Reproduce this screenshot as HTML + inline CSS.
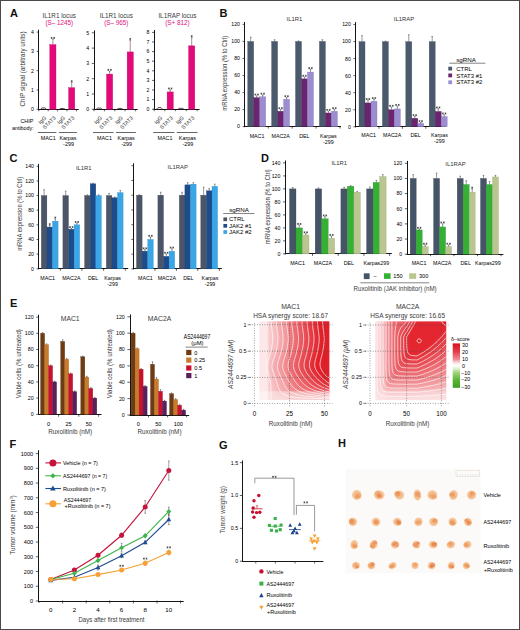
<!DOCTYPE html>
<html><head><meta charset="utf-8"><title>Figure</title>
<style>html,body{margin:0;padding:0;background:#fff;width:520px;height:630px;overflow:hidden}
svg{display:block;font-family:"Liberation Sans",sans-serif}</style></head>
<body><svg width="520" height="630" viewBox="0 0 520 630" font-family="Liberation Sans, sans-serif"><defs><linearGradient id="h1r0" x1="259.5" x2="329.3" y1="0" y2="0" gradientUnits="userSpaceOnUse"><stop offset="0.000" stop-color="#fce8e9"/><stop offset="0.036" stop-color="#fce8e9"/><stop offset="0.072" stop-color="#fce8e9"/><stop offset="0.107" stop-color="#fce8e9"/><stop offset="0.143" stop-color="#f8cacd"/><stop offset="0.179" stop-color="#f7c4c7"/><stop offset="0.215" stop-color="#f6bbbe"/><stop offset="0.251" stop-color="#f5b2b5"/><stop offset="0.287" stop-color="#f4a9ad"/><stop offset="0.322" stop-color="#f3a0a5"/><stop offset="0.358" stop-color="#f2989d"/><stop offset="0.394" stop-color="#f19195"/><stop offset="0.430" stop-color="#ee7b81"/><stop offset="0.466" stop-color="#ed7379"/><stop offset="0.501" stop-color="#ec6b71"/><stop offset="0.537" stop-color="#eb636a"/><stop offset="0.573" stop-color="#ea5b62"/><stop offset="0.609" stop-color="#e9535b"/><stop offset="0.645" stop-color="#e84c54"/><stop offset="0.681" stop-color="#e7454d"/><stop offset="0.716" stop-color="#e63d46"/><stop offset="0.752" stop-color="#e5363f"/><stop offset="0.788" stop-color="#e42f38"/><stop offset="0.824" stop-color="#e32832"/><stop offset="0.860" stop-color="#e2212b"/><stop offset="0.895" stop-color="#e21e28"/><stop offset="0.931" stop-color="#e21e28"/><stop offset="0.967" stop-color="#e21e28"/></linearGradient><linearGradient id="h1r1" x1="259.5" x2="329.3" y1="0" y2="0" gradientUnits="userSpaceOnUse"><stop offset="0.000" stop-color="#fce8e9"/><stop offset="0.036" stop-color="#fce8e9"/><stop offset="0.072" stop-color="#fce8e9"/><stop offset="0.107" stop-color="#fce8e9"/><stop offset="0.143" stop-color="#f8cacd"/><stop offset="0.179" stop-color="#f7c5c7"/><stop offset="0.215" stop-color="#f6bbbe"/><stop offset="0.251" stop-color="#f5b2b5"/><stop offset="0.287" stop-color="#f4a9ad"/><stop offset="0.322" stop-color="#f3a1a5"/><stop offset="0.358" stop-color="#f2999d"/><stop offset="0.394" stop-color="#f19196"/><stop offset="0.430" stop-color="#ee7c82"/><stop offset="0.466" stop-color="#ed737a"/><stop offset="0.501" stop-color="#ec6b72"/><stop offset="0.537" stop-color="#eb636a"/><stop offset="0.573" stop-color="#ea5c63"/><stop offset="0.609" stop-color="#e9545b"/><stop offset="0.645" stop-color="#e84c54"/><stop offset="0.681" stop-color="#e7454d"/><stop offset="0.716" stop-color="#e63e46"/><stop offset="0.752" stop-color="#e5363f"/><stop offset="0.788" stop-color="#e42f39"/><stop offset="0.824" stop-color="#e32832"/><stop offset="0.860" stop-color="#e2212b"/><stop offset="0.895" stop-color="#e21e28"/><stop offset="0.931" stop-color="#e21e28"/><stop offset="0.967" stop-color="#e21e28"/></linearGradient><linearGradient id="h1r2" x1="259.5" x2="329.3" y1="0" y2="0" gradientUnits="userSpaceOnUse"><stop offset="0.000" stop-color="#fce8e9"/><stop offset="0.036" stop-color="#fce8e9"/><stop offset="0.072" stop-color="#fce8e9"/><stop offset="0.107" stop-color="#fce8e9"/><stop offset="0.143" stop-color="#f8cacd"/><stop offset="0.179" stop-color="#f8c5c8"/><stop offset="0.215" stop-color="#f6bcbf"/><stop offset="0.251" stop-color="#f5b3b6"/><stop offset="0.287" stop-color="#f4aaae"/><stop offset="0.322" stop-color="#f3a1a6"/><stop offset="0.358" stop-color="#f2999e"/><stop offset="0.394" stop-color="#f19196"/><stop offset="0.430" stop-color="#ee7c82"/><stop offset="0.466" stop-color="#ed747a"/><stop offset="0.501" stop-color="#ec6c72"/><stop offset="0.537" stop-color="#eb646b"/><stop offset="0.573" stop-color="#ea5c63"/><stop offset="0.609" stop-color="#e9545c"/><stop offset="0.645" stop-color="#e84d55"/><stop offset="0.681" stop-color="#e7454e"/><stop offset="0.716" stop-color="#e63e47"/><stop offset="0.752" stop-color="#e53740"/><stop offset="0.788" stop-color="#e43039"/><stop offset="0.824" stop-color="#e32932"/><stop offset="0.860" stop-color="#e3222c"/><stop offset="0.895" stop-color="#e21e28"/><stop offset="0.931" stop-color="#e21e28"/><stop offset="0.967" stop-color="#e21e28"/></linearGradient><linearGradient id="h1r3" x1="259.5" x2="329.3" y1="0" y2="0" gradientUnits="userSpaceOnUse"><stop offset="0.000" stop-color="#fce8e9"/><stop offset="0.036" stop-color="#fce8e9"/><stop offset="0.072" stop-color="#fce8e9"/><stop offset="0.107" stop-color="#fce8e9"/><stop offset="0.143" stop-color="#f8cacd"/><stop offset="0.179" stop-color="#f8c6c9"/><stop offset="0.215" stop-color="#f6bdc0"/><stop offset="0.251" stop-color="#f5b3b7"/><stop offset="0.287" stop-color="#f4abae"/><stop offset="0.322" stop-color="#f3a2a6"/><stop offset="0.358" stop-color="#f29a9f"/><stop offset="0.394" stop-color="#f19297"/><stop offset="0.430" stop-color="#ee7d83"/><stop offset="0.466" stop-color="#ed757b"/><stop offset="0.501" stop-color="#ec6d73"/><stop offset="0.537" stop-color="#eb656c"/><stop offset="0.573" stop-color="#ea5d64"/><stop offset="0.609" stop-color="#e9555d"/><stop offset="0.645" stop-color="#e84e55"/><stop offset="0.681" stop-color="#e7464e"/><stop offset="0.716" stop-color="#e63f47"/><stop offset="0.752" stop-color="#e53841"/><stop offset="0.788" stop-color="#e4313a"/><stop offset="0.824" stop-color="#e32a33"/><stop offset="0.860" stop-color="#e3232c"/><stop offset="0.895" stop-color="#e21e28"/><stop offset="0.931" stop-color="#e21e28"/><stop offset="0.967" stop-color="#e21e28"/></linearGradient><linearGradient id="h1r4" x1="259.5" x2="329.3" y1="0" y2="0" gradientUnits="userSpaceOnUse"><stop offset="0.000" stop-color="#fce8e9"/><stop offset="0.036" stop-color="#fce8e9"/><stop offset="0.072" stop-color="#fce8e9"/><stop offset="0.107" stop-color="#fce8e9"/><stop offset="0.143" stop-color="#f8cacd"/><stop offset="0.179" stop-color="#f8c7ca"/><stop offset="0.215" stop-color="#f7bec1"/><stop offset="0.251" stop-color="#f5b4b8"/><stop offset="0.287" stop-color="#f4acaf"/><stop offset="0.322" stop-color="#f3a3a7"/><stop offset="0.358" stop-color="#f29b9f"/><stop offset="0.394" stop-color="#f19398"/><stop offset="0.430" stop-color="#ee7e84"/><stop offset="0.466" stop-color="#ed767c"/><stop offset="0.501" stop-color="#ec6e74"/><stop offset="0.537" stop-color="#eb666c"/><stop offset="0.573" stop-color="#ea5e65"/><stop offset="0.609" stop-color="#e9565d"/><stop offset="0.645" stop-color="#e84e56"/><stop offset="0.681" stop-color="#e7474f"/><stop offset="0.716" stop-color="#e64048"/><stop offset="0.752" stop-color="#e53841"/><stop offset="0.788" stop-color="#e4313a"/><stop offset="0.824" stop-color="#e42a34"/><stop offset="0.860" stop-color="#e3232d"/><stop offset="0.895" stop-color="#e21e28"/><stop offset="0.931" stop-color="#e21e28"/><stop offset="0.967" stop-color="#e21e28"/></linearGradient><linearGradient id="h1r5" x1="259.5" x2="329.3" y1="0" y2="0" gradientUnits="userSpaceOnUse"><stop offset="0.000" stop-color="#fce8e9"/><stop offset="0.036" stop-color="#fce8e9"/><stop offset="0.072" stop-color="#fce8e9"/><stop offset="0.107" stop-color="#fce8e9"/><stop offset="0.143" stop-color="#f8cacd"/><stop offset="0.179" stop-color="#f8c7ca"/><stop offset="0.215" stop-color="#f7bfc2"/><stop offset="0.251" stop-color="#f6b5b9"/><stop offset="0.287" stop-color="#f4adb0"/><stop offset="0.322" stop-color="#f3a4a8"/><stop offset="0.358" stop-color="#f29ca0"/><stop offset="0.394" stop-color="#f19499"/><stop offset="0.430" stop-color="#ef7f85"/><stop offset="0.466" stop-color="#ed777d"/><stop offset="0.501" stop-color="#ec6e75"/><stop offset="0.537" stop-color="#eb666d"/><stop offset="0.573" stop-color="#ea5f66"/><stop offset="0.609" stop-color="#e9575e"/><stop offset="0.645" stop-color="#e84f57"/><stop offset="0.681" stop-color="#e74850"/><stop offset="0.716" stop-color="#e64049"/><stop offset="0.752" stop-color="#e63942"/><stop offset="0.788" stop-color="#e5323b"/><stop offset="0.824" stop-color="#e42b35"/><stop offset="0.860" stop-color="#e3242e"/><stop offset="0.895" stop-color="#e21e28"/><stop offset="0.931" stop-color="#e21e28"/><stop offset="0.967" stop-color="#e21e28"/></linearGradient><linearGradient id="h1r6" x1="259.5" x2="329.3" y1="0" y2="0" gradientUnits="userSpaceOnUse"><stop offset="0.000" stop-color="#fce8e9"/><stop offset="0.036" stop-color="#fce8e9"/><stop offset="0.072" stop-color="#fce8e9"/><stop offset="0.107" stop-color="#fce8e9"/><stop offset="0.143" stop-color="#f8cacd"/><stop offset="0.179" stop-color="#f8c7ca"/><stop offset="0.215" stop-color="#f7c0c2"/><stop offset="0.251" stop-color="#f6b6b9"/><stop offset="0.287" stop-color="#f4adb1"/><stop offset="0.322" stop-color="#f3a5a9"/><stop offset="0.358" stop-color="#f29da1"/><stop offset="0.394" stop-color="#f19599"/><stop offset="0.430" stop-color="#ef8085"/><stop offset="0.466" stop-color="#ee777d"/><stop offset="0.501" stop-color="#ec6f76"/><stop offset="0.537" stop-color="#eb676e"/><stop offset="0.573" stop-color="#ea5f66"/><stop offset="0.609" stop-color="#e9585f"/><stop offset="0.645" stop-color="#e85058"/><stop offset="0.681" stop-color="#e74951"/><stop offset="0.716" stop-color="#e7414a"/><stop offset="0.752" stop-color="#e63a43"/><stop offset="0.788" stop-color="#e5333c"/><stop offset="0.824" stop-color="#e42c35"/><stop offset="0.860" stop-color="#e3252f"/><stop offset="0.895" stop-color="#e21e28"/><stop offset="0.931" stop-color="#e21e28"/><stop offset="0.967" stop-color="#e21e28"/></linearGradient><linearGradient id="h1r7" x1="259.5" x2="329.3" y1="0" y2="0" gradientUnits="userSpaceOnUse"><stop offset="0.000" stop-color="#fce8e9"/><stop offset="0.036" stop-color="#fce8e9"/><stop offset="0.072" stop-color="#fce8e9"/><stop offset="0.107" stop-color="#fce8e9"/><stop offset="0.143" stop-color="#f8cacd"/><stop offset="0.179" stop-color="#f8c7ca"/><stop offset="0.215" stop-color="#f7c0c3"/><stop offset="0.251" stop-color="#f6b7ba"/><stop offset="0.287" stop-color="#f5aeb2"/><stop offset="0.322" stop-color="#f3a5a9"/><stop offset="0.358" stop-color="#f29da2"/><stop offset="0.394" stop-color="#f1959a"/><stop offset="0.430" stop-color="#ef8086"/><stop offset="0.466" stop-color="#ee787e"/><stop offset="0.501" stop-color="#ed7076"/><stop offset="0.537" stop-color="#ec686e"/><stop offset="0.573" stop-color="#ea6067"/><stop offset="0.609" stop-color="#e95860"/><stop offset="0.645" stop-color="#e95158"/><stop offset="0.681" stop-color="#e84951"/><stop offset="0.716" stop-color="#e7424a"/><stop offset="0.752" stop-color="#e63b43"/><stop offset="0.788" stop-color="#e5333c"/><stop offset="0.824" stop-color="#e42c36"/><stop offset="0.860" stop-color="#e3252f"/><stop offset="0.895" stop-color="#e21f29"/><stop offset="0.931" stop-color="#e21e28"/><stop offset="0.967" stop-color="#e21e28"/></linearGradient><linearGradient id="h1r8" x1="259.5" x2="329.3" y1="0" y2="0" gradientUnits="userSpaceOnUse"><stop offset="0.000" stop-color="#fce8e9"/><stop offset="0.036" stop-color="#fce8e9"/><stop offset="0.072" stop-color="#fce8e9"/><stop offset="0.107" stop-color="#fce8e9"/><stop offset="0.143" stop-color="#f8cacd"/><stop offset="0.179" stop-color="#f8c7ca"/><stop offset="0.215" stop-color="#f7c1c3"/><stop offset="0.251" stop-color="#f6b7ba"/><stop offset="0.287" stop-color="#f5aeb2"/><stop offset="0.322" stop-color="#f3a6aa"/><stop offset="0.358" stop-color="#f29da2"/><stop offset="0.394" stop-color="#f1959a"/><stop offset="0.430" stop-color="#ef8186"/><stop offset="0.466" stop-color="#ee787e"/><stop offset="0.501" stop-color="#ed7076"/><stop offset="0.537" stop-color="#ec686f"/><stop offset="0.573" stop-color="#eb6067"/><stop offset="0.609" stop-color="#ea5860"/><stop offset="0.645" stop-color="#e95159"/><stop offset="0.681" stop-color="#e84951"/><stop offset="0.716" stop-color="#e7424a"/><stop offset="0.752" stop-color="#e63b43"/><stop offset="0.788" stop-color="#e5343d"/><stop offset="0.824" stop-color="#e42d36"/><stop offset="0.860" stop-color="#e3262f"/><stop offset="0.895" stop-color="#e21f29"/><stop offset="0.931" stop-color="#e21e28"/><stop offset="0.967" stop-color="#e21e28"/></linearGradient><linearGradient id="h1r9" x1="259.5" x2="329.3" y1="0" y2="0" gradientUnits="userSpaceOnUse"><stop offset="0.000" stop-color="#fce8e9"/><stop offset="0.036" stop-color="#fce8e9"/><stop offset="0.072" stop-color="#fce8e9"/><stop offset="0.107" stop-color="#fce8e9"/><stop offset="0.143" stop-color="#f8cacd"/><stop offset="0.179" stop-color="#f8c7ca"/><stop offset="0.215" stop-color="#f7c0c3"/><stop offset="0.251" stop-color="#f6b7ba"/><stop offset="0.287" stop-color="#f5aeb2"/><stop offset="0.322" stop-color="#f3a6a9"/><stop offset="0.358" stop-color="#f29da2"/><stop offset="0.394" stop-color="#f1959a"/><stop offset="0.430" stop-color="#ef8186"/><stop offset="0.466" stop-color="#ee787e"/><stop offset="0.501" stop-color="#ed7076"/><stop offset="0.537" stop-color="#ec686f"/><stop offset="0.573" stop-color="#eb6067"/><stop offset="0.609" stop-color="#ea5860"/><stop offset="0.645" stop-color="#e95158"/><stop offset="0.681" stop-color="#e84951"/><stop offset="0.716" stop-color="#e7424a"/><stop offset="0.752" stop-color="#e63b43"/><stop offset="0.788" stop-color="#e5343d"/><stop offset="0.824" stop-color="#e42d36"/><stop offset="0.860" stop-color="#e3262f"/><stop offset="0.895" stop-color="#e21f29"/><stop offset="0.931" stop-color="#e21e28"/><stop offset="0.967" stop-color="#e21e28"/></linearGradient><linearGradient id="h1r10" x1="259.5" x2="329.3" y1="0" y2="0" gradientUnits="userSpaceOnUse"><stop offset="0.000" stop-color="#fce8e9"/><stop offset="0.036" stop-color="#fce8e9"/><stop offset="0.072" stop-color="#fce8e9"/><stop offset="0.107" stop-color="#fce8e9"/><stop offset="0.143" stop-color="#f8cacd"/><stop offset="0.179" stop-color="#f8c7ca"/><stop offset="0.215" stop-color="#f7c0c3"/><stop offset="0.251" stop-color="#f6b6ba"/><stop offset="0.287" stop-color="#f4adb1"/><stop offset="0.322" stop-color="#f3a5a9"/><stop offset="0.358" stop-color="#f29da1"/><stop offset="0.394" stop-color="#f1959a"/><stop offset="0.430" stop-color="#ef8086"/><stop offset="0.466" stop-color="#ee787e"/><stop offset="0.501" stop-color="#ec6f76"/><stop offset="0.537" stop-color="#eb676e"/><stop offset="0.573" stop-color="#ea6067"/><stop offset="0.609" stop-color="#e9585f"/><stop offset="0.645" stop-color="#e85058"/><stop offset="0.681" stop-color="#e84951"/><stop offset="0.716" stop-color="#e7424a"/><stop offset="0.752" stop-color="#e63a43"/><stop offset="0.788" stop-color="#e5333c"/><stop offset="0.824" stop-color="#e42c36"/><stop offset="0.860" stop-color="#e3252f"/><stop offset="0.895" stop-color="#e21e28"/><stop offset="0.931" stop-color="#e21e28"/><stop offset="0.967" stop-color="#e21e28"/></linearGradient><linearGradient id="h1r11" x1="259.5" x2="329.3" y1="0" y2="0" gradientUnits="userSpaceOnUse"><stop offset="0.000" stop-color="#fce8e9"/><stop offset="0.036" stop-color="#fce8e9"/><stop offset="0.072" stop-color="#fce8e9"/><stop offset="0.107" stop-color="#fce8e9"/><stop offset="0.143" stop-color="#f8cacd"/><stop offset="0.179" stop-color="#f8c7ca"/><stop offset="0.215" stop-color="#f7bfc2"/><stop offset="0.251" stop-color="#f6b5b9"/><stop offset="0.287" stop-color="#f4adb0"/><stop offset="0.322" stop-color="#f3a4a8"/><stop offset="0.358" stop-color="#f29ca0"/><stop offset="0.394" stop-color="#f19499"/><stop offset="0.430" stop-color="#ef7f85"/><stop offset="0.466" stop-color="#ed777d"/><stop offset="0.501" stop-color="#ec6f75"/><stop offset="0.537" stop-color="#eb676d"/><stop offset="0.573" stop-color="#ea5f66"/><stop offset="0.609" stop-color="#e9575f"/><stop offset="0.645" stop-color="#e85057"/><stop offset="0.681" stop-color="#e74850"/><stop offset="0.716" stop-color="#e64149"/><stop offset="0.752" stop-color="#e63a42"/><stop offset="0.788" stop-color="#e5333c"/><stop offset="0.824" stop-color="#e42c35"/><stop offset="0.860" stop-color="#e3252e"/><stop offset="0.895" stop-color="#e21e28"/><stop offset="0.931" stop-color="#e21e28"/><stop offset="0.967" stop-color="#e21e28"/></linearGradient><linearGradient id="h1r12" x1="259.5" x2="329.3" y1="0" y2="0" gradientUnits="userSpaceOnUse"><stop offset="0.000" stop-color="#fce8e9"/><stop offset="0.036" stop-color="#fce8e9"/><stop offset="0.072" stop-color="#fce8e9"/><stop offset="0.107" stop-color="#fce8e9"/><stop offset="0.143" stop-color="#f8cacd"/><stop offset="0.179" stop-color="#f8c7ca"/><stop offset="0.215" stop-color="#f7bdc0"/><stop offset="0.251" stop-color="#f5b4b8"/><stop offset="0.287" stop-color="#f4abaf"/><stop offset="0.322" stop-color="#f3a3a7"/><stop offset="0.358" stop-color="#f29b9f"/><stop offset="0.394" stop-color="#f19398"/><stop offset="0.430" stop-color="#ee7e84"/><stop offset="0.466" stop-color="#ed767c"/><stop offset="0.501" stop-color="#ec6e74"/><stop offset="0.537" stop-color="#eb666c"/><stop offset="0.573" stop-color="#ea5e65"/><stop offset="0.609" stop-color="#e9565e"/><stop offset="0.645" stop-color="#e84f57"/><stop offset="0.681" stop-color="#e7474f"/><stop offset="0.716" stop-color="#e64048"/><stop offset="0.752" stop-color="#e53942"/><stop offset="0.788" stop-color="#e5323b"/><stop offset="0.824" stop-color="#e42b34"/><stop offset="0.860" stop-color="#e3242e"/><stop offset="0.895" stop-color="#e21e28"/><stop offset="0.931" stop-color="#e21e28"/><stop offset="0.967" stop-color="#e21e28"/></linearGradient><linearGradient id="h1r13" x1="259.5" x2="329.3" y1="0" y2="0" gradientUnits="userSpaceOnUse"><stop offset="0.000" stop-color="#fce8e9"/><stop offset="0.036" stop-color="#fce8e9"/><stop offset="0.072" stop-color="#fce8e9"/><stop offset="0.107" stop-color="#fce8e9"/><stop offset="0.143" stop-color="#f8cacd"/><stop offset="0.179" stop-color="#f8c6c8"/><stop offset="0.215" stop-color="#f6bcbf"/><stop offset="0.251" stop-color="#f5b3b6"/><stop offset="0.287" stop-color="#f4aaae"/><stop offset="0.322" stop-color="#f3a2a6"/><stop offset="0.358" stop-color="#f29a9e"/><stop offset="0.394" stop-color="#f19297"/><stop offset="0.430" stop-color="#ee7d83"/><stop offset="0.466" stop-color="#ed757b"/><stop offset="0.501" stop-color="#ec6c73"/><stop offset="0.537" stop-color="#eb656b"/><stop offset="0.573" stop-color="#ea5d64"/><stop offset="0.609" stop-color="#e9555d"/><stop offset="0.645" stop-color="#e84e56"/><stop offset="0.681" stop-color="#e7464e"/><stop offset="0.716" stop-color="#e63f48"/><stop offset="0.752" stop-color="#e53841"/><stop offset="0.788" stop-color="#e4313a"/><stop offset="0.824" stop-color="#e42a33"/><stop offset="0.860" stop-color="#e3232d"/><stop offset="0.895" stop-color="#e21e28"/><stop offset="0.931" stop-color="#e21e28"/><stop offset="0.967" stop-color="#e21e28"/></linearGradient><linearGradient id="h1r14" x1="259.5" x2="329.3" y1="0" y2="0" gradientUnits="userSpaceOnUse"><stop offset="0.000" stop-color="#fce8e9"/><stop offset="0.036" stop-color="#fce8e9"/><stop offset="0.072" stop-color="#fce8e9"/><stop offset="0.107" stop-color="#fce8e9"/><stop offset="0.143" stop-color="#f8cacd"/><stop offset="0.179" stop-color="#f7c4c6"/><stop offset="0.215" stop-color="#f6babd"/><stop offset="0.251" stop-color="#f5b1b5"/><stop offset="0.287" stop-color="#f4a9ad"/><stop offset="0.322" stop-color="#f3a0a5"/><stop offset="0.358" stop-color="#f2989d"/><stop offset="0.394" stop-color="#f19196"/><stop offset="0.430" stop-color="#ee7b81"/><stop offset="0.466" stop-color="#ed7379"/><stop offset="0.501" stop-color="#ec6b72"/><stop offset="0.537" stop-color="#eb636a"/><stop offset="0.573" stop-color="#ea5c63"/><stop offset="0.609" stop-color="#e9545c"/><stop offset="0.645" stop-color="#e84c54"/><stop offset="0.681" stop-color="#e7454d"/><stop offset="0.716" stop-color="#e63e46"/><stop offset="0.752" stop-color="#e53740"/><stop offset="0.788" stop-color="#e43039"/><stop offset="0.824" stop-color="#e32932"/><stop offset="0.860" stop-color="#e3222c"/><stop offset="0.895" stop-color="#e21e28"/><stop offset="0.931" stop-color="#e21e28"/><stop offset="0.967" stop-color="#e21e28"/></linearGradient><linearGradient id="h1r15" x1="259.5" x2="329.3" y1="0" y2="0" gradientUnits="userSpaceOnUse"><stop offset="0.000" stop-color="#fce8e9"/><stop offset="0.036" stop-color="#fce8e9"/><stop offset="0.072" stop-color="#fce8e9"/><stop offset="0.107" stop-color="#fce8e9"/><stop offset="0.143" stop-color="#f8cacd"/><stop offset="0.179" stop-color="#f7c2c5"/><stop offset="0.215" stop-color="#f6b9bc"/><stop offset="0.251" stop-color="#f5b0b3"/><stop offset="0.287" stop-color="#f4a7ab"/><stop offset="0.322" stop-color="#f39fa3"/><stop offset="0.358" stop-color="#f2979c"/><stop offset="0.394" stop-color="#f18f94"/><stop offset="0.430" stop-color="#ee7a80"/><stop offset="0.466" stop-color="#ed7278"/><stop offset="0.501" stop-color="#ec6a70"/><stop offset="0.537" stop-color="#eb6269"/><stop offset="0.573" stop-color="#ea5a62"/><stop offset="0.609" stop-color="#e9535a"/><stop offset="0.645" stop-color="#e84b53"/><stop offset="0.681" stop-color="#e7444c"/><stop offset="0.716" stop-color="#e63d45"/><stop offset="0.752" stop-color="#e5363f"/><stop offset="0.788" stop-color="#e42f38"/><stop offset="0.824" stop-color="#e32831"/><stop offset="0.860" stop-color="#e2212b"/><stop offset="0.895" stop-color="#e21e28"/><stop offset="0.931" stop-color="#e21e28"/><stop offset="0.967" stop-color="#e21e28"/></linearGradient><linearGradient id="h1r16" x1="259.5" x2="329.3" y1="0" y2="0" gradientUnits="userSpaceOnUse"><stop offset="0.000" stop-color="#fce8e9"/><stop offset="0.036" stop-color="#fce8e9"/><stop offset="0.072" stop-color="#fce8e9"/><stop offset="0.107" stop-color="#fce8e9"/><stop offset="0.143" stop-color="#f8cacd"/><stop offset="0.179" stop-color="#f7c0c3"/><stop offset="0.215" stop-color="#f6b6ba"/><stop offset="0.251" stop-color="#f5aeb1"/><stop offset="0.287" stop-color="#f3a5a9"/><stop offset="0.322" stop-color="#f29da1"/><stop offset="0.358" stop-color="#f1959a"/><stop offset="0.394" stop-color="#f08e93"/><stop offset="0.430" stop-color="#ee787e"/><stop offset="0.466" stop-color="#ed7076"/><stop offset="0.501" stop-color="#ec686f"/><stop offset="0.537" stop-color="#eb6067"/><stop offset="0.573" stop-color="#ea5960"/><stop offset="0.609" stop-color="#e95159"/><stop offset="0.645" stop-color="#e84a52"/><stop offset="0.681" stop-color="#e7424b"/><stop offset="0.716" stop-color="#e63b44"/><stop offset="0.752" stop-color="#e5343d"/><stop offset="0.788" stop-color="#e42d37"/><stop offset="0.824" stop-color="#e32630"/><stop offset="0.860" stop-color="#e22029"/><stop offset="0.895" stop-color="#e21e28"/><stop offset="0.931" stop-color="#e21e28"/><stop offset="0.967" stop-color="#e21e28"/></linearGradient><linearGradient id="h1r17" x1="259.5" x2="329.3" y1="0" y2="0" gradientUnits="userSpaceOnUse"><stop offset="0.000" stop-color="#fce8e9"/><stop offset="0.036" stop-color="#fce8e9"/><stop offset="0.072" stop-color="#fce8e9"/><stop offset="0.107" stop-color="#fce8e9"/><stop offset="0.143" stop-color="#f8cacc"/><stop offset="0.179" stop-color="#f7bdc0"/><stop offset="0.215" stop-color="#f5b4b8"/><stop offset="0.251" stop-color="#f4acaf"/><stop offset="0.287" stop-color="#f3a3a7"/><stop offset="0.322" stop-color="#f29ba0"/><stop offset="0.358" stop-color="#f19398"/><stop offset="0.394" stop-color="#f08c91"/><stop offset="0.430" stop-color="#ed767c"/><stop offset="0.466" stop-color="#ec6e75"/><stop offset="0.501" stop-color="#eb666d"/><stop offset="0.537" stop-color="#ea5f66"/><stop offset="0.573" stop-color="#e9575e"/><stop offset="0.609" stop-color="#e84f57"/><stop offset="0.645" stop-color="#e74850"/><stop offset="0.681" stop-color="#e64149"/><stop offset="0.716" stop-color="#e63a43"/><stop offset="0.752" stop-color="#e5333c"/><stop offset="0.788" stop-color="#e42c35"/><stop offset="0.824" stop-color="#e3252f"/><stop offset="0.860" stop-color="#e21e28"/><stop offset="0.895" stop-color="#e21e28"/><stop offset="0.931" stop-color="#e21e28"/><stop offset="0.967" stop-color="#e21e28"/></linearGradient><linearGradient id="h1r18" x1="259.5" x2="329.3" y1="0" y2="0" gradientUnits="userSpaceOnUse"><stop offset="0.000" stop-color="#fce8e9"/><stop offset="0.036" stop-color="#fce8e9"/><stop offset="0.072" stop-color="#fce8e9"/><stop offset="0.107" stop-color="#fce8e9"/><stop offset="0.143" stop-color="#f8c7ca"/><stop offset="0.179" stop-color="#f6bbbe"/><stop offset="0.215" stop-color="#f5b2b5"/><stop offset="0.251" stop-color="#f4a9ad"/><stop offset="0.287" stop-color="#f3a1a5"/><stop offset="0.322" stop-color="#f2999e"/><stop offset="0.358" stop-color="#f19196"/><stop offset="0.394" stop-color="#f08a8f"/><stop offset="0.430" stop-color="#ed747a"/><stop offset="0.466" stop-color="#ec6c73"/><stop offset="0.501" stop-color="#eb646b"/><stop offset="0.537" stop-color="#ea5d64"/><stop offset="0.573" stop-color="#e9555d"/><stop offset="0.609" stop-color="#e84e56"/><stop offset="0.645" stop-color="#e7464f"/><stop offset="0.681" stop-color="#e63f48"/><stop offset="0.716" stop-color="#e53841"/><stop offset="0.752" stop-color="#e4313a"/><stop offset="0.788" stop-color="#e42a34"/><stop offset="0.824" stop-color="#e3232d"/><stop offset="0.860" stop-color="#e21e28"/><stop offset="0.895" stop-color="#e21e28"/><stop offset="0.931" stop-color="#e21e28"/><stop offset="0.967" stop-color="#e21e28"/></linearGradient><linearGradient id="h1r19" x1="259.5" x2="329.3" y1="0" y2="0" gradientUnits="userSpaceOnUse"><stop offset="0.000" stop-color="#fce8e9"/><stop offset="0.036" stop-color="#fce8e9"/><stop offset="0.072" stop-color="#fce8e9"/><stop offset="0.107" stop-color="#fce8e9"/><stop offset="0.143" stop-color="#f7c5c7"/><stop offset="0.179" stop-color="#f6b8bb"/><stop offset="0.215" stop-color="#f5afb3"/><stop offset="0.251" stop-color="#f4a7ab"/><stop offset="0.287" stop-color="#f39fa3"/><stop offset="0.322" stop-color="#f2979c"/><stop offset="0.358" stop-color="#f18f94"/><stop offset="0.394" stop-color="#f0888d"/><stop offset="0.430" stop-color="#ed7278"/><stop offset="0.466" stop-color="#ec6a71"/><stop offset="0.501" stop-color="#eb6269"/><stop offset="0.537" stop-color="#ea5b62"/><stop offset="0.573" stop-color="#e9535b"/><stop offset="0.609" stop-color="#e84c54"/><stop offset="0.645" stop-color="#e7454d"/><stop offset="0.681" stop-color="#e63e46"/><stop offset="0.716" stop-color="#e53740"/><stop offset="0.752" stop-color="#e43039"/><stop offset="0.788" stop-color="#e32932"/><stop offset="0.824" stop-color="#e3222c"/><stop offset="0.860" stop-color="#e21e28"/><stop offset="0.895" stop-color="#e21e28"/><stop offset="0.931" stop-color="#e21e28"/><stop offset="0.967" stop-color="#e21e28"/></linearGradient><linearGradient id="h1r20" x1="259.5" x2="329.3" y1="0" y2="0" gradientUnits="userSpaceOnUse"><stop offset="0.000" stop-color="#fce8e9"/><stop offset="0.036" stop-color="#fce8e9"/><stop offset="0.072" stop-color="#fce8e9"/><stop offset="0.107" stop-color="#fce8e9"/><stop offset="0.143" stop-color="#f7c2c5"/><stop offset="0.179" stop-color="#f6b6b9"/><stop offset="0.215" stop-color="#f4adb1"/><stop offset="0.251" stop-color="#f3a5a9"/><stop offset="0.287" stop-color="#f29da1"/><stop offset="0.322" stop-color="#f1959a"/><stop offset="0.358" stop-color="#f08e93"/><stop offset="0.394" stop-color="#ef868c"/><stop offset="0.430" stop-color="#ed7077"/><stop offset="0.466" stop-color="#ec696f"/><stop offset="0.501" stop-color="#eb6168"/><stop offset="0.537" stop-color="#ea5961"/><stop offset="0.573" stop-color="#e9525a"/><stop offset="0.609" stop-color="#e84b53"/><stop offset="0.645" stop-color="#e7434c"/><stop offset="0.681" stop-color="#e63c45"/><stop offset="0.716" stop-color="#e5353e"/><stop offset="0.752" stop-color="#e42f38"/><stop offset="0.788" stop-color="#e32831"/><stop offset="0.824" stop-color="#e2212b"/><stop offset="0.860" stop-color="#e21e28"/><stop offset="0.895" stop-color="#e21e28"/><stop offset="0.931" stop-color="#e21e28"/><stop offset="0.967" stop-color="#e21e28"/></linearGradient><linearGradient id="h1r21" x1="259.5" x2="329.3" y1="0" y2="0" gradientUnits="userSpaceOnUse"><stop offset="0.000" stop-color="#fce8e9"/><stop offset="0.036" stop-color="#fce8e9"/><stop offset="0.072" stop-color="#fce8e9"/><stop offset="0.107" stop-color="#fce7e8"/><stop offset="0.143" stop-color="#f7c1c4"/><stop offset="0.179" stop-color="#f5b4b8"/><stop offset="0.215" stop-color="#f4acb0"/><stop offset="0.251" stop-color="#f3a4a8"/><stop offset="0.287" stop-color="#f29ca0"/><stop offset="0.322" stop-color="#f19499"/><stop offset="0.358" stop-color="#f08d92"/><stop offset="0.394" stop-color="#ef858b"/><stop offset="0.430" stop-color="#ec6f76"/><stop offset="0.466" stop-color="#eb686e"/><stop offset="0.501" stop-color="#eb6067"/><stop offset="0.537" stop-color="#ea5960"/><stop offset="0.573" stop-color="#e95159"/><stop offset="0.609" stop-color="#e84a52"/><stop offset="0.645" stop-color="#e7434b"/><stop offset="0.681" stop-color="#e63c44"/><stop offset="0.716" stop-color="#e5353e"/><stop offset="0.752" stop-color="#e42e37"/><stop offset="0.788" stop-color="#e32731"/><stop offset="0.824" stop-color="#e2212a"/><stop offset="0.860" stop-color="#e21e28"/><stop offset="0.895" stop-color="#e21e28"/><stop offset="0.931" stop-color="#e21e28"/><stop offset="0.967" stop-color="#e21e28"/></linearGradient><linearGradient id="h1r22" x1="259.5" x2="329.3" y1="0" y2="0" gradientUnits="userSpaceOnUse"><stop offset="0.000" stop-color="#fce8e9"/><stop offset="0.036" stop-color="#fce8e9"/><stop offset="0.072" stop-color="#fce8e9"/><stop offset="0.107" stop-color="#fce7e8"/><stop offset="0.143" stop-color="#f7c0c3"/><stop offset="0.179" stop-color="#f5b4b7"/><stop offset="0.215" stop-color="#f4abaf"/><stop offset="0.251" stop-color="#f3a3a7"/><stop offset="0.287" stop-color="#f29ba0"/><stop offset="0.322" stop-color="#f19499"/><stop offset="0.358" stop-color="#f08c91"/><stop offset="0.394" stop-color="#ef858b"/><stop offset="0.430" stop-color="#ec6f76"/><stop offset="0.466" stop-color="#eb686e"/><stop offset="0.501" stop-color="#eb6067"/><stop offset="0.537" stop-color="#ea5960"/><stop offset="0.573" stop-color="#e95159"/><stop offset="0.609" stop-color="#e84a52"/><stop offset="0.645" stop-color="#e7434b"/><stop offset="0.681" stop-color="#e63c45"/><stop offset="0.716" stop-color="#e5353e"/><stop offset="0.752" stop-color="#e42e38"/><stop offset="0.788" stop-color="#e32831"/><stop offset="0.824" stop-color="#e2212b"/><stop offset="0.860" stop-color="#e21e28"/><stop offset="0.895" stop-color="#e21e28"/><stop offset="0.931" stop-color="#e21e28"/><stop offset="0.967" stop-color="#e21e28"/></linearGradient><linearGradient id="h1r23" x1="259.5" x2="329.3" y1="0" y2="0" gradientUnits="userSpaceOnUse"><stop offset="0.000" stop-color="#fce8e9"/><stop offset="0.036" stop-color="#fce8e9"/><stop offset="0.072" stop-color="#fce8e9"/><stop offset="0.107" stop-color="#fce7e8"/><stop offset="0.143" stop-color="#f7c1c3"/><stop offset="0.179" stop-color="#f5b4b8"/><stop offset="0.215" stop-color="#f4acb0"/><stop offset="0.251" stop-color="#f3a4a8"/><stop offset="0.287" stop-color="#f29ca0"/><stop offset="0.322" stop-color="#f19499"/><stop offset="0.358" stop-color="#f08d92"/><stop offset="0.394" stop-color="#ef868b"/><stop offset="0.430" stop-color="#ed7077"/><stop offset="0.466" stop-color="#ec696f"/><stop offset="0.501" stop-color="#eb6168"/><stop offset="0.537" stop-color="#ea5a61"/><stop offset="0.573" stop-color="#e9525a"/><stop offset="0.609" stop-color="#e84b53"/><stop offset="0.645" stop-color="#e7444c"/><stop offset="0.681" stop-color="#e63d46"/><stop offset="0.716" stop-color="#e5363f"/><stop offset="0.752" stop-color="#e43039"/><stop offset="0.788" stop-color="#e32933"/><stop offset="0.824" stop-color="#e3222c"/><stop offset="0.860" stop-color="#e21e28"/><stop offset="0.895" stop-color="#e21e28"/><stop offset="0.931" stop-color="#e21e28"/><stop offset="0.967" stop-color="#e21e28"/></linearGradient><linearGradient id="h1r24" x1="259.5" x2="329.3" y1="0" y2="0" gradientUnits="userSpaceOnUse"><stop offset="0.000" stop-color="#fce8e9"/><stop offset="0.036" stop-color="#fce8e9"/><stop offset="0.072" stop-color="#fce8e9"/><stop offset="0.107" stop-color="#fce8e9"/><stop offset="0.143" stop-color="#f7c2c5"/><stop offset="0.179" stop-color="#f6b6b9"/><stop offset="0.215" stop-color="#f4adb1"/><stop offset="0.251" stop-color="#f3a5a9"/><stop offset="0.287" stop-color="#f29ea2"/><stop offset="0.322" stop-color="#f1969b"/><stop offset="0.358" stop-color="#f18f94"/><stop offset="0.394" stop-color="#f0888d"/><stop offset="0.430" stop-color="#ed7278"/><stop offset="0.466" stop-color="#ec6a71"/><stop offset="0.501" stop-color="#eb636a"/><stop offset="0.537" stop-color="#ea5c63"/><stop offset="0.573" stop-color="#e9545c"/><stop offset="0.609" stop-color="#e84d55"/><stop offset="0.645" stop-color="#e7464f"/><stop offset="0.681" stop-color="#e63f48"/><stop offset="0.716" stop-color="#e53941"/><stop offset="0.752" stop-color="#e5323b"/><stop offset="0.788" stop-color="#e42b35"/><stop offset="0.824" stop-color="#e3252e"/><stop offset="0.860" stop-color="#e21e28"/><stop offset="0.895" stop-color="#e21e28"/><stop offset="0.931" stop-color="#e21e28"/><stop offset="0.967" stop-color="#e21e28"/></linearGradient><linearGradient id="h1r25" x1="259.5" x2="329.3" y1="0" y2="0" gradientUnits="userSpaceOnUse"><stop offset="0.000" stop-color="#fce8e9"/><stop offset="0.036" stop-color="#fce8e9"/><stop offset="0.072" stop-color="#fce8e9"/><stop offset="0.107" stop-color="#fce8e9"/><stop offset="0.143" stop-color="#f7c4c6"/><stop offset="0.179" stop-color="#f6b8bb"/><stop offset="0.215" stop-color="#f5afb3"/><stop offset="0.251" stop-color="#f4a7ab"/><stop offset="0.287" stop-color="#f3a0a4"/><stop offset="0.322" stop-color="#f2989d"/><stop offset="0.358" stop-color="#f19196"/><stop offset="0.394" stop-color="#f08a8f"/><stop offset="0.430" stop-color="#ed757b"/><stop offset="0.466" stop-color="#ec6d74"/><stop offset="0.501" stop-color="#eb666c"/><stop offset="0.537" stop-color="#ea5e65"/><stop offset="0.573" stop-color="#e9575f"/><stop offset="0.609" stop-color="#e85058"/><stop offset="0.645" stop-color="#e84951"/><stop offset="0.681" stop-color="#e7424b"/><stop offset="0.716" stop-color="#e63c44"/><stop offset="0.752" stop-color="#e5353e"/><stop offset="0.788" stop-color="#e42e38"/><stop offset="0.824" stop-color="#e32831"/><stop offset="0.860" stop-color="#e2222b"/><stop offset="0.895" stop-color="#e21e28"/><stop offset="0.931" stop-color="#e21e28"/><stop offset="0.967" stop-color="#e21e28"/></linearGradient><linearGradient id="h1r26" x1="259.5" x2="329.3" y1="0" y2="0" gradientUnits="userSpaceOnUse"><stop offset="0.000" stop-color="#fce8e9"/><stop offset="0.036" stop-color="#fce8e9"/><stop offset="0.072" stop-color="#fce8e9"/><stop offset="0.107" stop-color="#fce8e9"/><stop offset="0.143" stop-color="#f8c6c9"/><stop offset="0.179" stop-color="#f6babd"/><stop offset="0.215" stop-color="#f5b2b5"/><stop offset="0.251" stop-color="#f4aaae"/><stop offset="0.287" stop-color="#f3a2a6"/><stop offset="0.322" stop-color="#f29b9f"/><stop offset="0.358" stop-color="#f19498"/><stop offset="0.394" stop-color="#f08d92"/><stop offset="0.430" stop-color="#ee787e"/><stop offset="0.466" stop-color="#ed7077"/><stop offset="0.501" stop-color="#ec6970"/><stop offset="0.537" stop-color="#eb6269"/><stop offset="0.573" stop-color="#ea5b62"/><stop offset="0.609" stop-color="#e9545b"/><stop offset="0.645" stop-color="#e84d55"/><stop offset="0.681" stop-color="#e7464e"/><stop offset="0.716" stop-color="#e63f48"/><stop offset="0.752" stop-color="#e53941"/><stop offset="0.788" stop-color="#e5323b"/><stop offset="0.824" stop-color="#e42c35"/><stop offset="0.860" stop-color="#e3252f"/><stop offset="0.895" stop-color="#e21f29"/><stop offset="0.931" stop-color="#e21e28"/><stop offset="0.967" stop-color="#e21e28"/></linearGradient><linearGradient id="h1r27" x1="259.5" x2="329.3" y1="0" y2="0" gradientUnits="userSpaceOnUse"><stop offset="0.000" stop-color="#fce8e9"/><stop offset="0.036" stop-color="#fce8e9"/><stop offset="0.072" stop-color="#fce8e9"/><stop offset="0.107" stop-color="#fce8e9"/><stop offset="0.143" stop-color="#f8c8cb"/><stop offset="0.179" stop-color="#f6bdc0"/><stop offset="0.215" stop-color="#f5b5b8"/><stop offset="0.251" stop-color="#f4adb0"/><stop offset="0.287" stop-color="#f3a5a9"/><stop offset="0.322" stop-color="#f29ea2"/><stop offset="0.358" stop-color="#f2969b"/><stop offset="0.394" stop-color="#f18f94"/><stop offset="0.430" stop-color="#ee7b81"/><stop offset="0.466" stop-color="#ed747a"/><stop offset="0.501" stop-color="#ec6c73"/><stop offset="0.537" stop-color="#eb656c"/><stop offset="0.573" stop-color="#ea5e65"/><stop offset="0.609" stop-color="#e9575f"/><stop offset="0.645" stop-color="#e95158"/><stop offset="0.681" stop-color="#e84a52"/><stop offset="0.716" stop-color="#e7434c"/><stop offset="0.752" stop-color="#e63d45"/><stop offset="0.788" stop-color="#e5363f"/><stop offset="0.824" stop-color="#e43039"/><stop offset="0.860" stop-color="#e42a33"/><stop offset="0.895" stop-color="#e3242d"/><stop offset="0.931" stop-color="#e21e28"/><stop offset="0.967" stop-color="#e21e28"/></linearGradient><linearGradient id="h1r28" x1="259.5" x2="329.3" y1="0" y2="0" gradientUnits="userSpaceOnUse"><stop offset="0.000" stop-color="#fce8e9"/><stop offset="0.036" stop-color="#fce8e9"/><stop offset="0.072" stop-color="#fce8e9"/><stop offset="0.107" stop-color="#fce8e9"/><stop offset="0.143" stop-color="#f8cacd"/><stop offset="0.179" stop-color="#f7bfc2"/><stop offset="0.215" stop-color="#f6b7ba"/><stop offset="0.251" stop-color="#f5afb3"/><stop offset="0.287" stop-color="#f4a8ab"/><stop offset="0.322" stop-color="#f3a0a5"/><stop offset="0.358" stop-color="#f2999e"/><stop offset="0.394" stop-color="#f19297"/><stop offset="0.430" stop-color="#ee7e84"/><stop offset="0.466" stop-color="#ed777d"/><stop offset="0.501" stop-color="#ed7076"/><stop offset="0.537" stop-color="#ec6970"/><stop offset="0.573" stop-color="#eb6269"/><stop offset="0.609" stop-color="#ea5b62"/><stop offset="0.645" stop-color="#e9555c"/><stop offset="0.681" stop-color="#e84e56"/><stop offset="0.716" stop-color="#e74750"/><stop offset="0.752" stop-color="#e7414a"/><stop offset="0.788" stop-color="#e63b43"/><stop offset="0.824" stop-color="#e5353e"/><stop offset="0.860" stop-color="#e42e38"/><stop offset="0.895" stop-color="#e32832"/><stop offset="0.931" stop-color="#e3222c"/><stop offset="0.967" stop-color="#e21e28"/></linearGradient><linearGradient id="h1r29" x1="259.5" x2="329.3" y1="0" y2="0" gradientUnits="userSpaceOnUse"><stop offset="0.000" stop-color="#fce8e9"/><stop offset="0.036" stop-color="#fce8e9"/><stop offset="0.072" stop-color="#fce8e9"/><stop offset="0.107" stop-color="#fce8e9"/><stop offset="0.143" stop-color="#f8cacd"/><stop offset="0.179" stop-color="#f7c1c4"/><stop offset="0.215" stop-color="#f6b9bc"/><stop offset="0.251" stop-color="#f5b1b5"/><stop offset="0.287" stop-color="#f4aaae"/><stop offset="0.322" stop-color="#f3a3a7"/><stop offset="0.358" stop-color="#f29ca0"/><stop offset="0.394" stop-color="#f1959a"/><stop offset="0.430" stop-color="#ef8287"/><stop offset="0.466" stop-color="#ee7b80"/><stop offset="0.501" stop-color="#ed747a"/><stop offset="0.537" stop-color="#ec6d73"/><stop offset="0.573" stop-color="#eb666d"/><stop offset="0.609" stop-color="#ea5f66"/><stop offset="0.645" stop-color="#ea5960"/><stop offset="0.681" stop-color="#e9525a"/><stop offset="0.716" stop-color="#e84c54"/><stop offset="0.752" stop-color="#e7464e"/><stop offset="0.788" stop-color="#e64048"/><stop offset="0.824" stop-color="#e63942"/><stop offset="0.860" stop-color="#e5333c"/><stop offset="0.895" stop-color="#e42d37"/><stop offset="0.931" stop-color="#e32831"/><stop offset="0.967" stop-color="#e2222c"/></linearGradient><linearGradient id="h1r30" x1="259.5" x2="329.3" y1="0" y2="0" gradientUnits="userSpaceOnUse"><stop offset="0.000" stop-color="#fce8e9"/><stop offset="0.036" stop-color="#fce8e9"/><stop offset="0.072" stop-color="#fce8e9"/><stop offset="0.107" stop-color="#fce8e9"/><stop offset="0.143" stop-color="#f8cacd"/><stop offset="0.179" stop-color="#f7c2c5"/><stop offset="0.215" stop-color="#f6bbbe"/><stop offset="0.251" stop-color="#f5b3b7"/><stop offset="0.287" stop-color="#f4acb0"/><stop offset="0.322" stop-color="#f3a5a9"/><stop offset="0.358" stop-color="#f39ea3"/><stop offset="0.394" stop-color="#f2989c"/><stop offset="0.430" stop-color="#ef858a"/><stop offset="0.466" stop-color="#ee7e84"/><stop offset="0.501" stop-color="#ed777d"/><stop offset="0.537" stop-color="#ed7077"/><stop offset="0.573" stop-color="#ec6a71"/><stop offset="0.609" stop-color="#eb636a"/><stop offset="0.645" stop-color="#ea5d64"/><stop offset="0.681" stop-color="#e9575e"/><stop offset="0.716" stop-color="#e95158"/><stop offset="0.752" stop-color="#e84b53"/><stop offset="0.788" stop-color="#e7454d"/><stop offset="0.824" stop-color="#e63f47"/><stop offset="0.860" stop-color="#e53942"/><stop offset="0.895" stop-color="#e5333c"/><stop offset="0.931" stop-color="#e42d37"/><stop offset="0.967" stop-color="#e32831"/></linearGradient><linearGradient id="h1r31" x1="259.5" x2="329.3" y1="0" y2="0" gradientUnits="userSpaceOnUse"><stop offset="0.000" stop-color="#fce8e9"/><stop offset="0.036" stop-color="#fce8e9"/><stop offset="0.072" stop-color="#fce8e9"/><stop offset="0.107" stop-color="#fce8e9"/><stop offset="0.143" stop-color="#f8cacd"/><stop offset="0.179" stop-color="#f7c3c6"/><stop offset="0.215" stop-color="#f6bcbf"/><stop offset="0.251" stop-color="#f5b5b8"/><stop offset="0.287" stop-color="#f5aeb2"/><stop offset="0.322" stop-color="#f4a7ab"/><stop offset="0.358" stop-color="#f3a1a5"/><stop offset="0.394" stop-color="#f29b9f"/><stop offset="0.430" stop-color="#f0888e"/><stop offset="0.466" stop-color="#ef8287"/><stop offset="0.501" stop-color="#ee7b81"/><stop offset="0.537" stop-color="#ed757b"/><stop offset="0.573" stop-color="#ec6e75"/><stop offset="0.609" stop-color="#ec686f"/><stop offset="0.645" stop-color="#eb6269"/><stop offset="0.681" stop-color="#ea5c63"/><stop offset="0.716" stop-color="#e9565e"/><stop offset="0.752" stop-color="#e85058"/><stop offset="0.788" stop-color="#e84a52"/><stop offset="0.824" stop-color="#e7454d"/><stop offset="0.860" stop-color="#e63f48"/><stop offset="0.895" stop-color="#e63a42"/><stop offset="0.931" stop-color="#e5343d"/><stop offset="0.967" stop-color="#e42f38"/></linearGradient><linearGradient id="h1r32" x1="259.5" x2="329.3" y1="0" y2="0" gradientUnits="userSpaceOnUse"><stop offset="0.000" stop-color="#fce8e9"/><stop offset="0.036" stop-color="#fce8e9"/><stop offset="0.072" stop-color="#fce8e9"/><stop offset="0.107" stop-color="#fce8e9"/><stop offset="0.143" stop-color="#f8cacd"/><stop offset="0.179" stop-color="#f7c4c7"/><stop offset="0.215" stop-color="#f6bdc0"/><stop offset="0.251" stop-color="#f6b6ba"/><stop offset="0.287" stop-color="#f5b0b3"/><stop offset="0.322" stop-color="#f4aaad"/><stop offset="0.358" stop-color="#f3a3a8"/><stop offset="0.394" stop-color="#f29ea2"/><stop offset="0.430" stop-color="#f08c91"/><stop offset="0.466" stop-color="#ef868b"/><stop offset="0.501" stop-color="#ef7f85"/><stop offset="0.537" stop-color="#ee797f"/><stop offset="0.573" stop-color="#ed7379"/><stop offset="0.609" stop-color="#ec6d74"/><stop offset="0.645" stop-color="#eb686e"/><stop offset="0.681" stop-color="#eb6269"/><stop offset="0.716" stop-color="#ea5c63"/><stop offset="0.752" stop-color="#e9575e"/><stop offset="0.788" stop-color="#e95159"/><stop offset="0.824" stop-color="#e84c54"/><stop offset="0.860" stop-color="#e7464f"/><stop offset="0.895" stop-color="#e74149"/><stop offset="0.931" stop-color="#e63c44"/><stop offset="0.967" stop-color="#e53740"/></linearGradient><linearGradient id="h1r33" x1="259.5" x2="329.3" y1="0" y2="0" gradientUnits="userSpaceOnUse"><stop offset="0.000" stop-color="#fce8e9"/><stop offset="0.036" stop-color="#fce8e9"/><stop offset="0.072" stop-color="#fce8e9"/><stop offset="0.107" stop-color="#fce8e9"/><stop offset="0.143" stop-color="#f8cacd"/><stop offset="0.179" stop-color="#f7c5c7"/><stop offset="0.215" stop-color="#f7bec1"/><stop offset="0.251" stop-color="#f6b8bb"/><stop offset="0.287" stop-color="#f5b2b5"/><stop offset="0.322" stop-color="#f4acb0"/><stop offset="0.358" stop-color="#f4a6aa"/><stop offset="0.394" stop-color="#f3a1a5"/><stop offset="0.430" stop-color="#f19095"/><stop offset="0.466" stop-color="#f08a8f"/><stop offset="0.501" stop-color="#ef848a"/><stop offset="0.537" stop-color="#ee7f84"/><stop offset="0.573" stop-color="#ee797f"/><stop offset="0.609" stop-color="#ed737a"/><stop offset="0.645" stop-color="#ec6e75"/><stop offset="0.681" stop-color="#ec696f"/><stop offset="0.716" stop-color="#eb636a"/><stop offset="0.752" stop-color="#ea5e65"/><stop offset="0.788" stop-color="#ea5960"/><stop offset="0.824" stop-color="#e9545c"/><stop offset="0.860" stop-color="#e84f57"/><stop offset="0.895" stop-color="#e84a52"/><stop offset="0.931" stop-color="#e7454d"/><stop offset="0.967" stop-color="#e64049"/></linearGradient><linearGradient id="h1r34" x1="259.5" x2="329.3" y1="0" y2="0" gradientUnits="userSpaceOnUse"><stop offset="0.000" stop-color="#fce8e9"/><stop offset="0.036" stop-color="#fce8e9"/><stop offset="0.072" stop-color="#fce8e9"/><stop offset="0.107" stop-color="#fce8e9"/><stop offset="0.143" stop-color="#f8cacd"/><stop offset="0.179" stop-color="#f8c5c8"/><stop offset="0.215" stop-color="#f7bfc2"/><stop offset="0.251" stop-color="#f6babd"/><stop offset="0.287" stop-color="#f5b4b7"/><stop offset="0.322" stop-color="#f5afb2"/><stop offset="0.358" stop-color="#f4aaae"/><stop offset="0.394" stop-color="#f3a5a9"/><stop offset="0.430" stop-color="#f1959a"/><stop offset="0.466" stop-color="#f18f94"/><stop offset="0.501" stop-color="#f08a8f"/><stop offset="0.537" stop-color="#ef858a"/><stop offset="0.573" stop-color="#ef8086"/><stop offset="0.609" stop-color="#ee7b81"/><stop offset="0.645" stop-color="#ed767c"/><stop offset="0.681" stop-color="#ed7177"/><stop offset="0.716" stop-color="#ec6c73"/><stop offset="0.752" stop-color="#eb686e"/><stop offset="0.788" stop-color="#eb636a"/><stop offset="0.824" stop-color="#ea5e65"/><stop offset="0.860" stop-color="#ea5a61"/><stop offset="0.895" stop-color="#e9555d"/><stop offset="0.931" stop-color="#e95158"/><stop offset="0.967" stop-color="#e84c54"/></linearGradient><linearGradient id="h1r35" x1="259.5" x2="329.3" y1="0" y2="0" gradientUnits="userSpaceOnUse"><stop offset="0.000" stop-color="#fdf1f1"/><stop offset="0.036" stop-color="#fdf1f1"/><stop offset="0.072" stop-color="#fdf1f1"/><stop offset="0.107" stop-color="#fdf1f1"/><stop offset="0.143" stop-color="#fbdfe0"/><stop offset="0.179" stop-color="#fadcde"/><stop offset="0.215" stop-color="#fad9db"/><stop offset="0.251" stop-color="#fad6d8"/><stop offset="0.287" stop-color="#f9d3d5"/><stop offset="0.322" stop-color="#f9d0d2"/><stop offset="0.358" stop-color="#f9ced0"/><stop offset="0.394" stop-color="#f8cbcd"/><stop offset="0.430" stop-color="#f7c2c5"/><stop offset="0.466" stop-color="#f7bfc2"/><stop offset="0.501" stop-color="#f6bdbf"/><stop offset="0.537" stop-color="#f6babd"/><stop offset="0.573" stop-color="#f6b7ba"/><stop offset="0.609" stop-color="#f5b4b8"/><stop offset="0.645" stop-color="#f5b2b5"/><stop offset="0.681" stop-color="#f5afb3"/><stop offset="0.716" stop-color="#f4adb0"/><stop offset="0.752" stop-color="#f4aaae"/><stop offset="0.788" stop-color="#f4a7ab"/><stop offset="0.824" stop-color="#f3a5a9"/><stop offset="0.860" stop-color="#f3a3a7"/><stop offset="0.895" stop-color="#f3a0a4"/><stop offset="0.931" stop-color="#f29ea2"/><stop offset="0.967" stop-color="#f29ba0"/></linearGradient><linearGradient id="h1r36" x1="259.5" x2="329.3" y1="0" y2="0" gradientUnits="userSpaceOnUse"><stop offset="0.000" stop-color="#fdf1f1"/><stop offset="0.036" stop-color="#fdf1f1"/><stop offset="0.072" stop-color="#fdf1f1"/><stop offset="0.107" stop-color="#fdf1f1"/><stop offset="0.143" stop-color="#fbdfe0"/><stop offset="0.179" stop-color="#fbdcde"/><stop offset="0.215" stop-color="#fadadc"/><stop offset="0.251" stop-color="#fad7d9"/><stop offset="0.287" stop-color="#fad5d7"/><stop offset="0.322" stop-color="#f9d3d5"/><stop offset="0.358" stop-color="#f9d1d3"/><stop offset="0.394" stop-color="#f9cfd1"/><stop offset="0.430" stop-color="#f8c7c9"/><stop offset="0.466" stop-color="#f7c4c7"/><stop offset="0.501" stop-color="#f7c2c5"/><stop offset="0.537" stop-color="#f7c0c3"/><stop offset="0.573" stop-color="#f7bdc0"/><stop offset="0.609" stop-color="#f6bbbe"/><stop offset="0.645" stop-color="#f6b9bc"/><stop offset="0.681" stop-color="#f6b7ba"/><stop offset="0.716" stop-color="#f5b5b8"/><stop offset="0.752" stop-color="#f5b3b6"/><stop offset="0.788" stop-color="#f5b1b4"/><stop offset="0.824" stop-color="#f5afb2"/><stop offset="0.860" stop-color="#f4acb0"/><stop offset="0.895" stop-color="#f4aaae"/><stop offset="0.931" stop-color="#f4a8ac"/><stop offset="0.967" stop-color="#f4a6aa"/></linearGradient><linearGradient id="h1r37" x1="259.5" x2="329.3" y1="0" y2="0" gradientUnits="userSpaceOnUse"><stop offset="0.000" stop-color="#fdf1f1"/><stop offset="0.036" stop-color="#fdf1f1"/><stop offset="0.072" stop-color="#fdf1f1"/><stop offset="0.107" stop-color="#fdf1f1"/><stop offset="0.143" stop-color="#fbdfe0"/><stop offset="0.179" stop-color="#fbddde"/><stop offset="0.215" stop-color="#fadbdd"/><stop offset="0.251" stop-color="#fad9db"/><stop offset="0.287" stop-color="#fad8d9"/><stop offset="0.322" stop-color="#fad6d8"/><stop offset="0.358" stop-color="#fad4d6"/><stop offset="0.394" stop-color="#f9d3d5"/><stop offset="0.430" stop-color="#f8ccce"/><stop offset="0.466" stop-color="#f8cacd"/><stop offset="0.501" stop-color="#f8c9cb"/><stop offset="0.537" stop-color="#f8c7ca"/><stop offset="0.573" stop-color="#f8c6c8"/><stop offset="0.609" stop-color="#f7c4c7"/><stop offset="0.645" stop-color="#f7c2c5"/><stop offset="0.681" stop-color="#f7c1c4"/><stop offset="0.716" stop-color="#f7bfc2"/><stop offset="0.752" stop-color="#f7bec1"/><stop offset="0.788" stop-color="#f6bcbf"/><stop offset="0.824" stop-color="#f6bbbe"/><stop offset="0.860" stop-color="#f6b9bc"/><stop offset="0.895" stop-color="#f6b8bb"/><stop offset="0.931" stop-color="#f6b6b9"/><stop offset="0.967" stop-color="#f5b5b8"/></linearGradient><linearGradient id="h1r38" x1="259.5" x2="329.3" y1="0" y2="0" gradientUnits="userSpaceOnUse"><stop offset="0.000" stop-color="#fdf1f1"/><stop offset="0.036" stop-color="#fdf1f1"/><stop offset="0.072" stop-color="#fdf1f1"/><stop offset="0.107" stop-color="#fdf1f1"/><stop offset="0.143" stop-color="#fbdfe0"/><stop offset="0.179" stop-color="#fbddde"/><stop offset="0.215" stop-color="#fbdcde"/><stop offset="0.251" stop-color="#fadbdd"/><stop offset="0.287" stop-color="#fadbdc"/><stop offset="0.322" stop-color="#fadadc"/><stop offset="0.358" stop-color="#fad9db"/><stop offset="0.394" stop-color="#fad8da"/><stop offset="0.430" stop-color="#f9d3d5"/><stop offset="0.466" stop-color="#f9d2d4"/><stop offset="0.501" stop-color="#f9d2d4"/><stop offset="0.537" stop-color="#f9d1d3"/><stop offset="0.573" stop-color="#f9d0d2"/><stop offset="0.609" stop-color="#f9cfd1"/><stop offset="0.645" stop-color="#f9ced1"/><stop offset="0.681" stop-color="#f9ced0"/><stop offset="0.716" stop-color="#f9cdcf"/><stop offset="0.752" stop-color="#f8ccce"/><stop offset="0.788" stop-color="#f8cbce"/><stop offset="0.824" stop-color="#f8cbcd"/><stop offset="0.860" stop-color="#f8cacc"/><stop offset="0.895" stop-color="#f8c9cc"/><stop offset="0.931" stop-color="#f8c8cb"/><stop offset="0.967" stop-color="#f8c8ca"/></linearGradient><linearGradient id="h1r39" x1="259.5" x2="329.3" y1="0" y2="0" gradientUnits="userSpaceOnUse"><stop offset="0.000" stop-color="#fdf1f1"/><stop offset="0.036" stop-color="#fdf1f1"/><stop offset="0.072" stop-color="#fdf1f1"/><stop offset="0.107" stop-color="#fdf1f1"/><stop offset="0.143" stop-color="#fbdfe0"/><stop offset="0.179" stop-color="#fbdddf"/><stop offset="0.215" stop-color="#fbdddf"/><stop offset="0.251" stop-color="#fbdddf"/><stop offset="0.287" stop-color="#fbddde"/><stop offset="0.322" stop-color="#fbddde"/><stop offset="0.358" stop-color="#fbddde"/><stop offset="0.394" stop-color="#fbddde"/><stop offset="0.430" stop-color="#fad8da"/><stop offset="0.466" stop-color="#fad8da"/><stop offset="0.501" stop-color="#fad8da"/><stop offset="0.537" stop-color="#fad8da"/><stop offset="0.573" stop-color="#fad8da"/><stop offset="0.609" stop-color="#fad8da"/><stop offset="0.645" stop-color="#fad8d9"/><stop offset="0.681" stop-color="#fad8d9"/><stop offset="0.716" stop-color="#fad7d9"/><stop offset="0.752" stop-color="#fad7d9"/><stop offset="0.788" stop-color="#fad7d9"/><stop offset="0.824" stop-color="#fad7d9"/><stop offset="0.860" stop-color="#fad7d9"/><stop offset="0.895" stop-color="#fad7d9"/><stop offset="0.931" stop-color="#fad7d8"/><stop offset="0.967" stop-color="#fad7d8"/></linearGradient><linearGradient id="h2r0" x1="375.4" x2="446.2" y1="0" y2="0" gradientUnits="userSpaceOnUse"><stop offset="0.000" stop-color="#fbe0e1"/><stop offset="0.035" stop-color="#fad6d8"/><stop offset="0.071" stop-color="#f9cdd0"/><stop offset="0.106" stop-color="#f8c5c8"/><stop offset="0.141" stop-color="#f4a9ad"/><stop offset="0.177" stop-color="#f0898f"/><stop offset="0.212" stop-color="#ee7c82"/><stop offset="0.247" stop-color="#ed7076"/><stop offset="0.282" stop-color="#ec686e"/><stop offset="0.318" stop-color="#eb646a"/><stop offset="0.353" stop-color="#eb6168"/><stop offset="0.388" stop-color="#ea5e65"/><stop offset="0.424" stop-color="#ea5961"/><stop offset="0.459" stop-color="#e85058"/><stop offset="0.494" stop-color="#e7454d"/><stop offset="0.530" stop-color="#e63a42"/><stop offset="0.565" stop-color="#e42f38"/><stop offset="0.600" stop-color="#e32630"/><stop offset="0.636" stop-color="#e32630"/><stop offset="0.671" stop-color="#e32630"/><stop offset="0.706" stop-color="#e32630"/><stop offset="0.742" stop-color="#e32630"/><stop offset="0.777" stop-color="#e32630"/><stop offset="0.812" stop-color="#e32630"/><stop offset="0.847" stop-color="#e32630"/><stop offset="0.883" stop-color="#e32630"/><stop offset="0.918" stop-color="#e3252e"/><stop offset="0.953" stop-color="#e2222c"/><stop offset="0.989" stop-color="#e21e28"/></linearGradient><linearGradient id="h2r1" x1="375.4" x2="446.2" y1="0" y2="0" gradientUnits="userSpaceOnUse"><stop offset="0.000" stop-color="#fbe0e1"/><stop offset="0.035" stop-color="#fad6d8"/><stop offset="0.071" stop-color="#f9cdd0"/><stop offset="0.106" stop-color="#f8c5c8"/><stop offset="0.141" stop-color="#f4a9ad"/><stop offset="0.177" stop-color="#f0898f"/><stop offset="0.212" stop-color="#ee7c82"/><stop offset="0.247" stop-color="#ed7076"/><stop offset="0.282" stop-color="#eb676e"/><stop offset="0.318" stop-color="#eb6269"/><stop offset="0.353" stop-color="#ea5e65"/><stop offset="0.388" stop-color="#ea5a61"/><stop offset="0.424" stop-color="#e9545c"/><stop offset="0.459" stop-color="#e84b53"/><stop offset="0.494" stop-color="#e63f48"/><stop offset="0.530" stop-color="#e5343d"/><stop offset="0.565" stop-color="#e32933"/><stop offset="0.600" stop-color="#e32630"/><stop offset="0.636" stop-color="#e32630"/><stop offset="0.671" stop-color="#e32630"/><stop offset="0.706" stop-color="#e32630"/><stop offset="0.742" stop-color="#e32630"/><stop offset="0.777" stop-color="#e32630"/><stop offset="0.812" stop-color="#e32630"/><stop offset="0.847" stop-color="#e32630"/><stop offset="0.883" stop-color="#e32630"/><stop offset="0.918" stop-color="#e3252f"/><stop offset="0.953" stop-color="#e3242e"/><stop offset="0.989" stop-color="#e2222c"/></linearGradient><linearGradient id="h2r2" x1="375.4" x2="446.2" y1="0" y2="0" gradientUnits="userSpaceOnUse"><stop offset="0.000" stop-color="#fbe0e1"/><stop offset="0.035" stop-color="#fad6d8"/><stop offset="0.071" stop-color="#f9cdd0"/><stop offset="0.106" stop-color="#f8c5c8"/><stop offset="0.141" stop-color="#f4a9ad"/><stop offset="0.177" stop-color="#f0898f"/><stop offset="0.212" stop-color="#ee7c82"/><stop offset="0.247" stop-color="#ed7076"/><stop offset="0.282" stop-color="#eb666d"/><stop offset="0.318" stop-color="#eb6067"/><stop offset="0.353" stop-color="#ea5b62"/><stop offset="0.388" stop-color="#e9565d"/><stop offset="0.424" stop-color="#e84f57"/><stop offset="0.459" stop-color="#e7454e"/><stop offset="0.494" stop-color="#e63a43"/><stop offset="0.530" stop-color="#e42f38"/><stop offset="0.565" stop-color="#e32630"/><stop offset="0.600" stop-color="#e32630"/><stop offset="0.636" stop-color="#e32630"/><stop offset="0.671" stop-color="#e32630"/><stop offset="0.706" stop-color="#e32630"/><stop offset="0.742" stop-color="#e32630"/><stop offset="0.777" stop-color="#e32630"/><stop offset="0.812" stop-color="#e32630"/><stop offset="0.847" stop-color="#e32630"/><stop offset="0.883" stop-color="#e32630"/><stop offset="0.918" stop-color="#e32630"/><stop offset="0.953" stop-color="#e3252f"/><stop offset="0.989" stop-color="#e3242e"/></linearGradient><linearGradient id="h2r3" x1="375.4" x2="446.2" y1="0" y2="0" gradientUnits="userSpaceOnUse"><stop offset="0.000" stop-color="#fbe0e1"/><stop offset="0.035" stop-color="#fad6d8"/><stop offset="0.071" stop-color="#f9cdd0"/><stop offset="0.106" stop-color="#f8c5c8"/><stop offset="0.141" stop-color="#f4a9ad"/><stop offset="0.177" stop-color="#f0898f"/><stop offset="0.212" stop-color="#ee7c82"/><stop offset="0.247" stop-color="#ec6f76"/><stop offset="0.282" stop-color="#eb666d"/><stop offset="0.318" stop-color="#ea5e65"/><stop offset="0.353" stop-color="#e9585f"/><stop offset="0.388" stop-color="#e95159"/><stop offset="0.424" stop-color="#e84a52"/><stop offset="0.459" stop-color="#e64049"/><stop offset="0.494" stop-color="#e5353e"/><stop offset="0.530" stop-color="#e42a34"/><stop offset="0.565" stop-color="#e32630"/><stop offset="0.600" stop-color="#e32630"/><stop offset="0.636" stop-color="#e32630"/><stop offset="0.671" stop-color="#e32630"/><stop offset="0.706" stop-color="#e32630"/><stop offset="0.742" stop-color="#e32630"/><stop offset="0.777" stop-color="#e32630"/><stop offset="0.812" stop-color="#e32630"/><stop offset="0.847" stop-color="#e32630"/><stop offset="0.883" stop-color="#e32630"/><stop offset="0.918" stop-color="#e32630"/><stop offset="0.953" stop-color="#e32630"/><stop offset="0.989" stop-color="#e32731"/></linearGradient><linearGradient id="h2r4" x1="375.4" x2="446.2" y1="0" y2="0" gradientUnits="userSpaceOnUse"><stop offset="0.000" stop-color="#fbe0e1"/><stop offset="0.035" stop-color="#fad6d8"/><stop offset="0.071" stop-color="#f9cdd0"/><stop offset="0.106" stop-color="#f8c5c8"/><stop offset="0.141" stop-color="#f4a9ad"/><stop offset="0.177" stop-color="#f0898f"/><stop offset="0.212" stop-color="#ee7c82"/><stop offset="0.247" stop-color="#ec6f76"/><stop offset="0.282" stop-color="#eb656c"/><stop offset="0.318" stop-color="#ea5d64"/><stop offset="0.353" stop-color="#e9555c"/><stop offset="0.388" stop-color="#e84d55"/><stop offset="0.424" stop-color="#e7454d"/><stop offset="0.459" stop-color="#e63b44"/><stop offset="0.494" stop-color="#e43039"/><stop offset="0.530" stop-color="#e32630"/><stop offset="0.565" stop-color="#e32630"/><stop offset="0.600" stop-color="#e32630"/><stop offset="0.636" stop-color="#e32630"/><stop offset="0.671" stop-color="#e32630"/><stop offset="0.706" stop-color="#e32630"/><stop offset="0.742" stop-color="#e32630"/><stop offset="0.777" stop-color="#e32630"/><stop offset="0.812" stop-color="#e32630"/><stop offset="0.847" stop-color="#e32630"/><stop offset="0.883" stop-color="#e32630"/><stop offset="0.918" stop-color="#e32630"/><stop offset="0.953" stop-color="#e32630"/><stop offset="0.989" stop-color="#e42c35"/></linearGradient><linearGradient id="h2r5" x1="375.4" x2="446.2" y1="0" y2="0" gradientUnits="userSpaceOnUse"><stop offset="0.000" stop-color="#fbe0e1"/><stop offset="0.035" stop-color="#fad6d8"/><stop offset="0.071" stop-color="#f9cdd0"/><stop offset="0.106" stop-color="#f8c5c8"/><stop offset="0.141" stop-color="#f4a9ad"/><stop offset="0.177" stop-color="#f0898f"/><stop offset="0.212" stop-color="#ee7c82"/><stop offset="0.247" stop-color="#ec6f76"/><stop offset="0.282" stop-color="#eb646b"/><stop offset="0.318" stop-color="#ea5b62"/><stop offset="0.353" stop-color="#e9525a"/><stop offset="0.388" stop-color="#e84951"/><stop offset="0.424" stop-color="#e64048"/><stop offset="0.459" stop-color="#e5363f"/><stop offset="0.494" stop-color="#e42b34"/><stop offset="0.530" stop-color="#e32630"/><stop offset="0.565" stop-color="#e32630"/><stop offset="0.600" stop-color="#e32630"/><stop offset="0.636" stop-color="#e32630"/><stop offset="0.671" stop-color="#e32630"/><stop offset="0.706" stop-color="#e32630"/><stop offset="0.742" stop-color="#e32630"/><stop offset="0.777" stop-color="#e32630"/><stop offset="0.812" stop-color="#e32630"/><stop offset="0.847" stop-color="#e32630"/><stop offset="0.883" stop-color="#e32630"/><stop offset="0.918" stop-color="#e32630"/><stop offset="0.953" stop-color="#e32933"/><stop offset="0.989" stop-color="#e43039"/></linearGradient><linearGradient id="h2r6" x1="375.4" x2="446.2" y1="0" y2="0" gradientUnits="userSpaceOnUse"><stop offset="0.000" stop-color="#fbe0e1"/><stop offset="0.035" stop-color="#fad6d8"/><stop offset="0.071" stop-color="#f9cdd0"/><stop offset="0.106" stop-color="#f8c5c8"/><stop offset="0.141" stop-color="#f4a9ad"/><stop offset="0.177" stop-color="#f0898f"/><stop offset="0.212" stop-color="#ee7c82"/><stop offset="0.247" stop-color="#ec6f76"/><stop offset="0.282" stop-color="#eb646b"/><stop offset="0.318" stop-color="#ea5960"/><stop offset="0.353" stop-color="#e84f57"/><stop offset="0.388" stop-color="#e7454d"/><stop offset="0.424" stop-color="#e63b44"/><stop offset="0.459" stop-color="#e4303a"/><stop offset="0.494" stop-color="#e32630"/><stop offset="0.530" stop-color="#e32630"/><stop offset="0.565" stop-color="#e32630"/><stop offset="0.600" stop-color="#e32630"/><stop offset="0.636" stop-color="#e32630"/><stop offset="0.671" stop-color="#e32630"/><stop offset="0.706" stop-color="#e32630"/><stop offset="0.742" stop-color="#e32630"/><stop offset="0.777" stop-color="#e32630"/><stop offset="0.812" stop-color="#e32630"/><stop offset="0.847" stop-color="#e32630"/><stop offset="0.883" stop-color="#e32630"/><stop offset="0.918" stop-color="#e32731"/><stop offset="0.953" stop-color="#e42e37"/><stop offset="0.989" stop-color="#e5343d"/></linearGradient><linearGradient id="h2r7" x1="375.4" x2="446.2" y1="0" y2="0" gradientUnits="userSpaceOnUse"><stop offset="0.000" stop-color="#fbe0e1"/><stop offset="0.035" stop-color="#fad6d8"/><stop offset="0.071" stop-color="#f9cdd0"/><stop offset="0.106" stop-color="#f8c5c8"/><stop offset="0.141" stop-color="#f4a9ad"/><stop offset="0.177" stop-color="#f0898f"/><stop offset="0.212" stop-color="#ee7c82"/><stop offset="0.247" stop-color="#ec6f76"/><stop offset="0.282" stop-color="#eb636a"/><stop offset="0.318" stop-color="#e9575f"/><stop offset="0.353" stop-color="#e84c54"/><stop offset="0.388" stop-color="#e74149"/><stop offset="0.424" stop-color="#e5363f"/><stop offset="0.459" stop-color="#e42b35"/><stop offset="0.494" stop-color="#e32630"/><stop offset="0.530" stop-color="#e32630"/><stop offset="0.565" stop-color="#e32630"/><stop offset="0.600" stop-color="#e32630"/><stop offset="0.636" stop-color="#e32630"/><stop offset="0.671" stop-color="#e32630"/><stop offset="0.706" stop-color="#e32630"/><stop offset="0.742" stop-color="#e32630"/><stop offset="0.777" stop-color="#e32630"/><stop offset="0.812" stop-color="#e32630"/><stop offset="0.847" stop-color="#e32630"/><stop offset="0.883" stop-color="#e32630"/><stop offset="0.918" stop-color="#e42c35"/><stop offset="0.953" stop-color="#e5323b"/><stop offset="0.989" stop-color="#e53841"/></linearGradient><linearGradient id="h2r8" x1="375.4" x2="446.2" y1="0" y2="0" gradientUnits="userSpaceOnUse"><stop offset="0.000" stop-color="#fbe0e1"/><stop offset="0.035" stop-color="#fad6d8"/><stop offset="0.071" stop-color="#f9cdd0"/><stop offset="0.106" stop-color="#f8c5c8"/><stop offset="0.141" stop-color="#f4a9ad"/><stop offset="0.177" stop-color="#f0898f"/><stop offset="0.212" stop-color="#ee7c82"/><stop offset="0.247" stop-color="#ec6f76"/><stop offset="0.282" stop-color="#eb636a"/><stop offset="0.318" stop-color="#e9575e"/><stop offset="0.353" stop-color="#e84b53"/><stop offset="0.388" stop-color="#e64048"/><stop offset="0.424" stop-color="#e5353e"/><stop offset="0.459" stop-color="#e42a33"/><stop offset="0.494" stop-color="#e32630"/><stop offset="0.530" stop-color="#e32630"/><stop offset="0.565" stop-color="#e32630"/><stop offset="0.600" stop-color="#e3252f"/><stop offset="0.636" stop-color="#e3252e"/><stop offset="0.671" stop-color="#e32630"/><stop offset="0.706" stop-color="#e32630"/><stop offset="0.742" stop-color="#e32630"/><stop offset="0.777" stop-color="#e32630"/><stop offset="0.812" stop-color="#e32630"/><stop offset="0.847" stop-color="#e32630"/><stop offset="0.883" stop-color="#e42a34"/><stop offset="0.918" stop-color="#e43039"/><stop offset="0.953" stop-color="#e5363f"/><stop offset="0.989" stop-color="#e63c45"/></linearGradient><linearGradient id="h2r9" x1="375.4" x2="446.2" y1="0" y2="0" gradientUnits="userSpaceOnUse"><stop offset="0.000" stop-color="#fbe0e1"/><stop offset="0.035" stop-color="#fad6d8"/><stop offset="0.071" stop-color="#f9cdd0"/><stop offset="0.106" stop-color="#f8c5c8"/><stop offset="0.141" stop-color="#f4a9ad"/><stop offset="0.177" stop-color="#f0898f"/><stop offset="0.212" stop-color="#ee7c82"/><stop offset="0.247" stop-color="#ec6f76"/><stop offset="0.282" stop-color="#eb636a"/><stop offset="0.318" stop-color="#e9575e"/><stop offset="0.353" stop-color="#e84b53"/><stop offset="0.388" stop-color="#e64048"/><stop offset="0.424" stop-color="#e5353e"/><stop offset="0.459" stop-color="#e42a34"/><stop offset="0.494" stop-color="#e32630"/><stop offset="0.530" stop-color="#e32630"/><stop offset="0.565" stop-color="#e32630"/><stop offset="0.600" stop-color="#e2202a"/><stop offset="0.636" stop-color="#e2202a"/><stop offset="0.671" stop-color="#e32630"/><stop offset="0.706" stop-color="#e32630"/><stop offset="0.742" stop-color="#e32630"/><stop offset="0.777" stop-color="#e32630"/><stop offset="0.812" stop-color="#e32630"/><stop offset="0.847" stop-color="#e32933"/><stop offset="0.883" stop-color="#e42f38"/><stop offset="0.918" stop-color="#e5353e"/><stop offset="0.953" stop-color="#e63b43"/><stop offset="0.989" stop-color="#e64149"/></linearGradient><linearGradient id="h2r10" x1="375.4" x2="446.2" y1="0" y2="0" gradientUnits="userSpaceOnUse"><stop offset="0.000" stop-color="#fbe0e1"/><stop offset="0.035" stop-color="#fad6d8"/><stop offset="0.071" stop-color="#f9cdd0"/><stop offset="0.106" stop-color="#f8c5c8"/><stop offset="0.141" stop-color="#f4a9ad"/><stop offset="0.177" stop-color="#f0898f"/><stop offset="0.212" stop-color="#ee7c82"/><stop offset="0.247" stop-color="#ec6f76"/><stop offset="0.282" stop-color="#eb636a"/><stop offset="0.318" stop-color="#e9575e"/><stop offset="0.353" stop-color="#e84b53"/><stop offset="0.388" stop-color="#e64048"/><stop offset="0.424" stop-color="#e5353e"/><stop offset="0.459" stop-color="#e42a34"/><stop offset="0.494" stop-color="#e32630"/><stop offset="0.530" stop-color="#e32630"/><stop offset="0.565" stop-color="#e32630"/><stop offset="0.600" stop-color="#e3232d"/><stop offset="0.636" stop-color="#e3232c"/><stop offset="0.671" stop-color="#e32630"/><stop offset="0.706" stop-color="#e32630"/><stop offset="0.742" stop-color="#e32630"/><stop offset="0.777" stop-color="#e32630"/><stop offset="0.812" stop-color="#e32832"/><stop offset="0.847" stop-color="#e42e37"/><stop offset="0.883" stop-color="#e5343d"/><stop offset="0.918" stop-color="#e63942"/><stop offset="0.953" stop-color="#e63f48"/><stop offset="0.989" stop-color="#e7454d"/></linearGradient><linearGradient id="h2r11" x1="375.4" x2="446.2" y1="0" y2="0" gradientUnits="userSpaceOnUse"><stop offset="0.000" stop-color="#fbe0e1"/><stop offset="0.035" stop-color="#fad6d8"/><stop offset="0.071" stop-color="#f9cdd0"/><stop offset="0.106" stop-color="#f8c5c8"/><stop offset="0.141" stop-color="#f4a9ad"/><stop offset="0.177" stop-color="#f0898f"/><stop offset="0.212" stop-color="#ee7c82"/><stop offset="0.247" stop-color="#ec6f76"/><stop offset="0.282" stop-color="#eb636a"/><stop offset="0.318" stop-color="#e9575e"/><stop offset="0.353" stop-color="#e84b53"/><stop offset="0.388" stop-color="#e64048"/><stop offset="0.424" stop-color="#e5353e"/><stop offset="0.459" stop-color="#e42b34"/><stop offset="0.494" stop-color="#e32630"/><stop offset="0.530" stop-color="#e32630"/><stop offset="0.565" stop-color="#e32630"/><stop offset="0.600" stop-color="#e32630"/><stop offset="0.636" stop-color="#e32630"/><stop offset="0.671" stop-color="#e32630"/><stop offset="0.706" stop-color="#e32630"/><stop offset="0.742" stop-color="#e32630"/><stop offset="0.777" stop-color="#e32832"/><stop offset="0.812" stop-color="#e42d37"/><stop offset="0.847" stop-color="#e5333c"/><stop offset="0.883" stop-color="#e53841"/><stop offset="0.918" stop-color="#e63e46"/><stop offset="0.953" stop-color="#e7444c"/><stop offset="0.989" stop-color="#e84951"/></linearGradient><linearGradient id="h2r12" x1="375.4" x2="446.2" y1="0" y2="0" gradientUnits="userSpaceOnUse"><stop offset="0.000" stop-color="#fbe0e1"/><stop offset="0.035" stop-color="#fad6d8"/><stop offset="0.071" stop-color="#f9cdd0"/><stop offset="0.106" stop-color="#f8c5c8"/><stop offset="0.141" stop-color="#f4a9ad"/><stop offset="0.177" stop-color="#f0898f"/><stop offset="0.212" stop-color="#ee7c82"/><stop offset="0.247" stop-color="#ec6f76"/><stop offset="0.282" stop-color="#eb636a"/><stop offset="0.318" stop-color="#e9575e"/><stop offset="0.353" stop-color="#e84b53"/><stop offset="0.388" stop-color="#e64049"/><stop offset="0.424" stop-color="#e5353e"/><stop offset="0.459" stop-color="#e42b34"/><stop offset="0.494" stop-color="#e32630"/><stop offset="0.530" stop-color="#e32630"/><stop offset="0.565" stop-color="#e32630"/><stop offset="0.600" stop-color="#e32630"/><stop offset="0.636" stop-color="#e32630"/><stop offset="0.671" stop-color="#e32630"/><stop offset="0.706" stop-color="#e32630"/><stop offset="0.742" stop-color="#e32832"/><stop offset="0.777" stop-color="#e42d37"/><stop offset="0.812" stop-color="#e5333c"/><stop offset="0.847" stop-color="#e53841"/><stop offset="0.883" stop-color="#e63d46"/><stop offset="0.918" stop-color="#e7434b"/><stop offset="0.953" stop-color="#e74850"/><stop offset="0.989" stop-color="#e84e55"/></linearGradient><linearGradient id="h2r13" x1="375.4" x2="446.2" y1="0" y2="0" gradientUnits="userSpaceOnUse"><stop offset="0.000" stop-color="#fbe0e1"/><stop offset="0.035" stop-color="#fad6d8"/><stop offset="0.071" stop-color="#f9cdd0"/><stop offset="0.106" stop-color="#f8c5c8"/><stop offset="0.141" stop-color="#f4a9ad"/><stop offset="0.177" stop-color="#f0898f"/><stop offset="0.212" stop-color="#ee7c82"/><stop offset="0.247" stop-color="#ec6f76"/><stop offset="0.282" stop-color="#eb636a"/><stop offset="0.318" stop-color="#e9575e"/><stop offset="0.353" stop-color="#e84b53"/><stop offset="0.388" stop-color="#e64049"/><stop offset="0.424" stop-color="#e5363e"/><stop offset="0.459" stop-color="#e42c35"/><stop offset="0.494" stop-color="#e32630"/><stop offset="0.530" stop-color="#e32630"/><stop offset="0.565" stop-color="#e32630"/><stop offset="0.600" stop-color="#e32630"/><stop offset="0.636" stop-color="#e32630"/><stop offset="0.671" stop-color="#e32630"/><stop offset="0.706" stop-color="#e32932"/><stop offset="0.742" stop-color="#e42e37"/><stop offset="0.777" stop-color="#e5333c"/><stop offset="0.812" stop-color="#e53841"/><stop offset="0.847" stop-color="#e63d45"/><stop offset="0.883" stop-color="#e7424a"/><stop offset="0.918" stop-color="#e7474f"/><stop offset="0.953" stop-color="#e84d55"/><stop offset="0.989" stop-color="#e9525a"/></linearGradient><linearGradient id="h2r14" x1="375.4" x2="446.2" y1="0" y2="0" gradientUnits="userSpaceOnUse"><stop offset="0.000" stop-color="#fbe0e1"/><stop offset="0.035" stop-color="#fad6d8"/><stop offset="0.071" stop-color="#f9cdd0"/><stop offset="0.106" stop-color="#f8c5c8"/><stop offset="0.141" stop-color="#f4a9ad"/><stop offset="0.177" stop-color="#f0898f"/><stop offset="0.212" stop-color="#ee7c82"/><stop offset="0.247" stop-color="#ec6f76"/><stop offset="0.282" stop-color="#eb636a"/><stop offset="0.318" stop-color="#e9575e"/><stop offset="0.353" stop-color="#e84b53"/><stop offset="0.388" stop-color="#e64049"/><stop offset="0.424" stop-color="#e5363f"/><stop offset="0.459" stop-color="#e42d36"/><stop offset="0.494" stop-color="#e32630"/><stop offset="0.530" stop-color="#e32630"/><stop offset="0.565" stop-color="#e32630"/><stop offset="0.600" stop-color="#e32630"/><stop offset="0.636" stop-color="#e32630"/><stop offset="0.671" stop-color="#e32933"/><stop offset="0.706" stop-color="#e42e37"/><stop offset="0.742" stop-color="#e5333c"/><stop offset="0.777" stop-color="#e53841"/><stop offset="0.812" stop-color="#e63d46"/><stop offset="0.847" stop-color="#e7424a"/><stop offset="0.883" stop-color="#e7474f"/><stop offset="0.918" stop-color="#e84c54"/><stop offset="0.953" stop-color="#e95159"/><stop offset="0.989" stop-color="#e9565e"/></linearGradient><linearGradient id="h2r15" x1="375.4" x2="446.2" y1="0" y2="0" gradientUnits="userSpaceOnUse"><stop offset="0.000" stop-color="#fbe0e1"/><stop offset="0.035" stop-color="#fad6d8"/><stop offset="0.071" stop-color="#f9cdd0"/><stop offset="0.106" stop-color="#f8c5c8"/><stop offset="0.141" stop-color="#f4a9ad"/><stop offset="0.177" stop-color="#f0898f"/><stop offset="0.212" stop-color="#ee7c82"/><stop offset="0.247" stop-color="#ec6f76"/><stop offset="0.282" stop-color="#eb636a"/><stop offset="0.318" stop-color="#e9575e"/><stop offset="0.353" stop-color="#e84c54"/><stop offset="0.388" stop-color="#e64149"/><stop offset="0.424" stop-color="#e53740"/><stop offset="0.459" stop-color="#e42f38"/><stop offset="0.494" stop-color="#e42a33"/><stop offset="0.530" stop-color="#e32730"/><stop offset="0.565" stop-color="#e32630"/><stop offset="0.600" stop-color="#e32630"/><stop offset="0.636" stop-color="#e42b34"/><stop offset="0.671" stop-color="#e42f38"/><stop offset="0.706" stop-color="#e5343d"/><stop offset="0.742" stop-color="#e53941"/><stop offset="0.777" stop-color="#e63d46"/><stop offset="0.812" stop-color="#e7424b"/><stop offset="0.847" stop-color="#e7474f"/><stop offset="0.883" stop-color="#e84c54"/><stop offset="0.918" stop-color="#e95159"/><stop offset="0.953" stop-color="#e9565d"/><stop offset="0.989" stop-color="#ea5b62"/></linearGradient><linearGradient id="h2r16" x1="375.4" x2="446.2" y1="0" y2="0" gradientUnits="userSpaceOnUse"><stop offset="0.000" stop-color="#fbe0e1"/><stop offset="0.035" stop-color="#fad6d8"/><stop offset="0.071" stop-color="#f9cdd0"/><stop offset="0.106" stop-color="#f8c5c8"/><stop offset="0.141" stop-color="#f4a9ad"/><stop offset="0.177" stop-color="#f0898f"/><stop offset="0.212" stop-color="#ee7c82"/><stop offset="0.247" stop-color="#ec6f76"/><stop offset="0.282" stop-color="#eb636a"/><stop offset="0.318" stop-color="#e9575f"/><stop offset="0.353" stop-color="#e84c54"/><stop offset="0.388" stop-color="#e7424a"/><stop offset="0.424" stop-color="#e53941"/><stop offset="0.459" stop-color="#e5323b"/><stop offset="0.494" stop-color="#e42e37"/><stop offset="0.530" stop-color="#e42c35"/><stop offset="0.565" stop-color="#e42b35"/><stop offset="0.600" stop-color="#e42c36"/><stop offset="0.636" stop-color="#e4313a"/><stop offset="0.671" stop-color="#e5353e"/><stop offset="0.706" stop-color="#e63a42"/><stop offset="0.742" stop-color="#e63e47"/><stop offset="0.777" stop-color="#e7434b"/><stop offset="0.812" stop-color="#e74750"/><stop offset="0.847" stop-color="#e84c54"/><stop offset="0.883" stop-color="#e95159"/><stop offset="0.918" stop-color="#e9565d"/><stop offset="0.953" stop-color="#ea5b62"/><stop offset="0.989" stop-color="#ea5f67"/></linearGradient><linearGradient id="h2r17" x1="375.4" x2="446.2" y1="0" y2="0" gradientUnits="userSpaceOnUse"><stop offset="0.000" stop-color="#fbe0e1"/><stop offset="0.035" stop-color="#fad6d8"/><stop offset="0.071" stop-color="#f9cdd0"/><stop offset="0.106" stop-color="#f8c5c8"/><stop offset="0.141" stop-color="#f4a9ad"/><stop offset="0.177" stop-color="#f0898f"/><stop offset="0.212" stop-color="#ee7c82"/><stop offset="0.247" stop-color="#ec6f76"/><stop offset="0.282" stop-color="#eb636a"/><stop offset="0.318" stop-color="#e9575f"/><stop offset="0.353" stop-color="#e84c54"/><stop offset="0.388" stop-color="#e7434b"/><stop offset="0.424" stop-color="#e63b44"/><stop offset="0.459" stop-color="#e5363f"/><stop offset="0.494" stop-color="#e5333c"/><stop offset="0.530" stop-color="#e5323b"/><stop offset="0.565" stop-color="#e4313a"/><stop offset="0.600" stop-color="#e5333c"/><stop offset="0.636" stop-color="#e53740"/><stop offset="0.671" stop-color="#e63b44"/><stop offset="0.706" stop-color="#e64048"/><stop offset="0.742" stop-color="#e7444c"/><stop offset="0.777" stop-color="#e74850"/><stop offset="0.812" stop-color="#e84d55"/><stop offset="0.847" stop-color="#e95159"/><stop offset="0.883" stop-color="#e9565d"/><stop offset="0.918" stop-color="#ea5b62"/><stop offset="0.953" stop-color="#ea5f66"/><stop offset="0.989" stop-color="#eb646b"/></linearGradient><linearGradient id="h2r18" x1="375.4" x2="446.2" y1="0" y2="0" gradientUnits="userSpaceOnUse"><stop offset="0.000" stop-color="#fbe0e1"/><stop offset="0.035" stop-color="#fad6d8"/><stop offset="0.071" stop-color="#f9cdd0"/><stop offset="0.106" stop-color="#f8c5c8"/><stop offset="0.141" stop-color="#f4a9ad"/><stop offset="0.177" stop-color="#f0898f"/><stop offset="0.212" stop-color="#ee7c82"/><stop offset="0.247" stop-color="#ec6f76"/><stop offset="0.282" stop-color="#eb636a"/><stop offset="0.318" stop-color="#e9585f"/><stop offset="0.353" stop-color="#e84d55"/><stop offset="0.388" stop-color="#e7444d"/><stop offset="0.424" stop-color="#e63e47"/><stop offset="0.459" stop-color="#e63a43"/><stop offset="0.494" stop-color="#e53941"/><stop offset="0.530" stop-color="#e53841"/><stop offset="0.565" stop-color="#e53840"/><stop offset="0.600" stop-color="#e53942"/><stop offset="0.636" stop-color="#e63d46"/><stop offset="0.671" stop-color="#e7414a"/><stop offset="0.706" stop-color="#e7454e"/><stop offset="0.742" stop-color="#e84a52"/><stop offset="0.777" stop-color="#e84e56"/><stop offset="0.812" stop-color="#e9525a"/><stop offset="0.847" stop-color="#e9575e"/><stop offset="0.883" stop-color="#ea5b62"/><stop offset="0.918" stop-color="#ea6067"/><stop offset="0.953" stop-color="#eb646b"/><stop offset="0.989" stop-color="#ec696f"/></linearGradient><linearGradient id="h2r19" x1="375.4" x2="446.2" y1="0" y2="0" gradientUnits="userSpaceOnUse"><stop offset="0.000" stop-color="#fbe0e1"/><stop offset="0.035" stop-color="#fad6d8"/><stop offset="0.071" stop-color="#f9cdd0"/><stop offset="0.106" stop-color="#f8c5c8"/><stop offset="0.141" stop-color="#f4a9ad"/><stop offset="0.177" stop-color="#f0898f"/><stop offset="0.212" stop-color="#ee7c82"/><stop offset="0.247" stop-color="#ec6f76"/><stop offset="0.282" stop-color="#eb636a"/><stop offset="0.318" stop-color="#ea5860"/><stop offset="0.353" stop-color="#e84f56"/><stop offset="0.388" stop-color="#e7474f"/><stop offset="0.424" stop-color="#e7424b"/><stop offset="0.459" stop-color="#e64048"/><stop offset="0.494" stop-color="#e63f47"/><stop offset="0.530" stop-color="#e63e47"/><stop offset="0.565" stop-color="#e63e47"/><stop offset="0.600" stop-color="#e63f48"/><stop offset="0.636" stop-color="#e7434c"/><stop offset="0.671" stop-color="#e74750"/><stop offset="0.706" stop-color="#e84b53"/><stop offset="0.742" stop-color="#e84f57"/><stop offset="0.777" stop-color="#e9545b"/><stop offset="0.812" stop-color="#e9585f"/><stop offset="0.847" stop-color="#ea5c63"/><stop offset="0.883" stop-color="#eb6067"/><stop offset="0.918" stop-color="#eb656b"/><stop offset="0.953" stop-color="#ec6970"/><stop offset="0.989" stop-color="#ec6d74"/></linearGradient><linearGradient id="h2r20" x1="375.4" x2="446.2" y1="0" y2="0" gradientUnits="userSpaceOnUse"><stop offset="0.000" stop-color="#fbe0e1"/><stop offset="0.035" stop-color="#fad6d8"/><stop offset="0.071" stop-color="#f9cdd0"/><stop offset="0.106" stop-color="#f8c5c8"/><stop offset="0.141" stop-color="#f4a9ad"/><stop offset="0.177" stop-color="#f0898f"/><stop offset="0.212" stop-color="#ee7c82"/><stop offset="0.247" stop-color="#ed7076"/><stop offset="0.282" stop-color="#eb646b"/><stop offset="0.318" stop-color="#ea5961"/><stop offset="0.353" stop-color="#e95158"/><stop offset="0.388" stop-color="#e84b53"/><stop offset="0.424" stop-color="#e7474f"/><stop offset="0.459" stop-color="#e7464e"/><stop offset="0.494" stop-color="#e7454d"/><stop offset="0.530" stop-color="#e7454d"/><stop offset="0.565" stop-color="#e7454d"/><stop offset="0.600" stop-color="#e7464e"/><stop offset="0.636" stop-color="#e84a52"/><stop offset="0.671" stop-color="#e84e55"/><stop offset="0.706" stop-color="#e95159"/><stop offset="0.742" stop-color="#e9555d"/><stop offset="0.777" stop-color="#ea5961"/><stop offset="0.812" stop-color="#ea5d65"/><stop offset="0.847" stop-color="#eb6168"/><stop offset="0.883" stop-color="#eb666c"/><stop offset="0.918" stop-color="#ec6a70"/><stop offset="0.953" stop-color="#ec6e74"/><stop offset="0.989" stop-color="#ed7278"/></linearGradient><linearGradient id="h2r21" x1="375.4" x2="446.2" y1="0" y2="0" gradientUnits="userSpaceOnUse"><stop offset="0.000" stop-color="#fbe0e1"/><stop offset="0.035" stop-color="#fad6d8"/><stop offset="0.071" stop-color="#f9cdd0"/><stop offset="0.106" stop-color="#f8c5c8"/><stop offset="0.141" stop-color="#f4a9ad"/><stop offset="0.177" stop-color="#f0898f"/><stop offset="0.212" stop-color="#ee7c82"/><stop offset="0.247" stop-color="#ed7076"/><stop offset="0.282" stop-color="#eb656b"/><stop offset="0.318" stop-color="#ea5b62"/><stop offset="0.353" stop-color="#e9545b"/><stop offset="0.388" stop-color="#e84f57"/><stop offset="0.424" stop-color="#e84d55"/><stop offset="0.459" stop-color="#e84c54"/><stop offset="0.494" stop-color="#e84b53"/><stop offset="0.530" stop-color="#e84b53"/><stop offset="0.565" stop-color="#e84b53"/><stop offset="0.600" stop-color="#e84c54"/><stop offset="0.636" stop-color="#e85058"/><stop offset="0.671" stop-color="#e9545b"/><stop offset="0.706" stop-color="#e9585f"/><stop offset="0.742" stop-color="#ea5b63"/><stop offset="0.777" stop-color="#ea5f66"/><stop offset="0.812" stop-color="#eb636a"/><stop offset="0.847" stop-color="#eb676e"/><stop offset="0.883" stop-color="#ec6b71"/><stop offset="0.918" stop-color="#ec6f75"/><stop offset="0.953" stop-color="#ed7379"/><stop offset="0.989" stop-color="#ed777d"/></linearGradient><linearGradient id="h2r22" x1="375.4" x2="446.2" y1="0" y2="0" gradientUnits="userSpaceOnUse"><stop offset="0.000" stop-color="#fbe0e1"/><stop offset="0.035" stop-color="#fad6d8"/><stop offset="0.071" stop-color="#f9cdd0"/><stop offset="0.106" stop-color="#f8c5c8"/><stop offset="0.141" stop-color="#f4a9ad"/><stop offset="0.177" stop-color="#f08a8f"/><stop offset="0.212" stop-color="#ee7d82"/><stop offset="0.247" stop-color="#ed7077"/><stop offset="0.282" stop-color="#eb666d"/><stop offset="0.318" stop-color="#ea5d64"/><stop offset="0.353" stop-color="#e9575f"/><stop offset="0.388" stop-color="#e9545c"/><stop offset="0.424" stop-color="#e9535b"/><stop offset="0.459" stop-color="#e9525a"/><stop offset="0.494" stop-color="#e9525a"/><stop offset="0.530" stop-color="#e9525a"/><stop offset="0.565" stop-color="#e9525a"/><stop offset="0.600" stop-color="#e9535b"/><stop offset="0.636" stop-color="#e9575e"/><stop offset="0.671" stop-color="#ea5a62"/><stop offset="0.706" stop-color="#ea5e65"/><stop offset="0.742" stop-color="#eb6168"/><stop offset="0.777" stop-color="#eb656c"/><stop offset="0.812" stop-color="#ec696f"/><stop offset="0.847" stop-color="#ec6d73"/><stop offset="0.883" stop-color="#ed7077"/><stop offset="0.918" stop-color="#ed747a"/><stop offset="0.953" stop-color="#ee787e"/><stop offset="0.989" stop-color="#ee7c82"/></linearGradient><linearGradient id="h2r23" x1="375.4" x2="446.2" y1="0" y2="0" gradientUnits="userSpaceOnUse"><stop offset="0.000" stop-color="#fbe0e1"/><stop offset="0.035" stop-color="#fad6d8"/><stop offset="0.071" stop-color="#f9cdd0"/><stop offset="0.106" stop-color="#f8c5c8"/><stop offset="0.141" stop-color="#f4aaad"/><stop offset="0.177" stop-color="#f08a8f"/><stop offset="0.212" stop-color="#ee7d83"/><stop offset="0.247" stop-color="#ed7178"/><stop offset="0.282" stop-color="#eb686e"/><stop offset="0.318" stop-color="#eb6068"/><stop offset="0.353" stop-color="#ea5c64"/><stop offset="0.388" stop-color="#ea5a62"/><stop offset="0.424" stop-color="#ea5961"/><stop offset="0.459" stop-color="#ea5960"/><stop offset="0.494" stop-color="#ea5960"/><stop offset="0.530" stop-color="#ea5960"/><stop offset="0.565" stop-color="#ea5960"/><stop offset="0.600" stop-color="#ea5a61"/><stop offset="0.636" stop-color="#ea5d65"/><stop offset="0.671" stop-color="#eb6168"/><stop offset="0.706" stop-color="#eb646b"/><stop offset="0.742" stop-color="#eb686e"/><stop offset="0.777" stop-color="#ec6b72"/><stop offset="0.812" stop-color="#ec6f75"/><stop offset="0.847" stop-color="#ed7278"/><stop offset="0.883" stop-color="#ed767c"/><stop offset="0.918" stop-color="#ee797f"/><stop offset="0.953" stop-color="#ee7d83"/><stop offset="0.989" stop-color="#ef8186"/></linearGradient><linearGradient id="h2r24" x1="375.4" x2="446.2" y1="0" y2="0" gradientUnits="userSpaceOnUse"><stop offset="0.000" stop-color="#fbe0e1"/><stop offset="0.035" stop-color="#fad6d8"/><stop offset="0.071" stop-color="#f9cdd0"/><stop offset="0.106" stop-color="#f8c5c8"/><stop offset="0.141" stop-color="#f4aaad"/><stop offset="0.177" stop-color="#f08a8f"/><stop offset="0.212" stop-color="#ee7d83"/><stop offset="0.247" stop-color="#ed7379"/><stop offset="0.282" stop-color="#ec6a71"/><stop offset="0.318" stop-color="#eb656c"/><stop offset="0.353" stop-color="#eb6269"/><stop offset="0.388" stop-color="#eb6168"/><stop offset="0.424" stop-color="#eb6067"/><stop offset="0.459" stop-color="#ea6067"/><stop offset="0.494" stop-color="#ea6067"/><stop offset="0.530" stop-color="#ea6067"/><stop offset="0.565" stop-color="#ea6067"/><stop offset="0.600" stop-color="#eb6168"/><stop offset="0.636" stop-color="#eb646b"/><stop offset="0.671" stop-color="#eb676e"/><stop offset="0.706" stop-color="#ec6b71"/><stop offset="0.742" stop-color="#ec6e74"/><stop offset="0.777" stop-color="#ed7178"/><stop offset="0.812" stop-color="#ed757b"/><stop offset="0.847" stop-color="#ee787e"/><stop offset="0.883" stop-color="#ee7b81"/><stop offset="0.918" stop-color="#ee7f84"/><stop offset="0.953" stop-color="#ef8288"/><stop offset="0.989" stop-color="#ef868b"/></linearGradient><linearGradient id="h2r25" x1="375.4" x2="446.2" y1="0" y2="0" gradientUnits="userSpaceOnUse"><stop offset="0.000" stop-color="#fbe0e1"/><stop offset="0.035" stop-color="#fad6d8"/><stop offset="0.071" stop-color="#f9cdd0"/><stop offset="0.106" stop-color="#f8c5c8"/><stop offset="0.141" stop-color="#f4aaae"/><stop offset="0.177" stop-color="#f08a90"/><stop offset="0.212" stop-color="#ee7e84"/><stop offset="0.247" stop-color="#ed757b"/><stop offset="0.282" stop-color="#ec6e74"/><stop offset="0.318" stop-color="#ec6a71"/><stop offset="0.353" stop-color="#ec686f"/><stop offset="0.388" stop-color="#eb676e"/><stop offset="0.424" stop-color="#eb676e"/><stop offset="0.459" stop-color="#eb676e"/><stop offset="0.494" stop-color="#eb676e"/><stop offset="0.530" stop-color="#eb676e"/><stop offset="0.565" stop-color="#eb676e"/><stop offset="0.600" stop-color="#ec686f"/><stop offset="0.636" stop-color="#ec6b72"/><stop offset="0.671" stop-color="#ec6e75"/><stop offset="0.706" stop-color="#ed7177"/><stop offset="0.742" stop-color="#ed747a"/><stop offset="0.777" stop-color="#ee777d"/><stop offset="0.812" stop-color="#ee7b80"/><stop offset="0.847" stop-color="#ee7e84"/><stop offset="0.883" stop-color="#ef8187"/><stop offset="0.918" stop-color="#ef848a"/><stop offset="0.953" stop-color="#f0888d"/><stop offset="0.989" stop-color="#f08b90"/></linearGradient><linearGradient id="h2r26" x1="375.4" x2="446.2" y1="0" y2="0" gradientUnits="userSpaceOnUse"><stop offset="0.000" stop-color="#fbe0e1"/><stop offset="0.035" stop-color="#fad6d8"/><stop offset="0.071" stop-color="#f9cdd0"/><stop offset="0.106" stop-color="#f8c5c8"/><stop offset="0.141" stop-color="#f4aaae"/><stop offset="0.177" stop-color="#f08b90"/><stop offset="0.212" stop-color="#ef8086"/><stop offset="0.247" stop-color="#ee787e"/><stop offset="0.282" stop-color="#ed7379"/><stop offset="0.318" stop-color="#ed7076"/><stop offset="0.353" stop-color="#ec6f75"/><stop offset="0.388" stop-color="#ec6e75"/><stop offset="0.424" stop-color="#ec6e75"/><stop offset="0.459" stop-color="#ec6e75"/><stop offset="0.494" stop-color="#ec6e75"/><stop offset="0.530" stop-color="#ec6e75"/><stop offset="0.565" stop-color="#ec6e75"/><stop offset="0.600" stop-color="#ec6f76"/><stop offset="0.636" stop-color="#ed7278"/><stop offset="0.671" stop-color="#ed757b"/><stop offset="0.706" stop-color="#ee787e"/><stop offset="0.742" stop-color="#ee7b81"/><stop offset="0.777" stop-color="#ee7e83"/><stop offset="0.812" stop-color="#ef8186"/><stop offset="0.847" stop-color="#ef8489"/><stop offset="0.883" stop-color="#f0878c"/><stop offset="0.918" stop-color="#f08a8f"/><stop offset="0.953" stop-color="#f08d92"/><stop offset="0.989" stop-color="#f19095"/></linearGradient><linearGradient id="h2r27" x1="375.4" x2="446.2" y1="0" y2="0" gradientUnits="userSpaceOnUse"><stop offset="0.000" stop-color="#fbe0e1"/><stop offset="0.035" stop-color="#fad6d8"/><stop offset="0.071" stop-color="#f9ced0"/><stop offset="0.106" stop-color="#f8c5c8"/><stop offset="0.141" stop-color="#f4aaae"/><stop offset="0.177" stop-color="#f08c91"/><stop offset="0.212" stop-color="#ef8388"/><stop offset="0.247" stop-color="#ee7c82"/><stop offset="0.282" stop-color="#ee787e"/><stop offset="0.318" stop-color="#ed777d"/><stop offset="0.353" stop-color="#ed767c"/><stop offset="0.388" stop-color="#ed767c"/><stop offset="0.424" stop-color="#ed767c"/><stop offset="0.459" stop-color="#ed767c"/><stop offset="0.494" stop-color="#ed767c"/><stop offset="0.530" stop-color="#ed767c"/><stop offset="0.565" stop-color="#ed767c"/><stop offset="0.600" stop-color="#ed767d"/><stop offset="0.636" stop-color="#ee797f"/><stop offset="0.671" stop-color="#ee7c82"/><stop offset="0.706" stop-color="#ee7f84"/><stop offset="0.742" stop-color="#ef8187"/><stop offset="0.777" stop-color="#ef848a"/><stop offset="0.812" stop-color="#f0878c"/><stop offset="0.847" stop-color="#f08a8f"/><stop offset="0.883" stop-color="#f08d92"/><stop offset="0.918" stop-color="#f19094"/><stop offset="0.953" stop-color="#f19297"/><stop offset="0.989" stop-color="#f1959a"/></linearGradient><linearGradient id="h2r28" x1="375.4" x2="446.2" y1="0" y2="0" gradientUnits="userSpaceOnUse"><stop offset="0.000" stop-color="#fbe0e1"/><stop offset="0.035" stop-color="#fad6d8"/><stop offset="0.071" stop-color="#f9ced0"/><stop offset="0.106" stop-color="#f8c6c8"/><stop offset="0.141" stop-color="#f4abaf"/><stop offset="0.177" stop-color="#f08e93"/><stop offset="0.212" stop-color="#ef868b"/><stop offset="0.247" stop-color="#ef8187"/><stop offset="0.282" stop-color="#ee7f84"/><stop offset="0.318" stop-color="#ee7e83"/><stop offset="0.353" stop-color="#ee7d83"/><stop offset="0.388" stop-color="#ee7d83"/><stop offset="0.424" stop-color="#ee7d83"/><stop offset="0.459" stop-color="#ee7d83"/><stop offset="0.494" stop-color="#ee7d83"/><stop offset="0.530" stop-color="#ee7d83"/><stop offset="0.565" stop-color="#ee7d83"/><stop offset="0.600" stop-color="#ee7e84"/><stop offset="0.636" stop-color="#ef8086"/><stop offset="0.671" stop-color="#ef8389"/><stop offset="0.706" stop-color="#ef868b"/><stop offset="0.742" stop-color="#f0888d"/><stop offset="0.777" stop-color="#f08b90"/><stop offset="0.812" stop-color="#f08d92"/><stop offset="0.847" stop-color="#f19095"/><stop offset="0.883" stop-color="#f19397"/><stop offset="0.918" stop-color="#f1959a"/><stop offset="0.953" stop-color="#f2989d"/><stop offset="0.989" stop-color="#f29b9f"/></linearGradient><linearGradient id="h2r29" x1="375.4" x2="446.2" y1="0" y2="0" gradientUnits="userSpaceOnUse"><stop offset="0.000" stop-color="#fbe0e1"/><stop offset="0.035" stop-color="#fad6d8"/><stop offset="0.071" stop-color="#f9ced0"/><stop offset="0.106" stop-color="#f8c6c8"/><stop offset="0.141" stop-color="#f4acb0"/><stop offset="0.177" stop-color="#f19196"/><stop offset="0.212" stop-color="#f08b90"/><stop offset="0.247" stop-color="#f0878d"/><stop offset="0.282" stop-color="#ef868b"/><stop offset="0.318" stop-color="#ef858b"/><stop offset="0.353" stop-color="#ef858a"/><stop offset="0.388" stop-color="#ef858a"/><stop offset="0.424" stop-color="#ef858a"/><stop offset="0.459" stop-color="#ef858a"/><stop offset="0.494" stop-color="#ef858a"/><stop offset="0.530" stop-color="#ef858a"/><stop offset="0.565" stop-color="#ef858a"/><stop offset="0.600" stop-color="#ef868b"/><stop offset="0.636" stop-color="#f0888d"/><stop offset="0.671" stop-color="#f08a8f"/><stop offset="0.706" stop-color="#f08d92"/><stop offset="0.742" stop-color="#f18f94"/><stop offset="0.777" stop-color="#f19196"/><stop offset="0.812" stop-color="#f19499"/><stop offset="0.847" stop-color="#f2969b"/><stop offset="0.883" stop-color="#f2999d"/><stop offset="0.918" stop-color="#f29ba0"/><stop offset="0.953" stop-color="#f29ea2"/><stop offset="0.989" stop-color="#f3a0a5"/></linearGradient><linearGradient id="h2r30" x1="375.4" x2="446.2" y1="0" y2="0" gradientUnits="userSpaceOnUse"><stop offset="0.000" stop-color="#fbe0e1"/><stop offset="0.035" stop-color="#fad7d8"/><stop offset="0.071" stop-color="#f9ced0"/><stop offset="0.106" stop-color="#f8c7c9"/><stop offset="0.141" stop-color="#f5aeb2"/><stop offset="0.177" stop-color="#f1959a"/><stop offset="0.212" stop-color="#f19095"/><stop offset="0.247" stop-color="#f08e93"/><stop offset="0.282" stop-color="#f08d92"/><stop offset="0.318" stop-color="#f08d92"/><stop offset="0.353" stop-color="#f08d92"/><stop offset="0.388" stop-color="#f08d92"/><stop offset="0.424" stop-color="#f08d92"/><stop offset="0.459" stop-color="#f08d92"/><stop offset="0.494" stop-color="#f08d92"/><stop offset="0.530" stop-color="#f08d92"/><stop offset="0.565" stop-color="#f08d92"/><stop offset="0.600" stop-color="#f08d92"/><stop offset="0.636" stop-color="#f19095"/><stop offset="0.671" stop-color="#f19297"/><stop offset="0.706" stop-color="#f19499"/><stop offset="0.742" stop-color="#f1969b"/><stop offset="0.777" stop-color="#f2989d"/><stop offset="0.812" stop-color="#f29b9f"/><stop offset="0.847" stop-color="#f29da1"/><stop offset="0.883" stop-color="#f39fa3"/><stop offset="0.918" stop-color="#f3a1a6"/><stop offset="0.953" stop-color="#f3a4a8"/><stop offset="0.989" stop-color="#f4a6aa"/></linearGradient><linearGradient id="h2r31" x1="375.4" x2="446.2" y1="0" y2="0" gradientUnits="userSpaceOnUse"><stop offset="0.000" stop-color="#fbe0e2"/><stop offset="0.035" stop-color="#fad7d8"/><stop offset="0.071" stop-color="#f9ced1"/><stop offset="0.106" stop-color="#f8c7ca"/><stop offset="0.141" stop-color="#f5b1b4"/><stop offset="0.177" stop-color="#f29a9f"/><stop offset="0.212" stop-color="#f2979c"/><stop offset="0.247" stop-color="#f1969a"/><stop offset="0.282" stop-color="#f1959a"/><stop offset="0.318" stop-color="#f1959a"/><stop offset="0.353" stop-color="#f1959a"/><stop offset="0.388" stop-color="#f1959a"/><stop offset="0.424" stop-color="#f1959a"/><stop offset="0.459" stop-color="#f1959a"/><stop offset="0.494" stop-color="#f1959a"/><stop offset="0.530" stop-color="#f1959a"/><stop offset="0.565" stop-color="#f1959a"/><stop offset="0.600" stop-color="#f1969a"/><stop offset="0.636" stop-color="#f2979c"/><stop offset="0.671" stop-color="#f2999e"/><stop offset="0.706" stop-color="#f29ba0"/><stop offset="0.742" stop-color="#f29da2"/><stop offset="0.777" stop-color="#f39fa4"/><stop offset="0.812" stop-color="#f3a1a6"/><stop offset="0.847" stop-color="#f3a3a8"/><stop offset="0.883" stop-color="#f3a5a9"/><stop offset="0.918" stop-color="#f4a8ab"/><stop offset="0.953" stop-color="#f4aaad"/><stop offset="0.989" stop-color="#f4acaf"/></linearGradient><linearGradient id="h2r32" x1="375.4" x2="446.2" y1="0" y2="0" gradientUnits="userSpaceOnUse"><stop offset="0.000" stop-color="#fbe0e2"/><stop offset="0.035" stop-color="#fad7d9"/><stop offset="0.071" stop-color="#f9cfd1"/><stop offset="0.106" stop-color="#f8c9cb"/><stop offset="0.141" stop-color="#f5b4b8"/><stop offset="0.177" stop-color="#f3a1a5"/><stop offset="0.212" stop-color="#f39fa3"/><stop offset="0.247" stop-color="#f29ea2"/><stop offset="0.282" stop-color="#f29da2"/><stop offset="0.318" stop-color="#f29da2"/><stop offset="0.353" stop-color="#f29da2"/><stop offset="0.388" stop-color="#f29da2"/><stop offset="0.424" stop-color="#f29da2"/><stop offset="0.459" stop-color="#f29da2"/><stop offset="0.494" stop-color="#f29da2"/><stop offset="0.530" stop-color="#f29da2"/><stop offset="0.565" stop-color="#f29da2"/><stop offset="0.600" stop-color="#f29ea2"/><stop offset="0.636" stop-color="#f3a0a4"/><stop offset="0.671" stop-color="#f3a1a5"/><stop offset="0.706" stop-color="#f3a3a7"/><stop offset="0.742" stop-color="#f3a5a9"/><stop offset="0.777" stop-color="#f4a7ab"/><stop offset="0.812" stop-color="#f4a8ac"/><stop offset="0.847" stop-color="#f4aaae"/><stop offset="0.883" stop-color="#f4acb0"/><stop offset="0.918" stop-color="#f5aeb2"/><stop offset="0.953" stop-color="#f5b0b3"/><stop offset="0.989" stop-color="#f5b2b5"/></linearGradient><linearGradient id="h2r33" x1="375.4" x2="446.2" y1="0" y2="0" gradientUnits="userSpaceOnUse"><stop offset="0.000" stop-color="#fbe1e2"/><stop offset="0.035" stop-color="#fad8d9"/><stop offset="0.071" stop-color="#f9d0d2"/><stop offset="0.106" stop-color="#f8cbcd"/><stop offset="0.141" stop-color="#f6b9bc"/><stop offset="0.177" stop-color="#f4a8ac"/><stop offset="0.212" stop-color="#f4a7ab"/><stop offset="0.247" stop-color="#f4a6aa"/><stop offset="0.282" stop-color="#f4a6aa"/><stop offset="0.318" stop-color="#f4a6aa"/><stop offset="0.353" stop-color="#f4a6aa"/><stop offset="0.388" stop-color="#f4a6aa"/><stop offset="0.424" stop-color="#f4a6aa"/><stop offset="0.459" stop-color="#f4a6aa"/><stop offset="0.494" stop-color="#f4a6aa"/><stop offset="0.530" stop-color="#f4a6aa"/><stop offset="0.565" stop-color="#f4a6aa"/><stop offset="0.600" stop-color="#f4a6aa"/><stop offset="0.636" stop-color="#f4a8ac"/><stop offset="0.671" stop-color="#f4a9ad"/><stop offset="0.706" stop-color="#f4abaf"/><stop offset="0.742" stop-color="#f4adb0"/><stop offset="0.777" stop-color="#f5aeb2"/><stop offset="0.812" stop-color="#f5b0b3"/><stop offset="0.847" stop-color="#f5b1b5"/><stop offset="0.883" stop-color="#f5b3b6"/><stop offset="0.918" stop-color="#f5b5b8"/><stop offset="0.953" stop-color="#f6b6b9"/><stop offset="0.989" stop-color="#f6b8bb"/></linearGradient><linearGradient id="h2r34" x1="375.4" x2="446.2" y1="0" y2="0" gradientUnits="userSpaceOnUse"><stop offset="0.000" stop-color="#fbe2e4"/><stop offset="0.035" stop-color="#fbdcde"/><stop offset="0.071" stop-color="#fad8d9"/><stop offset="0.106" stop-color="#fad5d7"/><stop offset="0.141" stop-color="#f8cacc"/><stop offset="0.177" stop-color="#f7bfc2"/><stop offset="0.212" stop-color="#f7bfc1"/><stop offset="0.247" stop-color="#f7bec1"/><stop offset="0.282" stop-color="#f7bec1"/><stop offset="0.318" stop-color="#f7bec1"/><stop offset="0.353" stop-color="#f7bec1"/><stop offset="0.388" stop-color="#f7bec1"/><stop offset="0.424" stop-color="#f7bec1"/><stop offset="0.459" stop-color="#f7bec1"/><stop offset="0.494" stop-color="#f7bec1"/><stop offset="0.530" stop-color="#f7bec1"/><stop offset="0.565" stop-color="#f7bec1"/><stop offset="0.600" stop-color="#f7bfc1"/><stop offset="0.636" stop-color="#f7c0c2"/><stop offset="0.671" stop-color="#f7c1c3"/><stop offset="0.706" stop-color="#f7c1c4"/><stop offset="0.742" stop-color="#f7c2c5"/><stop offset="0.777" stop-color="#f7c3c6"/><stop offset="0.812" stop-color="#f7c4c7"/><stop offset="0.847" stop-color="#f8c5c8"/><stop offset="0.883" stop-color="#f8c6c9"/><stop offset="0.918" stop-color="#f8c7ca"/><stop offset="0.953" stop-color="#f8c8cb"/><stop offset="0.989" stop-color="#f8c9cc"/></linearGradient><linearGradient id="h2r35" x1="375.4" x2="446.2" y1="0" y2="0" gradientUnits="userSpaceOnUse"><stop offset="0.000" stop-color="#fbe3e5"/><stop offset="0.035" stop-color="#fbdfe1"/><stop offset="0.071" stop-color="#fbdcde"/><stop offset="0.106" stop-color="#fadbdc"/><stop offset="0.141" stop-color="#f9d4d6"/><stop offset="0.177" stop-color="#f9cdcf"/><stop offset="0.212" stop-color="#f9cdcf"/><stop offset="0.247" stop-color="#f9cdcf"/><stop offset="0.282" stop-color="#f9cdcf"/><stop offset="0.318" stop-color="#f9cdcf"/><stop offset="0.353" stop-color="#f9cdcf"/><stop offset="0.388" stop-color="#f9cdcf"/><stop offset="0.424" stop-color="#f9cdcf"/><stop offset="0.459" stop-color="#f9cdcf"/><stop offset="0.494" stop-color="#f9cdcf"/><stop offset="0.530" stop-color="#f9cdcf"/><stop offset="0.565" stop-color="#f9cdcf"/><stop offset="0.600" stop-color="#f9cdcf"/><stop offset="0.636" stop-color="#f9cdd0"/><stop offset="0.671" stop-color="#f9ced0"/><stop offset="0.706" stop-color="#f9cfd1"/><stop offset="0.742" stop-color="#f9cfd1"/><stop offset="0.777" stop-color="#f9d0d2"/><stop offset="0.812" stop-color="#f9d1d3"/><stop offset="0.847" stop-color="#f9d1d3"/><stop offset="0.883" stop-color="#f9d2d4"/><stop offset="0.918" stop-color="#f9d2d4"/><stop offset="0.953" stop-color="#f9d3d5"/><stop offset="0.989" stop-color="#f9d4d6"/></linearGradient><linearGradient id="h2r36" x1="375.4" x2="446.2" y1="0" y2="0" gradientUnits="userSpaceOnUse"><stop offset="0.000" stop-color="#fce4e5"/><stop offset="0.035" stop-color="#fbe0e2"/><stop offset="0.071" stop-color="#fbdee0"/><stop offset="0.106" stop-color="#fbddde"/><stop offset="0.141" stop-color="#fad8d9"/><stop offset="0.177" stop-color="#f9d3d4"/><stop offset="0.212" stop-color="#f9d2d4"/><stop offset="0.247" stop-color="#f9d2d4"/><stop offset="0.282" stop-color="#f9d2d4"/><stop offset="0.318" stop-color="#f9d2d4"/><stop offset="0.353" stop-color="#f9d2d4"/><stop offset="0.388" stop-color="#f9d2d4"/><stop offset="0.424" stop-color="#f9d2d4"/><stop offset="0.459" stop-color="#f9d2d4"/><stop offset="0.494" stop-color="#f9d2d4"/><stop offset="0.530" stop-color="#f9d2d4"/><stop offset="0.565" stop-color="#f9d2d4"/><stop offset="0.600" stop-color="#f9d2d4"/><stop offset="0.636" stop-color="#f9d3d5"/><stop offset="0.671" stop-color="#f9d3d5"/><stop offset="0.706" stop-color="#f9d4d6"/><stop offset="0.742" stop-color="#f9d4d6"/><stop offset="0.777" stop-color="#fad5d7"/><stop offset="0.812" stop-color="#fad5d7"/><stop offset="0.847" stop-color="#fad6d7"/><stop offset="0.883" stop-color="#fad6d8"/><stop offset="0.918" stop-color="#fad7d8"/><stop offset="0.953" stop-color="#fad7d9"/><stop offset="0.989" stop-color="#fad8d9"/></linearGradient><linearGradient id="h2r37" x1="375.4" x2="446.2" y1="0" y2="0" gradientUnits="userSpaceOnUse"><stop offset="0.000" stop-color="#fce5e6"/><stop offset="0.035" stop-color="#fbe2e3"/><stop offset="0.071" stop-color="#fbe0e2"/><stop offset="0.106" stop-color="#fbdfe1"/><stop offset="0.141" stop-color="#fadcdd"/><stop offset="0.177" stop-color="#fad8da"/><stop offset="0.212" stop-color="#fad8da"/><stop offset="0.247" stop-color="#fad8da"/><stop offset="0.282" stop-color="#fad8da"/><stop offset="0.318" stop-color="#fad8da"/><stop offset="0.353" stop-color="#fad8da"/><stop offset="0.388" stop-color="#fad8da"/><stop offset="0.424" stop-color="#fad8da"/><stop offset="0.459" stop-color="#fad8da"/><stop offset="0.494" stop-color="#fad8da"/><stop offset="0.530" stop-color="#fad8da"/><stop offset="0.565" stop-color="#fad8da"/><stop offset="0.600" stop-color="#fad8da"/><stop offset="0.636" stop-color="#fad9da"/><stop offset="0.671" stop-color="#fad9db"/><stop offset="0.706" stop-color="#fad9db"/><stop offset="0.742" stop-color="#fad9db"/><stop offset="0.777" stop-color="#fadadb"/><stop offset="0.812" stop-color="#fadadc"/><stop offset="0.847" stop-color="#fadadc"/><stop offset="0.883" stop-color="#fadbdc"/><stop offset="0.918" stop-color="#fadbdd"/><stop offset="0.953" stop-color="#fadbdd"/><stop offset="0.989" stop-color="#fadcdd"/></linearGradient><linearGradient id="h2r38" x1="375.4" x2="446.2" y1="0" y2="0" gradientUnits="userSpaceOnUse"><stop offset="0.000" stop-color="#fce6e7"/><stop offset="0.035" stop-color="#fce4e5"/><stop offset="0.071" stop-color="#fbe3e4"/><stop offset="0.106" stop-color="#fbe2e4"/><stop offset="0.141" stop-color="#fbe0e2"/><stop offset="0.177" stop-color="#fbdfe0"/><stop offset="0.212" stop-color="#fbdfe0"/><stop offset="0.247" stop-color="#fbdee0"/><stop offset="0.282" stop-color="#fbdee0"/><stop offset="0.318" stop-color="#fbdee0"/><stop offset="0.353" stop-color="#fbdee0"/><stop offset="0.388" stop-color="#fbdee0"/><stop offset="0.424" stop-color="#fbdee0"/><stop offset="0.459" stop-color="#fbdee0"/><stop offset="0.494" stop-color="#fbdee0"/><stop offset="0.530" stop-color="#fbdee0"/><stop offset="0.565" stop-color="#fbdee0"/><stop offset="0.600" stop-color="#fbdfe0"/><stop offset="0.636" stop-color="#fbdfe0"/><stop offset="0.671" stop-color="#fbdfe0"/><stop offset="0.706" stop-color="#fbdfe0"/><stop offset="0.742" stop-color="#fbdfe0"/><stop offset="0.777" stop-color="#fbdfe0"/><stop offset="0.812" stop-color="#fbdfe1"/><stop offset="0.847" stop-color="#fbdfe1"/><stop offset="0.883" stop-color="#fbdfe1"/><stop offset="0.918" stop-color="#fbe0e1"/><stop offset="0.953" stop-color="#fbe0e1"/><stop offset="0.989" stop-color="#fbe0e1"/></linearGradient><linearGradient id="h2r39" x1="375.4" x2="446.2" y1="0" y2="0" gradientUnits="userSpaceOnUse"><stop offset="0.000" stop-color="#fce7e8"/><stop offset="0.035" stop-color="#fce5e6"/><stop offset="0.071" stop-color="#fce4e5"/><stop offset="0.106" stop-color="#fce4e5"/><stop offset="0.141" stop-color="#fbe3e4"/><stop offset="0.177" stop-color="#fbe2e3"/><stop offset="0.212" stop-color="#fbe2e3"/><stop offset="0.247" stop-color="#fbe2e3"/><stop offset="0.282" stop-color="#fbe2e3"/><stop offset="0.318" stop-color="#fbe2e3"/><stop offset="0.353" stop-color="#fbe2e3"/><stop offset="0.388" stop-color="#fbe2e3"/><stop offset="0.424" stop-color="#fbe2e3"/><stop offset="0.459" stop-color="#fbe2e3"/><stop offset="0.494" stop-color="#fbe2e3"/><stop offset="0.530" stop-color="#fbe2e3"/><stop offset="0.565" stop-color="#fbe2e3"/><stop offset="0.600" stop-color="#fbe2e3"/><stop offset="0.636" stop-color="#fbe2e3"/><stop offset="0.671" stop-color="#fbe2e3"/><stop offset="0.706" stop-color="#fbe2e3"/><stop offset="0.742" stop-color="#fbe2e3"/><stop offset="0.777" stop-color="#fbe2e3"/><stop offset="0.812" stop-color="#fbe2e3"/><stop offset="0.847" stop-color="#fbe2e3"/><stop offset="0.883" stop-color="#fbe2e3"/><stop offset="0.918" stop-color="#fbe2e3"/><stop offset="0.953" stop-color="#fbe2e3"/><stop offset="0.989" stop-color="#fbe2e3"/></linearGradient><linearGradient id="cbar" x1="0" x2="0" y1="0" y2="1"><stop offset="0" stop-color="#d7101e"/><stop offset="0.18" stop-color="#e43a48"/><stop offset="0.36" stop-color="#f08c95"/><stop offset="0.44" stop-color="#fbe3e5"/><stop offset="0.5" stop-color="#ffffff"/><stop offset="0.56" stop-color="#e4f3d8"/><stop offset="0.66" stop-color="#9fd27a"/><stop offset="0.83" stop-color="#5ab433"/><stop offset="1" stop-color="#3e9e22"/></linearGradient><filter id="tb" x="-30%" y="-30%" width="160%" height="160%"><feGaussianBlur stdDeviation="0.45"/></filter><radialGradient id="tum" cx="0.5" cy="0.5" r="0.5"><stop offset="0" stop-color="#f0b07e"/><stop offset="0.6" stop-color="#f3be90"/><stop offset="0.88" stop-color="#f6cfaa"/><stop offset="1" stop-color="#fae4d0"/></radialGradient></defs><rect x="0" y="0" width="520" height="630" fill="#ffffff"/><text x="10" y="17" font-size="11" fill="#111" font-weight="bold">A</text><text x="219.5" y="17" font-size="11" fill="#111" font-weight="bold">B</text><text x="9.5" y="161.6" font-size="11" fill="#111" font-weight="bold">C</text><text x="261" y="161.7" font-size="11" fill="#111" font-weight="bold">D</text><text x="10" y="306.5" font-size="11" fill="#111" font-weight="bold">E</text><text x="9.6" y="447.8" font-size="11" fill="#111" font-weight="bold">F</text><text x="219" y="449.2" font-size="11" fill="#111" font-weight="bold">G</text><text x="338" y="447.4" font-size="11" fill="#111" font-weight="bold">H</text><line x1="38.5" y1="29.7" x2="38.5" y2="109.8" stroke="#151515" stroke-width="1"/><line x1="36.6" y1="109.3" x2="38.8" y2="109.3" stroke="#1e1e1e" stroke-width="0.7"/><text x="34" y="111.17" font-size="5.2" text-anchor="end">0</text><line x1="36.6" y1="90" x2="38.8" y2="90" stroke="#1e1e1e" stroke-width="0.7"/><text x="34" y="91.87" font-size="5.2" text-anchor="end">1</text><line x1="36.6" y1="70.7" x2="38.8" y2="70.7" stroke="#1e1e1e" stroke-width="0.7"/><text x="34" y="72.57" font-size="5.2" text-anchor="end">2</text><line x1="36.6" y1="51.4" x2="38.8" y2="51.4" stroke="#1e1e1e" stroke-width="0.7"/><text x="34" y="53.27" font-size="5.2" text-anchor="end">3</text><line x1="36.6" y1="32.1" x2="38.8" y2="32.1" stroke="#1e1e1e" stroke-width="0.7"/><text x="34" y="33.97" font-size="5.2" text-anchor="end">4</text><line x1="38.4" y1="109.5" x2="78.7" y2="109.5" stroke="#151515" stroke-width="1"/><line x1="38.8" y1="109.3" x2="38.8" y2="111.3" stroke="#1e1e1e" stroke-width="0.7"/><line x1="48.2" y1="109.3" x2="48.2" y2="111.3" stroke="#1e1e1e" stroke-width="0.7"/><line x1="57.6" y1="109.3" x2="57.6" y2="111.3" stroke="#1e1e1e" stroke-width="0.7"/><line x1="67" y1="109.3" x2="67" y2="111.3" stroke="#1e1e1e" stroke-width="0.7"/><line x1="76.4" y1="109.3" x2="76.4" y2="111.3" stroke="#1e1e1e" stroke-width="0.7"/><path d="M40.5 109.3 L42 107.93 L45 107.93 L46.5 109.3" fill="none" stroke="#3a1228" stroke-width="0.8"/><rect x="49.8" y="44.64" width="6.2" height="64.66" fill="#e4097a" stroke="#b80c62" stroke-width="0.35"/><line x1="52.9" y1="44.64" x2="52.9" y2="39.43" stroke="#5a1a3a" stroke-width="0.5"/><line x1="52.1" y1="39.43" x2="53.7" y2="39.43" stroke="#5a1a3a" stroke-width="0.5"/><path d="M51.6 36.93L51.6 38.93M52.47 37.43L50.73 38.43M52.47 38.43L50.73 37.43" fill="none" stroke="#2a2a2a" stroke-width="0.55"/><path d="M54.2 36.93L54.2 38.93M55.07 37.43L53.33 38.43M55.07 38.43L53.33 37.43" fill="none" stroke="#2a2a2a" stroke-width="0.55"/><path d="M59.3 109.3 L60.8 108.51 L63.8 108.51 L65.3 109.3" fill="none" stroke="#3a1228" stroke-width="0.8"/><rect x="68.6" y="87.68" width="6.2" height="21.62" fill="#e4097a" stroke="#b80c62" stroke-width="0.35"/><line x1="71.7" y1="87.68" x2="71.7" y2="82.67" stroke="#5a1a3a" stroke-width="0.5"/><line x1="70.9" y1="82.67" x2="72.5" y2="82.67" stroke="#5a1a3a" stroke-width="0.5"/><path d="M71.7 80.17L71.7 82.17M72.57 80.67L70.83 81.67M72.57 81.67L70.83 80.67" fill="none" stroke="#2a2a2a" stroke-width="0.55"/><text x="59.25" y="17.57" font-size="6.3" text-anchor="middle" fill="#3a3a3a">IL1R1 locus</text><text x="59.25" y="25.17" font-size="6.3" text-anchor="middle" fill="#e0107e">(S&#8211; 1245)</text><text x="46.7" y="118.3" font-size="5.4" text-anchor="end" fill="#333333" transform="rotate(-45 46.7 118.3)">IgG</text><text x="56.1" y="118.3" font-size="5.4" text-anchor="end" fill="#333333" transform="rotate(-45 56.1 118.3)">STAT3</text><text x="65.5" y="118.3" font-size="5.4" text-anchor="end" fill="#333333" transform="rotate(-45 65.5 118.3)">IgG</text><text x="74.9" y="118.3" font-size="5.4" text-anchor="end" fill="#333333" transform="rotate(-45 74.9 118.3)">STAT3</text><line x1="37.8" y1="132.5" x2="56.4" y2="132.5" stroke="#333" stroke-width="0.75"/><line x1="58.8" y1="132.5" x2="76.9" y2="132.5" stroke="#333" stroke-width="0.75"/><text x="48.2" y="140.14" font-size="5.4" text-anchor="middle">MAC1</text><text x="68" y="140.14" font-size="5.4" text-anchor="middle">Karpas</text><text x="68.5" y="146.44" font-size="5.4" text-anchor="middle">-299</text><line x1="94.5" y1="30.4" x2="94.5" y2="109.8" stroke="#151515" stroke-width="1"/><line x1="91.8" y1="109.3" x2="94" y2="109.3" stroke="#1e1e1e" stroke-width="0.7"/><text x="89.2" y="111.17" font-size="5.2" text-anchor="end">0</text><line x1="91.8" y1="94" x2="94" y2="94" stroke="#1e1e1e" stroke-width="0.7"/><text x="89.2" y="95.87" font-size="5.2" text-anchor="end">1</text><line x1="91.8" y1="78.7" x2="94" y2="78.7" stroke="#1e1e1e" stroke-width="0.7"/><text x="89.2" y="80.57" font-size="5.2" text-anchor="end">2</text><line x1="91.8" y1="63.4" x2="94" y2="63.4" stroke="#1e1e1e" stroke-width="0.7"/><text x="89.2" y="65.27" font-size="5.2" text-anchor="end">3</text><line x1="91.8" y1="48.1" x2="94" y2="48.1" stroke="#1e1e1e" stroke-width="0.7"/><text x="89.2" y="49.97" font-size="5.2" text-anchor="end">4</text><line x1="91.8" y1="32.8" x2="94" y2="32.8" stroke="#1e1e1e" stroke-width="0.7"/><text x="89.2" y="34.67" font-size="5.2" text-anchor="end">5</text><line x1="93.6" y1="109.5" x2="137.7" y2="109.5" stroke="#151515" stroke-width="1"/><line x1="94" y1="109.3" x2="94" y2="111.3" stroke="#1e1e1e" stroke-width="0.7"/><line x1="104.4" y1="109.3" x2="104.4" y2="111.3" stroke="#1e1e1e" stroke-width="0.7"/><line x1="114.8" y1="109.3" x2="114.8" y2="111.3" stroke="#1e1e1e" stroke-width="0.7"/><line x1="125.1" y1="109.3" x2="125.1" y2="111.3" stroke="#1e1e1e" stroke-width="0.7"/><line x1="135.4" y1="109.3" x2="135.4" y2="111.3" stroke="#1e1e1e" stroke-width="0.7"/><path d="M96.2 109.3 L97.7 108.13 L100.7 108.13 L102.2 109.3" fill="none" stroke="#3a1228" stroke-width="0.8"/><rect x="106.5" y="74.11" width="6.2" height="35.19" fill="#e4097a" stroke="#b80c62" stroke-width="0.35"/><line x1="109.6" y1="74.11" x2="109.6" y2="71.36" stroke="#5a1a3a" stroke-width="0.5"/><line x1="108.8" y1="71.36" x2="110.4" y2="71.36" stroke="#5a1a3a" stroke-width="0.5"/><path d="M108.3 68.86L108.3 70.86M109.17 69.36L107.43 70.36M109.17 70.36L107.43 69.36" fill="none" stroke="#2a2a2a" stroke-width="0.55"/><path d="M110.9 68.86L110.9 70.86M111.77 69.36L110.03 70.36M111.77 70.36L110.03 69.36" fill="none" stroke="#2a2a2a" stroke-width="0.55"/><path d="M116.95 109.3 L118.45 108.44 L121.45 108.44 L122.95 109.3" fill="none" stroke="#3a1228" stroke-width="0.8"/><rect x="127.15" y="51.92" width="6.2" height="57.38" fill="#e4097a" stroke="#b80c62" stroke-width="0.35"/><line x1="130.25" y1="51.92" x2="130.25" y2="40.45" stroke="#5a1a3a" stroke-width="0.5"/><line x1="129.45" y1="40.45" x2="131.05" y2="40.45" stroke="#5a1a3a" stroke-width="0.5"/><path d="M130.25 37.95L130.25 39.95M131.12 38.45L129.38 39.45M131.12 39.45L129.38 38.45" fill="none" stroke="#2a2a2a" stroke-width="0.55"/><text x="116.35" y="17.57" font-size="6.3" text-anchor="middle" fill="#3a3a3a">IL1R1 locus</text><text x="116.35" y="25.17" font-size="6.3" text-anchor="middle" fill="#e0107e">(S&#8211; 965)</text><text x="102.4" y="118.3" font-size="5.4" text-anchor="end" fill="#333333" transform="rotate(-45 102.4 118.3)">IgG</text><text x="112.8" y="118.3" font-size="5.4" text-anchor="end" fill="#333333" transform="rotate(-45 112.8 118.3)">STAT3</text><text x="123.15" y="118.3" font-size="5.4" text-anchor="end" fill="#333333" transform="rotate(-45 123.15 118.3)">IgG</text><text x="133.45" y="118.3" font-size="5.4" text-anchor="end" fill="#333333" transform="rotate(-45 133.45 118.3)">STAT3</text><line x1="93" y1="132.5" x2="113.6" y2="132.5" stroke="#333" stroke-width="0.75"/><line x1="116" y1="132.5" x2="135.9" y2="132.5" stroke="#333" stroke-width="0.75"/><text x="104.4" y="140.14" font-size="5.4" text-anchor="middle">MAC1</text><text x="126.1" y="140.14" font-size="5.4" text-anchor="middle">Karpas</text><text x="126.6" y="146.44" font-size="5.4" text-anchor="middle">-299</text><line x1="154.5" y1="30" x2="154.5" y2="109.7" stroke="#151515" stroke-width="1"/><line x1="152" y1="109.2" x2="154.2" y2="109.2" stroke="#1e1e1e" stroke-width="0.7"/><text x="149.4" y="111.07" font-size="5.2" text-anchor="end">0</text><line x1="152" y1="99.6" x2="154.2" y2="99.6" stroke="#1e1e1e" stroke-width="0.7"/><text x="149.4" y="101.47" font-size="5.2" text-anchor="end">1</text><line x1="152" y1="90" x2="154.2" y2="90" stroke="#1e1e1e" stroke-width="0.7"/><text x="149.4" y="91.87" font-size="5.2" text-anchor="end">2</text><line x1="152" y1="80.4" x2="154.2" y2="80.4" stroke="#1e1e1e" stroke-width="0.7"/><text x="149.4" y="82.27" font-size="5.2" text-anchor="end">3</text><line x1="152" y1="70.8" x2="154.2" y2="70.8" stroke="#1e1e1e" stroke-width="0.7"/><text x="149.4" y="72.67" font-size="5.2" text-anchor="end">4</text><line x1="152" y1="61.2" x2="154.2" y2="61.2" stroke="#1e1e1e" stroke-width="0.7"/><text x="149.4" y="63.07" font-size="5.2" text-anchor="end">5</text><line x1="152" y1="51.6" x2="154.2" y2="51.6" stroke="#1e1e1e" stroke-width="0.7"/><text x="149.4" y="53.47" font-size="5.2" text-anchor="end">6</text><line x1="152" y1="42" x2="154.2" y2="42" stroke="#1e1e1e" stroke-width="0.7"/><text x="149.4" y="43.87" font-size="5.2" text-anchor="end">7</text><line x1="152" y1="32.4" x2="154.2" y2="32.4" stroke="#1e1e1e" stroke-width="0.7"/><text x="149.4" y="34.27" font-size="5.2" text-anchor="end">8</text><line x1="153.8" y1="109.5" x2="199.6" y2="109.5" stroke="#151515" stroke-width="1"/><line x1="154.2" y1="109.2" x2="154.2" y2="111.2" stroke="#1e1e1e" stroke-width="0.7"/><line x1="164.8" y1="109.2" x2="164.8" y2="111.2" stroke="#1e1e1e" stroke-width="0.7"/><line x1="175.6" y1="109.2" x2="175.6" y2="111.2" stroke="#1e1e1e" stroke-width="0.7"/><line x1="186.3" y1="109.2" x2="186.3" y2="111.2" stroke="#1e1e1e" stroke-width="0.7"/><line x1="197.1" y1="109.2" x2="197.1" y2="111.2" stroke="#1e1e1e" stroke-width="0.7"/><path d="M156.5 109.2 L158 107.65 L161 107.65 L162.5 109.2" fill="none" stroke="#3a1228" stroke-width="0.8"/><rect x="167.1" y="91.92" width="6.2" height="17.28" fill="#e4097a" stroke="#b80c62" stroke-width="0.35"/><line x1="170.2" y1="91.92" x2="170.2" y2="90" stroke="#5a1a3a" stroke-width="0.5"/><line x1="169.4" y1="90" x2="171" y2="90" stroke="#5a1a3a" stroke-width="0.5"/><path d="M168.9 87.5L168.9 89.5M169.77 88L168.03 89M169.77 89L168.03 88" fill="none" stroke="#2a2a2a" stroke-width="0.55"/><path d="M171.5 87.5L171.5 89.5M172.37 88L170.63 89M172.37 89L170.63 88" fill="none" stroke="#2a2a2a" stroke-width="0.55"/><path d="M177.95 109.2 L179.45 108.32 L182.45 108.32 L183.95 109.2" fill="none" stroke="#3a1228" stroke-width="0.8"/><rect x="188.6" y="45.84" width="6.2" height="63.36" fill="#e4097a" stroke="#b80c62" stroke-width="0.35"/><line x1="191.7" y1="45.84" x2="191.7" y2="37.68" stroke="#5a1a3a" stroke-width="0.5"/><line x1="190.9" y1="37.68" x2="192.5" y2="37.68" stroke="#5a1a3a" stroke-width="0.5"/><path d="M191.7 35.18L191.7 37.18M192.57 35.68L190.83 36.68M192.57 36.68L190.83 35.68" fill="none" stroke="#2a2a2a" stroke-width="0.55"/><text x="177.4" y="17.57" font-size="6.3" text-anchor="middle" fill="#3a3a3a">IL1RAP locus</text><text x="177.4" y="25.17" font-size="6.3" text-anchor="middle" fill="#e0107e">(S+ 812)</text><text x="162.7" y="118.3" font-size="5.4" text-anchor="end" fill="#333333" transform="rotate(-45 162.7 118.3)">IgG</text><text x="173.4" y="118.3" font-size="5.4" text-anchor="end" fill="#333333" transform="rotate(-45 173.4 118.3)">STAT3</text><text x="184.15" y="118.3" font-size="5.4" text-anchor="end" fill="#333333" transform="rotate(-45 184.15 118.3)">IgG</text><text x="194.9" y="118.3" font-size="5.4" text-anchor="end" fill="#333333" transform="rotate(-45 194.9 118.3)">STAT3</text><line x1="153.2" y1="132.5" x2="174.4" y2="132.5" stroke="#333" stroke-width="0.75"/><line x1="176.8" y1="132.5" x2="197.6" y2="132.5" stroke="#333" stroke-width="0.75"/><text x="164.9" y="140.14" font-size="5.4" text-anchor="middle">MAC1</text><text x="187.35" y="140.14" font-size="5.4" text-anchor="middle">Karpas</text><text x="187.85" y="146.44" font-size="5.4" text-anchor="middle">-299</text><text x="33.3" y="122.54" font-size="5.4" text-anchor="end">CHIP</text><text x="33.8" y="129.54" font-size="5.4" text-anchor="end">antibody:</text><text x="22.3" y="71.53" font-size="7.04" text-anchor="middle" fill="#3a3a3a" textLength="75" lengthAdjust="spacingAndGlyphs" transform="rotate(-90 22.3 69)">ChIP signal (arbitrary units)</text><line x1="244.5" y1="21.96" x2="244.5" y2="127.1" stroke="#151515" stroke-width="1"/><line x1="242.6" y1="126.6" x2="244.8" y2="126.6" stroke="#1e1e1e" stroke-width="0.7"/><text x="240" y="128.47" font-size="5.2" text-anchor="end">0</text><line x1="242.6" y1="109.56" x2="244.8" y2="109.56" stroke="#1e1e1e" stroke-width="0.7"/><text x="240" y="111.43" font-size="5.2" text-anchor="end">20</text><line x1="242.6" y1="92.52" x2="244.8" y2="92.52" stroke="#1e1e1e" stroke-width="0.7"/><text x="240" y="94.39" font-size="5.2" text-anchor="end">40</text><line x1="242.6" y1="75.48" x2="244.8" y2="75.48" stroke="#1e1e1e" stroke-width="0.7"/><text x="240" y="77.35" font-size="5.2" text-anchor="end">60</text><line x1="242.6" y1="58.44" x2="244.8" y2="58.44" stroke="#1e1e1e" stroke-width="0.7"/><text x="240" y="60.31" font-size="5.2" text-anchor="end">80</text><line x1="242.6" y1="41.4" x2="244.8" y2="41.4" stroke="#1e1e1e" stroke-width="0.7"/><text x="240" y="43.27" font-size="5.2" text-anchor="end">100</text><line x1="242.6" y1="24.36" x2="244.8" y2="24.36" stroke="#1e1e1e" stroke-width="0.7"/><text x="240" y="26.23" font-size="5.2" text-anchor="end">120</text><line x1="244.4" y1="126.5" x2="341" y2="126.5" stroke="#151515" stroke-width="1"/><line x1="268.3" y1="126.6" x2="268.3" y2="128.6" stroke="#1e1e1e" stroke-width="0.7"/><line x1="292.2" y1="126.6" x2="292.2" y2="128.6" stroke="#1e1e1e" stroke-width="0.7"/><line x1="316.1" y1="126.6" x2="316.1" y2="128.6" stroke="#1e1e1e" stroke-width="0.7"/><line x1="340" y1="126.6" x2="340" y2="128.6" stroke="#1e1e1e" stroke-width="0.7"/><rect x="247.7" y="41.4" width="6" height="85.2" fill="#4a5a6c" stroke="#3a4858" stroke-width="0.3"/><rect x="253.7" y="97.63" width="6" height="28.97" fill="#6b2470" stroke="#4e1a52" stroke-width="0.3"/><rect x="259.7" y="96.78" width="6" height="29.82" fill="#9c8cd0" stroke="#7e6eb4" stroke-width="0.3"/><line x1="250.7" y1="41.4" x2="250.7" y2="37.14" stroke="#333" stroke-width="0.5"/><line x1="249.9" y1="37.14" x2="251.5" y2="37.14" stroke="#333" stroke-width="0.5"/><line x1="256.7" y1="97.63" x2="256.7" y2="95.93" stroke="#333" stroke-width="0.5"/><line x1="255.9" y1="95.93" x2="257.5" y2="95.93" stroke="#333" stroke-width="0.5"/><path d="M255.4 93.53L255.4 95.53M256.27 94.03L254.53 95.03M256.27 95.03L254.53 94.03" fill="none" stroke="#2a2a2a" stroke-width="0.55"/><path d="M258 93.53L258 95.53M258.87 94.03L257.13 95.03M258.87 95.03L257.13 94.03" fill="none" stroke="#2a2a2a" stroke-width="0.55"/><line x1="262.7" y1="96.78" x2="262.7" y2="95.08" stroke="#333" stroke-width="0.5"/><line x1="261.9" y1="95.08" x2="263.5" y2="95.08" stroke="#333" stroke-width="0.5"/><path d="M261.4 92.68L261.4 94.68M262.27 93.18L260.53 94.18M262.27 94.18L260.53 93.18" fill="none" stroke="#2a2a2a" stroke-width="0.55"/><path d="M264 92.68L264 94.68M264.87 93.18L263.13 94.18M264.87 94.18L263.13 93.18" fill="none" stroke="#2a2a2a" stroke-width="0.55"/><rect x="271.6" y="41.4" width="6" height="85.2" fill="#4a5a6c" stroke="#3a4858" stroke-width="0.3"/><rect x="277.6" y="111.26" width="6" height="15.34" fill="#6b2470" stroke="#4e1a52" stroke-width="0.3"/><rect x="283.6" y="99.34" width="6" height="27.26" fill="#9c8cd0" stroke="#7e6eb4" stroke-width="0.3"/><line x1="274.6" y1="41.4" x2="274.6" y2="39.7" stroke="#333" stroke-width="0.5"/><line x1="273.8" y1="39.7" x2="275.4" y2="39.7" stroke="#333" stroke-width="0.5"/><line x1="280.6" y1="111.26" x2="280.6" y2="109.56" stroke="#333" stroke-width="0.5"/><line x1="279.8" y1="109.56" x2="281.4" y2="109.56" stroke="#333" stroke-width="0.5"/><path d="M279.3 107.16L279.3 109.16M280.17 107.66L278.43 108.66M280.17 108.66L278.43 107.66" fill="none" stroke="#2a2a2a" stroke-width="0.55"/><path d="M281.9 107.16L281.9 109.16M282.77 107.66L281.03 108.66M282.77 108.66L281.03 107.66" fill="none" stroke="#2a2a2a" stroke-width="0.55"/><line x1="286.6" y1="99.34" x2="286.6" y2="97.63" stroke="#333" stroke-width="0.5"/><line x1="285.8" y1="97.63" x2="287.4" y2="97.63" stroke="#333" stroke-width="0.5"/><path d="M285.3 95.23L285.3 97.23M286.17 95.73L284.43 96.73M286.17 96.73L284.43 95.73" fill="none" stroke="#2a2a2a" stroke-width="0.55"/><path d="M287.9 95.23L287.9 97.23M288.77 95.73L287.03 96.73M288.77 96.73L287.03 95.73" fill="none" stroke="#2a2a2a" stroke-width="0.55"/><rect x="295.5" y="41.4" width="6" height="85.2" fill="#4a5a6c" stroke="#3a4858" stroke-width="0.3"/><rect x="301.5" y="78.89" width="6" height="47.71" fill="#6b2470" stroke="#4e1a52" stroke-width="0.3"/><rect x="307.5" y="72.07" width="6" height="54.53" fill="#9c8cd0" stroke="#7e6eb4" stroke-width="0.3"/><line x1="298.5" y1="41.4" x2="298.5" y2="40.89" stroke="#333" stroke-width="0.5"/><line x1="297.7" y1="40.89" x2="299.3" y2="40.89" stroke="#333" stroke-width="0.5"/><line x1="304.5" y1="78.89" x2="304.5" y2="77.18" stroke="#333" stroke-width="0.5"/><line x1="303.7" y1="77.18" x2="305.3" y2="77.18" stroke="#333" stroke-width="0.5"/><path d="M303.2 74.78L303.2 76.78M304.07 75.28L302.33 76.28M304.07 76.28L302.33 75.28" fill="none" stroke="#2a2a2a" stroke-width="0.55"/><path d="M305.8 74.78L305.8 76.78M306.67 75.28L304.93 76.28M306.67 76.28L304.93 75.28" fill="none" stroke="#2a2a2a" stroke-width="0.55"/><line x1="310.5" y1="72.07" x2="310.5" y2="69.52" stroke="#333" stroke-width="0.5"/><line x1="309.7" y1="69.52" x2="311.3" y2="69.52" stroke="#333" stroke-width="0.5"/><path d="M309.2 67.12L309.2 69.12M310.07 67.62L308.33 68.62M310.07 68.62L308.33 67.62" fill="none" stroke="#2a2a2a" stroke-width="0.55"/><path d="M311.8 67.12L311.8 69.12M312.67 67.62L310.93 68.62M312.67 68.62L310.93 67.62" fill="none" stroke="#2a2a2a" stroke-width="0.55"/><rect x="319.4" y="41.4" width="6" height="85.2" fill="#4a5a6c" stroke="#3a4858" stroke-width="0.3"/><rect x="325.4" y="112.97" width="6" height="13.63" fill="#6b2470" stroke="#4e1a52" stroke-width="0.3"/><rect x="331.4" y="111.26" width="6" height="15.34" fill="#9c8cd0" stroke="#7e6eb4" stroke-width="0.3"/><line x1="322.4" y1="41.4" x2="322.4" y2="39.7" stroke="#333" stroke-width="0.5"/><line x1="321.6" y1="39.7" x2="323.2" y2="39.7" stroke="#333" stroke-width="0.5"/><line x1="328.4" y1="112.97" x2="328.4" y2="111.26" stroke="#333" stroke-width="0.5"/><line x1="327.6" y1="111.26" x2="329.2" y2="111.26" stroke="#333" stroke-width="0.5"/><path d="M327.1 108.86L327.1 110.86M327.97 109.36L326.23 110.36M327.97 110.36L326.23 109.36" fill="none" stroke="#2a2a2a" stroke-width="0.55"/><path d="M329.7 108.86L329.7 110.86M330.57 109.36L328.83 110.36M330.57 110.36L328.83 109.36" fill="none" stroke="#2a2a2a" stroke-width="0.55"/><line x1="334.4" y1="111.26" x2="334.4" y2="109.56" stroke="#333" stroke-width="0.5"/><line x1="333.6" y1="109.56" x2="335.2" y2="109.56" stroke="#333" stroke-width="0.5"/><path d="M333.1 107.16L333.1 109.16M333.97 107.66L332.23 108.66M333.97 108.66L332.23 107.66" fill="none" stroke="#2a2a2a" stroke-width="0.55"/><path d="M335.7 107.16L335.7 109.16M336.57 107.66L334.83 108.66M336.57 108.66L334.83 107.66" fill="none" stroke="#2a2a2a" stroke-width="0.55"/><text x="257" y="137.81" font-size="5.3" text-anchor="middle">MAC1</text><text x="280.6" y="137.81" font-size="5.3" text-anchor="middle">MAC2A</text><text x="304.4" y="137.81" font-size="5.3" text-anchor="middle">DEL</text><text x="328.3" y="137.81" font-size="5.3" text-anchor="middle">Karpas</text><text x="328.3" y="144.01" font-size="5.3" text-anchor="middle">-299</text><text x="294.4" y="20.72" font-size="5.9" text-anchor="middle" fill="#333">IL1R1</text><text x="224.4" y="75.73" font-size="7.04" text-anchor="middle" fill="#3a3a3a" textLength="75" lengthAdjust="spacingAndGlyphs" transform="rotate(-90 224.4 73.2)">mRNA expression (% to Ctrl)</text><line x1="355.5" y1="22.16" x2="355.5" y2="127.3" stroke="#151515" stroke-width="1"/><line x1="353.4" y1="126.8" x2="355.6" y2="126.8" stroke="#1e1e1e" stroke-width="0.7"/><text x="350.8" y="128.67" font-size="5.2" text-anchor="end">0</text><line x1="353.4" y1="109.76" x2="355.6" y2="109.76" stroke="#1e1e1e" stroke-width="0.7"/><text x="350.8" y="111.63" font-size="5.2" text-anchor="end">20</text><line x1="353.4" y1="92.72" x2="355.6" y2="92.72" stroke="#1e1e1e" stroke-width="0.7"/><text x="350.8" y="94.59" font-size="5.2" text-anchor="end">40</text><line x1="353.4" y1="75.68" x2="355.6" y2="75.68" stroke="#1e1e1e" stroke-width="0.7"/><text x="350.8" y="77.55" font-size="5.2" text-anchor="end">60</text><line x1="353.4" y1="58.64" x2="355.6" y2="58.64" stroke="#1e1e1e" stroke-width="0.7"/><text x="350.8" y="60.51" font-size="5.2" text-anchor="end">80</text><line x1="353.4" y1="41.6" x2="355.6" y2="41.6" stroke="#1e1e1e" stroke-width="0.7"/><text x="350.8" y="43.47" font-size="5.2" text-anchor="end">100</text><line x1="353.4" y1="24.56" x2="355.6" y2="24.56" stroke="#1e1e1e" stroke-width="0.7"/><text x="350.8" y="26.43" font-size="5.2" text-anchor="end">120</text><line x1="355.2" y1="126.5" x2="445.5" y2="126.5" stroke="#151515" stroke-width="1"/><line x1="379" y1="126.8" x2="379" y2="128.8" stroke="#1e1e1e" stroke-width="0.7"/><line x1="402.4" y1="126.8" x2="402.4" y2="128.8" stroke="#1e1e1e" stroke-width="0.7"/><line x1="425.8" y1="126.8" x2="425.8" y2="128.8" stroke="#1e1e1e" stroke-width="0.7"/><rect x="359" y="41.6" width="6" height="85.2" fill="#4a5a6c" stroke="#3a4858" stroke-width="0.3"/><rect x="365" y="102.94" width="6" height="23.86" fill="#6b2470" stroke="#4e1a52" stroke-width="0.3"/><rect x="371" y="101.24" width="6" height="25.56" fill="#9c8cd0" stroke="#7e6eb4" stroke-width="0.3"/><line x1="362" y1="41.6" x2="362" y2="35.64" stroke="#333" stroke-width="0.5"/><line x1="361.2" y1="35.64" x2="362.8" y2="35.64" stroke="#333" stroke-width="0.5"/><line x1="368" y1="102.94" x2="368" y2="100.39" stroke="#333" stroke-width="0.5"/><line x1="367.2" y1="100.39" x2="368.8" y2="100.39" stroke="#333" stroke-width="0.5"/><path d="M366.7 97.99L366.7 99.99M367.57 98.49L365.83 99.49M367.57 99.49L365.83 98.49" fill="none" stroke="#2a2a2a" stroke-width="0.55"/><path d="M369.3 97.99L369.3 99.99M370.17 98.49L368.43 99.49M370.17 99.49L368.43 98.49" fill="none" stroke="#2a2a2a" stroke-width="0.55"/><line x1="374" y1="101.24" x2="374" y2="99.54" stroke="#333" stroke-width="0.5"/><line x1="373.2" y1="99.54" x2="374.8" y2="99.54" stroke="#333" stroke-width="0.5"/><path d="M372.7 97.14L372.7 99.14M373.57 97.64L371.83 98.64M373.57 98.64L371.83 97.64" fill="none" stroke="#2a2a2a" stroke-width="0.55"/><path d="M375.3 97.14L375.3 99.14M376.17 97.64L374.43 98.64M376.17 98.64L374.43 97.64" fill="none" stroke="#2a2a2a" stroke-width="0.55"/><rect x="382.4" y="41.6" width="6" height="85.2" fill="#4a5a6c" stroke="#3a4858" stroke-width="0.3"/><rect x="388.4" y="109.76" width="6" height="17.04" fill="#6b2470" stroke="#4e1a52" stroke-width="0.3"/><rect x="394.4" y="108.91" width="6" height="17.89" fill="#9c8cd0" stroke="#7e6eb4" stroke-width="0.3"/><line x1="385.4" y1="41.6" x2="385.4" y2="41.09" stroke="#333" stroke-width="0.5"/><line x1="384.6" y1="41.09" x2="386.2" y2="41.09" stroke="#333" stroke-width="0.5"/><line x1="391.4" y1="109.76" x2="391.4" y2="107.2" stroke="#333" stroke-width="0.5"/><line x1="390.6" y1="107.2" x2="392.2" y2="107.2" stroke="#333" stroke-width="0.5"/><path d="M390.1 104.8L390.1 106.8M390.97 105.3L389.23 106.3M390.97 106.3L389.23 105.3" fill="none" stroke="#2a2a2a" stroke-width="0.55"/><path d="M392.7 104.8L392.7 106.8M393.57 105.3L391.83 106.3M393.57 106.3L391.83 105.3" fill="none" stroke="#2a2a2a" stroke-width="0.55"/><line x1="397.4" y1="108.91" x2="397.4" y2="106.35" stroke="#333" stroke-width="0.5"/><line x1="396.6" y1="106.35" x2="398.2" y2="106.35" stroke="#333" stroke-width="0.5"/><path d="M396.1 103.95L396.1 105.95M396.97 104.45L395.23 105.45M396.97 105.45L395.23 104.45" fill="none" stroke="#2a2a2a" stroke-width="0.55"/><path d="M398.7 103.95L398.7 105.95M399.57 104.45L397.83 105.45M399.57 105.45L397.83 104.45" fill="none" stroke="#2a2a2a" stroke-width="0.55"/><rect x="405.8" y="41.6" width="6" height="85.2" fill="#4a5a6c" stroke="#3a4858" stroke-width="0.3"/><rect x="411.8" y="118.28" width="6" height="8.52" fill="#6b2470" stroke="#4e1a52" stroke-width="0.3"/><rect x="417.8" y="123.39" width="6" height="3.41" fill="#9c8cd0" stroke="#7e6eb4" stroke-width="0.3"/><line x1="408.8" y1="41.6" x2="408.8" y2="34.78" stroke="#333" stroke-width="0.5"/><line x1="408" y1="34.78" x2="409.6" y2="34.78" stroke="#333" stroke-width="0.5"/><line x1="414.8" y1="118.28" x2="414.8" y2="116.58" stroke="#333" stroke-width="0.5"/><line x1="414" y1="116.58" x2="415.6" y2="116.58" stroke="#333" stroke-width="0.5"/><path d="M413.5 114.18L413.5 116.18M414.37 114.68L412.63 115.68M414.37 115.68L412.63 114.68" fill="none" stroke="#2a2a2a" stroke-width="0.55"/><path d="M416.1 114.18L416.1 116.18M416.97 114.68L415.23 115.68M416.97 115.68L415.23 114.68" fill="none" stroke="#2a2a2a" stroke-width="0.55"/><line x1="420.8" y1="123.39" x2="420.8" y2="122.54" stroke="#333" stroke-width="0.5"/><line x1="420" y1="122.54" x2="421.6" y2="122.54" stroke="#333" stroke-width="0.5"/><path d="M419.5 120.14L419.5 122.14M420.37 120.64L418.63 121.64M420.37 121.64L418.63 120.64" fill="none" stroke="#2a2a2a" stroke-width="0.55"/><path d="M422.1 120.14L422.1 122.14M422.97 120.64L421.23 121.64M422.97 121.64L421.23 120.64" fill="none" stroke="#2a2a2a" stroke-width="0.55"/><rect x="429.2" y="41.6" width="6" height="85.2" fill="#4a5a6c" stroke="#3a4858" stroke-width="0.3"/><rect x="435.2" y="111.46" width="6" height="15.34" fill="#6b2470" stroke="#4e1a52" stroke-width="0.3"/><rect x="441.2" y="116.58" width="6" height="10.22" fill="#9c8cd0" stroke="#7e6eb4" stroke-width="0.3"/><line x1="432.2" y1="41.6" x2="432.2" y2="36.49" stroke="#333" stroke-width="0.5"/><line x1="431.4" y1="36.49" x2="433" y2="36.49" stroke="#333" stroke-width="0.5"/><line x1="438.2" y1="111.46" x2="438.2" y2="108.91" stroke="#333" stroke-width="0.5"/><line x1="437.4" y1="108.91" x2="439" y2="108.91" stroke="#333" stroke-width="0.5"/><path d="M436.9 106.51L436.9 108.51M437.77 107.01L436.03 108.01M437.77 108.01L436.03 107.01" fill="none" stroke="#2a2a2a" stroke-width="0.55"/><path d="M439.5 106.51L439.5 108.51M440.37 107.01L438.63 108.01M440.37 108.01L438.63 107.01" fill="none" stroke="#2a2a2a" stroke-width="0.55"/><line x1="444.2" y1="116.58" x2="444.2" y2="114.87" stroke="#333" stroke-width="0.5"/><line x1="443.4" y1="114.87" x2="445" y2="114.87" stroke="#333" stroke-width="0.5"/><path d="M442.9 112.47L442.9 114.47M443.77 112.97L442.03 113.97M443.77 113.97L442.03 112.97" fill="none" stroke="#2a2a2a" stroke-width="0.55"/><path d="M445.5 112.47L445.5 114.47M446.37 112.97L444.63 113.97M446.37 113.97L444.63 112.97" fill="none" stroke="#2a2a2a" stroke-width="0.55"/><text x="368.6" y="137.21" font-size="5.3" text-anchor="middle">MAC1</text><text x="392.2" y="137.21" font-size="5.3" text-anchor="middle">MAC2A</text><text x="415.6" y="137.21" font-size="5.3" text-anchor="middle">DEL</text><text x="439.4" y="137.21" font-size="5.3" text-anchor="middle">Karpas</text><text x="439.4" y="143.41" font-size="5.3" text-anchor="middle">-299</text><text x="404" y="21.12" font-size="5.9" text-anchor="middle" fill="#333">IL1RAP</text><text x="466" y="61.53" font-size="6.2" text-anchor="middle">sgRNA</text><line x1="449.3" y1="63.2" x2="485.4" y2="63.2" stroke="#333" stroke-width="0.6"/><rect x="448.3" y="66.7" width="3.8" height="3.8" fill="#4a5a6c"/><text x="456.2" y="70.76" font-size="6">CTRL</text><rect x="448.3" y="73.5" width="3.8" height="3.8" fill="#6b2470"/><text x="456.2" y="77.56" font-size="6">STAT3 #1</text><rect x="448.3" y="80.4" width="3.8" height="3.8" fill="#9c8cd0"/><text x="456.2" y="84.46" font-size="6">STAT3 #2</text><line x1="38.5" y1="163.87" x2="38.5" y2="269.25" stroke="#151515" stroke-width="1"/><line x1="36.55" y1="268.75" x2="38.75" y2="268.75" stroke="#1e1e1e" stroke-width="0.7"/><text x="33.95" y="270.62" font-size="5.2" text-anchor="end">0</text><line x1="36.55" y1="254.11" x2="38.75" y2="254.11" stroke="#1e1e1e" stroke-width="0.7"/><text x="33.95" y="255.98" font-size="5.2" text-anchor="end">20</text><line x1="36.55" y1="239.47" x2="38.75" y2="239.47" stroke="#1e1e1e" stroke-width="0.7"/><text x="33.95" y="241.34" font-size="5.2" text-anchor="end">40</text><line x1="36.55" y1="224.83" x2="38.75" y2="224.83" stroke="#1e1e1e" stroke-width="0.7"/><text x="33.95" y="226.7" font-size="5.2" text-anchor="end">60</text><line x1="36.55" y1="210.19" x2="38.75" y2="210.19" stroke="#1e1e1e" stroke-width="0.7"/><text x="33.95" y="212.06" font-size="5.2" text-anchor="end">80</text><line x1="36.55" y1="195.55" x2="38.75" y2="195.55" stroke="#1e1e1e" stroke-width="0.7"/><text x="33.95" y="197.42" font-size="5.2" text-anchor="end">100</text><line x1="36.55" y1="180.91" x2="38.75" y2="180.91" stroke="#1e1e1e" stroke-width="0.7"/><text x="33.95" y="182.78" font-size="5.2" text-anchor="end">120</text><line x1="36.55" y1="166.27" x2="38.75" y2="166.27" stroke="#1e1e1e" stroke-width="0.7"/><text x="33.95" y="168.14" font-size="5.2" text-anchor="end">140</text><line x1="38.35" y1="268.5" x2="128.2" y2="268.5" stroke="#151515" stroke-width="1"/><line x1="60.3" y1="268.75" x2="60.3" y2="270.75" stroke="#1e1e1e" stroke-width="0.7"/><line x1="81.9" y1="268.75" x2="81.9" y2="270.75" stroke="#1e1e1e" stroke-width="0.7"/><line x1="103.6" y1="268.75" x2="103.6" y2="270.75" stroke="#1e1e1e" stroke-width="0.7"/><line x1="125.3" y1="268.75" x2="125.3" y2="270.75" stroke="#1e1e1e" stroke-width="0.7"/><rect x="41.3" y="195.55" width="5.6" height="73.2" fill="#4b5567" stroke="#3a4352" stroke-width="0.3"/><rect x="46.9" y="227.03" width="5.6" height="41.72" fill="#1d4c8c" stroke="#173c70" stroke-width="0.3"/><rect x="52.5" y="221.17" width="5.6" height="47.58" fill="#3aa6e6" stroke="#2a8cc8" stroke-width="0.3"/><line x1="44.1" y1="195.55" x2="44.1" y2="189.69" stroke="#333" stroke-width="0.5"/><line x1="43.3" y1="189.69" x2="44.9" y2="189.69" stroke="#333" stroke-width="0.5"/><line x1="49.7" y1="227.03" x2="49.7" y2="225.56" stroke="#333" stroke-width="0.5"/><line x1="48.9" y1="225.56" x2="50.5" y2="225.56" stroke="#333" stroke-width="0.5"/><path d="M49.7 223.16L49.7 225.16M50.57 223.66L48.83 224.66M50.57 224.66L48.83 223.66" fill="none" stroke="#2a2a2a" stroke-width="0.55"/><line x1="55.3" y1="221.17" x2="55.3" y2="218.97" stroke="#333" stroke-width="0.5"/><line x1="54.5" y1="218.97" x2="56.1" y2="218.97" stroke="#333" stroke-width="0.5"/><path d="M55.3 216.57L55.3 218.57M56.17 217.07L54.43 218.07M56.17 218.07L54.43 217.07" fill="none" stroke="#2a2a2a" stroke-width="0.55"/><rect x="62.9" y="195.55" width="5.6" height="73.2" fill="#4b5567" stroke="#3a4352" stroke-width="0.3"/><rect x="68.5" y="229.22" width="5.6" height="39.53" fill="#1d4c8c" stroke="#173c70" stroke-width="0.3"/><rect x="74.1" y="224.83" width="5.6" height="43.92" fill="#3aa6e6" stroke="#2a8cc8" stroke-width="0.3"/><line x1="65.7" y1="195.55" x2="65.7" y2="191.16" stroke="#333" stroke-width="0.5"/><line x1="64.9" y1="191.16" x2="66.5" y2="191.16" stroke="#333" stroke-width="0.5"/><line x1="71.3" y1="229.22" x2="71.3" y2="228.49" stroke="#333" stroke-width="0.5"/><line x1="70.5" y1="228.49" x2="72.1" y2="228.49" stroke="#333" stroke-width="0.5"/><path d="M70 226.09L70 228.09M70.87 226.59L69.13 227.59M70.87 227.59L69.13 226.59" fill="none" stroke="#2a2a2a" stroke-width="0.55"/><path d="M72.6 226.09L72.6 228.09M73.47 226.59L71.73 227.59M73.47 227.59L71.73 226.59" fill="none" stroke="#2a2a2a" stroke-width="0.55"/><line x1="76.9" y1="224.83" x2="76.9" y2="223.37" stroke="#333" stroke-width="0.5"/><line x1="76.1" y1="223.37" x2="77.7" y2="223.37" stroke="#333" stroke-width="0.5"/><path d="M75.6 220.97L75.6 222.97M76.47 221.47L74.73 222.47M76.47 222.47L74.73 221.47" fill="none" stroke="#2a2a2a" stroke-width="0.55"/><path d="M78.2 220.97L78.2 222.97M79.07 221.47L77.33 222.47M79.07 222.47L77.33 221.47" fill="none" stroke="#2a2a2a" stroke-width="0.55"/><rect x="84.6" y="195.55" width="5.6" height="73.2" fill="#4b5567" stroke="#3a4352" stroke-width="0.3"/><rect x="90.2" y="183.84" width="5.6" height="84.91" fill="#1d4c8c" stroke="#173c70" stroke-width="0.3"/><rect x="95.8" y="195.55" width="5.6" height="73.2" fill="#3aa6e6" stroke="#2a8cc8" stroke-width="0.3"/><line x1="87.4" y1="195.55" x2="87.4" y2="194.82" stroke="#333" stroke-width="0.5"/><line x1="86.6" y1="194.82" x2="88.2" y2="194.82" stroke="#333" stroke-width="0.5"/><line x1="93" y1="183.84" x2="93" y2="183.11" stroke="#333" stroke-width="0.5"/><line x1="92.2" y1="183.11" x2="93.8" y2="183.11" stroke="#333" stroke-width="0.5"/><line x1="98.6" y1="195.55" x2="98.6" y2="194.82" stroke="#333" stroke-width="0.5"/><line x1="97.8" y1="194.82" x2="99.4" y2="194.82" stroke="#333" stroke-width="0.5"/><rect x="106.3" y="195.55" width="5.6" height="73.2" fill="#4b5567" stroke="#3a4352" stroke-width="0.3"/><rect x="111.9" y="197.75" width="5.6" height="71" fill="#1d4c8c" stroke="#173c70" stroke-width="0.3"/><rect x="117.5" y="192.62" width="5.6" height="76.13" fill="#3aa6e6" stroke="#2a8cc8" stroke-width="0.3"/><line x1="109.1" y1="195.55" x2="109.1" y2="193.35" stroke="#333" stroke-width="0.5"/><line x1="108.3" y1="193.35" x2="109.9" y2="193.35" stroke="#333" stroke-width="0.5"/><line x1="114.7" y1="197.75" x2="114.7" y2="197.01" stroke="#333" stroke-width="0.5"/><line x1="113.9" y1="197.01" x2="115.5" y2="197.01" stroke="#333" stroke-width="0.5"/><line x1="120.3" y1="192.62" x2="120.3" y2="190.43" stroke="#333" stroke-width="0.5"/><line x1="119.5" y1="190.43" x2="121.1" y2="190.43" stroke="#333" stroke-width="0.5"/><text x="47.6" y="279.51" font-size="5.3" text-anchor="middle">MAC1</text><text x="71.3" y="279.51" font-size="5.3" text-anchor="middle">MAC2A</text><text x="93.1" y="279.51" font-size="5.3" text-anchor="middle">DEL</text><text x="112.6" y="279.51" font-size="5.3" text-anchor="middle">Karpas</text><text x="112.6" y="285.71" font-size="5.3" text-anchor="middle">-299</text><text x="83.75" y="169.62" font-size="5.9" text-anchor="middle" fill="#333">IL1R1</text><text x="19" y="216.23" font-size="7.04" text-anchor="middle" fill="#3a3a3a" textLength="74" lengthAdjust="spacingAndGlyphs" transform="rotate(-90 19 213.7)">mRNA expression (% to Ctrl)</text><line x1="133.5" y1="163.32" x2="133.5" y2="269.4" stroke="#151515" stroke-width="1"/><line x1="131.4" y1="268.9" x2="133.6" y2="268.9" stroke="#1e1e1e" stroke-width="0.7"/><line x1="131.4" y1="254.16" x2="133.6" y2="254.16" stroke="#1e1e1e" stroke-width="0.7"/><line x1="131.4" y1="239.42" x2="133.6" y2="239.42" stroke="#1e1e1e" stroke-width="0.7"/><line x1="131.4" y1="224.68" x2="133.6" y2="224.68" stroke="#1e1e1e" stroke-width="0.7"/><line x1="131.4" y1="209.94" x2="133.6" y2="209.94" stroke="#1e1e1e" stroke-width="0.7"/><line x1="131.4" y1="195.2" x2="133.6" y2="195.2" stroke="#1e1e1e" stroke-width="0.7"/><line x1="131.4" y1="180.46" x2="133.6" y2="180.46" stroke="#1e1e1e" stroke-width="0.7"/><line x1="131.4" y1="165.72" x2="133.6" y2="165.72" stroke="#1e1e1e" stroke-width="0.7"/><line x1="133.2" y1="268.5" x2="221.8" y2="268.5" stroke="#151515" stroke-width="1"/><line x1="155" y1="268.9" x2="155" y2="270.9" stroke="#1e1e1e" stroke-width="0.7"/><line x1="176.4" y1="268.9" x2="176.4" y2="270.9" stroke="#1e1e1e" stroke-width="0.7"/><line x1="197.8" y1="268.9" x2="197.8" y2="270.9" stroke="#1e1e1e" stroke-width="0.7"/><line x1="219.3" y1="268.9" x2="219.3" y2="270.9" stroke="#1e1e1e" stroke-width="0.7"/><rect x="136.5" y="195.2" width="5.6" height="73.7" fill="#4b5567" stroke="#3a4352" stroke-width="0.3"/><rect x="142.1" y="251.21" width="5.6" height="17.69" fill="#1d4c8c" stroke="#173c70" stroke-width="0.3"/><rect x="147.7" y="239.42" width="5.6" height="29.48" fill="#3aa6e6" stroke="#2a8cc8" stroke-width="0.3"/><line x1="139.3" y1="195.2" x2="139.3" y2="194.76" stroke="#333" stroke-width="0.5"/><line x1="138.5" y1="194.76" x2="140.1" y2="194.76" stroke="#333" stroke-width="0.5"/><line x1="144.9" y1="251.21" x2="144.9" y2="249.74" stroke="#333" stroke-width="0.5"/><line x1="144.1" y1="249.74" x2="145.7" y2="249.74" stroke="#333" stroke-width="0.5"/><path d="M143.6 247.34L143.6 249.34M144.47 247.84L142.73 248.84M144.47 248.84L142.73 247.84" fill="none" stroke="#2a2a2a" stroke-width="0.55"/><path d="M146.2 247.34L146.2 249.34M147.07 247.84L145.33 248.84M147.07 248.84L145.33 247.84" fill="none" stroke="#2a2a2a" stroke-width="0.55"/><line x1="150.5" y1="239.42" x2="150.5" y2="237.21" stroke="#333" stroke-width="0.5"/><line x1="149.7" y1="237.21" x2="151.3" y2="237.21" stroke="#333" stroke-width="0.5"/><path d="M149.2 234.81L149.2 236.81M150.07 235.31L148.33 236.31M150.07 236.31L148.33 235.31" fill="none" stroke="#2a2a2a" stroke-width="0.55"/><path d="M151.8 234.81L151.8 236.81M152.67 235.31L150.93 236.31M152.67 236.31L150.93 235.31" fill="none" stroke="#2a2a2a" stroke-width="0.55"/><rect x="157.9" y="195.2" width="5.6" height="73.7" fill="#4b5567" stroke="#3a4352" stroke-width="0.3"/><rect x="163.5" y="256.37" width="5.6" height="12.53" fill="#1d4c8c" stroke="#173c70" stroke-width="0.3"/><rect x="169.1" y="251.21" width="5.6" height="17.69" fill="#3aa6e6" stroke="#2a8cc8" stroke-width="0.3"/><line x1="160.7" y1="195.2" x2="160.7" y2="192.25" stroke="#333" stroke-width="0.5"/><line x1="159.9" y1="192.25" x2="161.5" y2="192.25" stroke="#333" stroke-width="0.5"/><line x1="166.3" y1="256.37" x2="166.3" y2="254.16" stroke="#333" stroke-width="0.5"/><line x1="165.5" y1="254.16" x2="167.1" y2="254.16" stroke="#333" stroke-width="0.5"/><path d="M165 251.76L165 253.76M165.87 252.26L164.13 253.26M165.87 253.26L164.13 252.26" fill="none" stroke="#2a2a2a" stroke-width="0.55"/><path d="M167.6 251.76L167.6 253.76M168.47 252.26L166.73 253.26M168.47 253.26L166.73 252.26" fill="none" stroke="#2a2a2a" stroke-width="0.55"/><line x1="171.9" y1="251.21" x2="171.9" y2="249" stroke="#333" stroke-width="0.5"/><line x1="171.1" y1="249" x2="172.7" y2="249" stroke="#333" stroke-width="0.5"/><path d="M170.6 246.6L170.6 248.6M171.47 247.1L169.73 248.1M171.47 248.1L169.73 247.1" fill="none" stroke="#2a2a2a" stroke-width="0.55"/><path d="M173.2 246.6L173.2 248.6M174.07 247.1L172.33 248.1M174.07 248.1L172.33 247.1" fill="none" stroke="#2a2a2a" stroke-width="0.55"/><rect x="179.3" y="195.2" width="5.6" height="73.7" fill="#4b5567" stroke="#3a4352" stroke-width="0.3"/><rect x="184.9" y="184.88" width="5.6" height="84.02" fill="#1d4c8c" stroke="#173c70" stroke-width="0.3"/><rect x="190.5" y="184.14" width="5.6" height="84.75" fill="#3aa6e6" stroke="#2a8cc8" stroke-width="0.3"/><line x1="182.1" y1="195.2" x2="182.1" y2="192.25" stroke="#333" stroke-width="0.5"/><line x1="181.3" y1="192.25" x2="182.9" y2="192.25" stroke="#333" stroke-width="0.5"/><line x1="187.7" y1="184.88" x2="187.7" y2="182.67" stroke="#333" stroke-width="0.5"/><line x1="186.9" y1="182.67" x2="188.5" y2="182.67" stroke="#333" stroke-width="0.5"/><line x1="193.3" y1="184.14" x2="193.3" y2="182.67" stroke="#333" stroke-width="0.5"/><line x1="192.5" y1="182.67" x2="194.1" y2="182.67" stroke="#333" stroke-width="0.5"/><rect x="200.8" y="195.2" width="5.6" height="73.7" fill="#4b5567" stroke="#3a4352" stroke-width="0.3"/><rect x="206.4" y="190.78" width="5.6" height="78.12" fill="#1d4c8c" stroke="#173c70" stroke-width="0.3"/><rect x="212" y="186.36" width="5.6" height="82.54" fill="#3aa6e6" stroke="#2a8cc8" stroke-width="0.3"/><line x1="203.6" y1="195.2" x2="203.6" y2="187.09" stroke="#333" stroke-width="0.5"/><line x1="202.8" y1="187.09" x2="204.4" y2="187.09" stroke="#333" stroke-width="0.5"/><line x1="209.2" y1="190.78" x2="209.2" y2="188.57" stroke="#333" stroke-width="0.5"/><line x1="208.4" y1="188.57" x2="210" y2="188.57" stroke="#333" stroke-width="0.5"/><line x1="214.8" y1="186.36" x2="214.8" y2="184.14" stroke="#333" stroke-width="0.5"/><line x1="214" y1="184.14" x2="215.6" y2="184.14" stroke="#333" stroke-width="0.5"/><text x="145.4" y="280.01" font-size="5.3" text-anchor="middle">MAC1</text><text x="166.8" y="280.01" font-size="5.3" text-anchor="middle">MAC2A</text><text x="188.4" y="280.01" font-size="5.3" text-anchor="middle">DEL</text><text x="210" y="280.01" font-size="5.3" text-anchor="middle">Karpas</text><text x="210" y="286.21" font-size="5.3" text-anchor="middle">-299</text><text x="177.7" y="168.72" font-size="5.9" text-anchor="middle" fill="#333">IL1RAP</text><text x="239" y="211.63" font-size="6.2" text-anchor="middle">sgRNA</text><line x1="223.2" y1="213.5" x2="254.4" y2="213.5" stroke="#333" stroke-width="0.6"/><rect x="223.4" y="217.45" width="3.7" height="3.7" fill="#4b5567"/><text x="229" y="221.46" font-size="6">CTRL</text><rect x="223.4" y="223.95" width="3.7" height="3.7" fill="#1d4c8c"/><text x="229" y="227.96" font-size="6">JAK2 #1</text><rect x="223.4" y="230.15" width="3.7" height="3.7" fill="#3aa6e6"/><text x="229" y="234.16" font-size="6">JAK2 #2</text><line x1="285.5" y1="160.5" x2="285.5" y2="254.4" stroke="#151515" stroke-width="1"/><line x1="283" y1="253.9" x2="285.2" y2="253.9" stroke="#1e1e1e" stroke-width="0.7"/><text x="280.4" y="255.77" font-size="5.2" text-anchor="end">0</text><line x1="283" y1="240.9" x2="285.2" y2="240.9" stroke="#1e1e1e" stroke-width="0.7"/><text x="280.4" y="242.77" font-size="5.2" text-anchor="end">20</text><line x1="283" y1="227.9" x2="285.2" y2="227.9" stroke="#1e1e1e" stroke-width="0.7"/><text x="280.4" y="229.77" font-size="5.2" text-anchor="end">40</text><line x1="283" y1="214.9" x2="285.2" y2="214.9" stroke="#1e1e1e" stroke-width="0.7"/><text x="280.4" y="216.77" font-size="5.2" text-anchor="end">60</text><line x1="283" y1="201.9" x2="285.2" y2="201.9" stroke="#1e1e1e" stroke-width="0.7"/><text x="280.4" y="203.77" font-size="5.2" text-anchor="end">80</text><line x1="283" y1="188.9" x2="285.2" y2="188.9" stroke="#1e1e1e" stroke-width="0.7"/><text x="280.4" y="190.77" font-size="5.2" text-anchor="end">100</text><line x1="283" y1="175.9" x2="285.2" y2="175.9" stroke="#1e1e1e" stroke-width="0.7"/><text x="280.4" y="177.77" font-size="5.2" text-anchor="end">120</text><line x1="283" y1="162.9" x2="285.2" y2="162.9" stroke="#1e1e1e" stroke-width="0.7"/><text x="280.4" y="164.77" font-size="5.2" text-anchor="end">140</text><line x1="284.8" y1="253.5" x2="391.8" y2="253.5" stroke="#151515" stroke-width="1"/><line x1="312.5" y1="253.9" x2="312.5" y2="255.9" stroke="#1e1e1e" stroke-width="0.7"/><line x1="338.2" y1="253.9" x2="338.2" y2="255.9" stroke="#1e1e1e" stroke-width="0.7"/><line x1="363.9" y1="253.9" x2="363.9" y2="255.9" stroke="#1e1e1e" stroke-width="0.7"/><line x1="389.6" y1="253.9" x2="389.6" y2="255.9" stroke="#1e1e1e" stroke-width="0.7"/><rect x="289.5" y="188.9" width="6.5" height="65" fill="#465468" stroke="#36424f" stroke-width="0.3"/><rect x="296" y="227.9" width="6.5" height="26" fill="#34b034" stroke="#269026" stroke-width="0.3"/><rect x="302.5" y="235.05" width="6.5" height="18.85" fill="#bac590" stroke="#9aa872" stroke-width="0.3"/><line x1="292.75" y1="188.9" x2="292.75" y2="187.6" stroke="#333" stroke-width="0.5"/><line x1="291.95" y1="187.6" x2="293.55" y2="187.6" stroke="#333" stroke-width="0.5"/><line x1="299.25" y1="227.9" x2="299.25" y2="225.3" stroke="#333" stroke-width="0.5"/><line x1="298.45" y1="225.3" x2="300.05" y2="225.3" stroke="#333" stroke-width="0.5"/><path d="M297.95 222.9L297.95 224.9M298.82 223.4L297.08 224.4M298.82 224.4L297.08 223.4" fill="none" stroke="#2a2a2a" stroke-width="0.55"/><path d="M300.55 222.9L300.55 224.9M301.42 223.4L299.68 224.4M301.42 224.4L299.68 223.4" fill="none" stroke="#2a2a2a" stroke-width="0.55"/><line x1="305.75" y1="235.05" x2="305.75" y2="233.75" stroke="#333" stroke-width="0.5"/><line x1="304.95" y1="233.75" x2="306.55" y2="233.75" stroke="#333" stroke-width="0.5"/><path d="M304.45 231.35L304.45 233.35M305.32 231.85L303.58 232.85M305.32 232.85L303.58 231.85" fill="none" stroke="#2a2a2a" stroke-width="0.55"/><path d="M307.05 231.35L307.05 233.35M307.92 231.85L306.18 232.85M307.92 232.85L306.18 231.85" fill="none" stroke="#2a2a2a" stroke-width="0.55"/><rect x="315.2" y="188.9" width="6.5" height="65" fill="#465468" stroke="#36424f" stroke-width="0.3"/><rect x="321.7" y="218.8" width="6.5" height="35.1" fill="#34b034" stroke="#269026" stroke-width="0.3"/><rect x="328.2" y="238.3" width="6.5" height="15.6" fill="#bac590" stroke="#9aa872" stroke-width="0.3"/><line x1="318.45" y1="188.9" x2="318.45" y2="187.93" stroke="#333" stroke-width="0.5"/><line x1="317.65" y1="187.93" x2="319.25" y2="187.93" stroke="#333" stroke-width="0.5"/><line x1="324.95" y1="218.8" x2="324.95" y2="216.85" stroke="#333" stroke-width="0.5"/><line x1="324.15" y1="216.85" x2="325.75" y2="216.85" stroke="#333" stroke-width="0.5"/><path d="M323.65 214.45L323.65 216.45M324.52 214.95L322.78 215.95M324.52 215.95L322.78 214.95" fill="none" stroke="#2a2a2a" stroke-width="0.55"/><path d="M326.25 214.45L326.25 216.45M327.12 214.95L325.38 215.95M327.12 215.95L325.38 214.95" fill="none" stroke="#2a2a2a" stroke-width="0.55"/><line x1="331.45" y1="238.3" x2="331.45" y2="236.35" stroke="#333" stroke-width="0.5"/><line x1="330.65" y1="236.35" x2="332.25" y2="236.35" stroke="#333" stroke-width="0.5"/><path d="M330.15 233.95L330.15 235.95M331.02 234.45L329.28 235.45M331.02 235.45L329.28 234.45" fill="none" stroke="#2a2a2a" stroke-width="0.55"/><path d="M332.75 233.95L332.75 235.95M333.62 234.45L331.88 235.45M333.62 235.45L331.88 234.45" fill="none" stroke="#2a2a2a" stroke-width="0.55"/><rect x="340.9" y="188.9" width="6.5" height="65" fill="#465468" stroke="#36424f" stroke-width="0.3"/><rect x="347.4" y="186.3" width="6.5" height="67.6" fill="#34b034" stroke="#269026" stroke-width="0.3"/><rect x="353.9" y="192.15" width="6.5" height="61.75" fill="#bac590" stroke="#9aa872" stroke-width="0.3"/><line x1="344.15" y1="188.9" x2="344.15" y2="187.28" stroke="#333" stroke-width="0.5"/><line x1="343.35" y1="187.28" x2="344.95" y2="187.28" stroke="#333" stroke-width="0.5"/><line x1="350.65" y1="186.3" x2="350.65" y2="185.65" stroke="#333" stroke-width="0.5"/><line x1="349.85" y1="185.65" x2="351.45" y2="185.65" stroke="#333" stroke-width="0.5"/><line x1="357.15" y1="192.15" x2="357.15" y2="191.5" stroke="#333" stroke-width="0.5"/><line x1="356.35" y1="191.5" x2="357.95" y2="191.5" stroke="#333" stroke-width="0.5"/><rect x="366.6" y="188.9" width="6.5" height="65" fill="#465468" stroke="#36424f" stroke-width="0.3"/><rect x="373.1" y="182.4" width="6.5" height="71.5" fill="#34b034" stroke="#269026" stroke-width="0.3"/><rect x="379.6" y="176.55" width="6.5" height="77.35" fill="#bac590" stroke="#9aa872" stroke-width="0.3"/><line x1="369.85" y1="188.9" x2="369.85" y2="186.95" stroke="#333" stroke-width="0.5"/><line x1="369.05" y1="186.95" x2="370.65" y2="186.95" stroke="#333" stroke-width="0.5"/><line x1="376.35" y1="182.4" x2="376.35" y2="180.45" stroke="#333" stroke-width="0.5"/><line x1="375.55" y1="180.45" x2="377.15" y2="180.45" stroke="#333" stroke-width="0.5"/><line x1="382.85" y1="176.55" x2="382.85" y2="174.6" stroke="#333" stroke-width="0.5"/><line x1="382.05" y1="174.6" x2="383.65" y2="174.6" stroke="#333" stroke-width="0.5"/><text x="297.5" y="264.61" font-size="5.3" text-anchor="middle">MAC1</text><text x="322.9" y="264.61" font-size="5.3" text-anchor="middle">MAC2A</text><text x="348.8" y="264.61" font-size="5.3" text-anchor="middle">DEL</text><text x="376.3" y="264.61" font-size="5.3" text-anchor="middle">Karpas299</text><text x="339.3" y="165.12" font-size="5.9" text-anchor="middle" fill="#333">IL1R1</text><text x="267" y="209.23" font-size="7.04" text-anchor="middle" fill="#3a3a3a" textLength="75" lengthAdjust="spacingAndGlyphs" transform="rotate(-90 267 206.7)">mRNA expression (% to Ctrl)</text><line x1="407.5" y1="160.9" x2="407.5" y2="254.7" stroke="#151515" stroke-width="1"/><line x1="404.8" y1="254.2" x2="407" y2="254.2" stroke="#1e1e1e" stroke-width="0.7"/><text x="402.2" y="256.07" font-size="5.2" text-anchor="end">0</text><line x1="404.8" y1="239.05" x2="407" y2="239.05" stroke="#1e1e1e" stroke-width="0.7"/><text x="402.2" y="240.92" font-size="5.2" text-anchor="end">20</text><line x1="404.8" y1="223.9" x2="407" y2="223.9" stroke="#1e1e1e" stroke-width="0.7"/><text x="402.2" y="225.77" font-size="5.2" text-anchor="end">40</text><line x1="404.8" y1="208.75" x2="407" y2="208.75" stroke="#1e1e1e" stroke-width="0.7"/><text x="402.2" y="210.62" font-size="5.2" text-anchor="end">60</text><line x1="404.8" y1="193.6" x2="407" y2="193.6" stroke="#1e1e1e" stroke-width="0.7"/><text x="402.2" y="195.47" font-size="5.2" text-anchor="end">80</text><line x1="404.8" y1="178.45" x2="407" y2="178.45" stroke="#1e1e1e" stroke-width="0.7"/><text x="402.2" y="180.32" font-size="5.2" text-anchor="end">100</text><line x1="404.8" y1="163.3" x2="407" y2="163.3" stroke="#1e1e1e" stroke-width="0.7"/><text x="402.2" y="165.17" font-size="5.2" text-anchor="end">120</text><line x1="406.6" y1="254.5" x2="503.4" y2="254.5" stroke="#151515" stroke-width="1"/><line x1="430.6" y1="254.2" x2="430.6" y2="256.2" stroke="#1e1e1e" stroke-width="0.7"/><line x1="454" y1="254.2" x2="454" y2="256.2" stroke="#1e1e1e" stroke-width="0.7"/><line x1="477.5" y1="254.2" x2="477.5" y2="256.2" stroke="#1e1e1e" stroke-width="0.7"/><line x1="501" y1="254.2" x2="501" y2="256.2" stroke="#1e1e1e" stroke-width="0.7"/><rect x="410.2" y="178.45" width="6" height="75.75" fill="#465468" stroke="#36424f" stroke-width="0.3"/><rect x="416.2" y="229.96" width="6" height="24.24" fill="#34b034" stroke="#269026" stroke-width="0.3"/><rect x="422.2" y="246.62" width="6" height="7.57" fill="#bac590" stroke="#9aa872" stroke-width="0.3"/><line x1="413.2" y1="178.45" x2="413.2" y2="174.66" stroke="#333" stroke-width="0.5"/><line x1="412.4" y1="174.66" x2="414" y2="174.66" stroke="#333" stroke-width="0.5"/><line x1="419.2" y1="229.96" x2="419.2" y2="229.2" stroke="#333" stroke-width="0.5"/><line x1="418.4" y1="229.2" x2="420" y2="229.2" stroke="#333" stroke-width="0.5"/><path d="M417.9 226.8L417.9 228.8M418.77 227.3L417.03 228.3M418.77 228.3L417.03 227.3" fill="none" stroke="#2a2a2a" stroke-width="0.55"/><path d="M420.5 226.8L420.5 228.8M421.37 227.3L419.63 228.3M421.37 228.3L419.63 227.3" fill="none" stroke="#2a2a2a" stroke-width="0.55"/><line x1="425.2" y1="246.62" x2="425.2" y2="245.11" stroke="#333" stroke-width="0.5"/><line x1="424.4" y1="245.11" x2="426" y2="245.11" stroke="#333" stroke-width="0.5"/><path d="M423.9 242.71L423.9 244.71M424.77 243.21L423.03 244.21M424.77 244.21L423.03 243.21" fill="none" stroke="#2a2a2a" stroke-width="0.55"/><path d="M426.5 242.71L426.5 244.71M427.37 243.21L425.63 244.21M427.37 244.21L425.63 243.21" fill="none" stroke="#2a2a2a" stroke-width="0.55"/><rect x="433.6" y="178.45" width="6" height="75.75" fill="#465468" stroke="#36424f" stroke-width="0.3"/><rect x="439.6" y="226.93" width="6" height="27.27" fill="#34b034" stroke="#269026" stroke-width="0.3"/><rect x="445.6" y="246.62" width="6" height="7.57" fill="#bac590" stroke="#9aa872" stroke-width="0.3"/><line x1="436.6" y1="178.45" x2="436.6" y2="173.15" stroke="#333" stroke-width="0.5"/><line x1="435.8" y1="173.15" x2="437.4" y2="173.15" stroke="#333" stroke-width="0.5"/><line x1="442.6" y1="226.93" x2="442.6" y2="223.9" stroke="#333" stroke-width="0.5"/><line x1="441.8" y1="223.9" x2="443.4" y2="223.9" stroke="#333" stroke-width="0.5"/><path d="M441.3 221.5L441.3 223.5M442.17 222L440.43 223M442.17 223L440.43 222" fill="none" stroke="#2a2a2a" stroke-width="0.55"/><path d="M443.9 221.5L443.9 223.5M444.77 222L443.03 223M444.77 223L443.03 222" fill="none" stroke="#2a2a2a" stroke-width="0.55"/><line x1="448.6" y1="246.62" x2="448.6" y2="245.11" stroke="#333" stroke-width="0.5"/><line x1="447.8" y1="245.11" x2="449.4" y2="245.11" stroke="#333" stroke-width="0.5"/><path d="M447.3 242.71L447.3 244.71M448.17 243.21L446.43 244.21M448.17 244.21L446.43 243.21" fill="none" stroke="#2a2a2a" stroke-width="0.55"/><path d="M449.9 242.71L449.9 244.71M450.77 243.21L449.03 244.21M450.77 244.21L449.03 243.21" fill="none" stroke="#2a2a2a" stroke-width="0.55"/><rect x="457.2" y="178.45" width="6" height="75.75" fill="#465468" stroke="#36424f" stroke-width="0.3"/><rect x="463.2" y="184.51" width="6" height="69.69" fill="#34b034" stroke="#269026" stroke-width="0.3"/><rect x="469.2" y="192.08" width="6" height="62.11" fill="#bac590" stroke="#9aa872" stroke-width="0.3"/><line x1="460.2" y1="178.45" x2="460.2" y2="176.18" stroke="#333" stroke-width="0.5"/><line x1="459.4" y1="176.18" x2="461" y2="176.18" stroke="#333" stroke-width="0.5"/><line x1="466.2" y1="184.51" x2="466.2" y2="180.72" stroke="#333" stroke-width="0.5"/><line x1="465.4" y1="180.72" x2="467" y2="180.72" stroke="#333" stroke-width="0.5"/><line x1="472.2" y1="192.08" x2="472.2" y2="189.06" stroke="#333" stroke-width="0.5"/><line x1="471.4" y1="189.06" x2="473" y2="189.06" stroke="#333" stroke-width="0.5"/><path d="M472.2 186.66L472.2 188.66M473.07 187.16L471.33 188.16M473.07 188.16L471.33 187.16" fill="none" stroke="#2a2a2a" stroke-width="0.55"/><rect x="480.5" y="178.45" width="6" height="75.75" fill="#465468" stroke="#36424f" stroke-width="0.3"/><rect x="486.5" y="184.51" width="6" height="69.69" fill="#34b034" stroke="#269026" stroke-width="0.3"/><rect x="492.5" y="176.94" width="6" height="77.27" fill="#bac590" stroke="#9aa872" stroke-width="0.3"/><line x1="483.5" y1="178.45" x2="483.5" y2="175.42" stroke="#333" stroke-width="0.5"/><line x1="482.7" y1="175.42" x2="484.3" y2="175.42" stroke="#333" stroke-width="0.5"/><line x1="489.5" y1="184.51" x2="489.5" y2="181.48" stroke="#333" stroke-width="0.5"/><line x1="488.7" y1="181.48" x2="490.3" y2="181.48" stroke="#333" stroke-width="0.5"/><line x1="495.5" y1="176.94" x2="495.5" y2="175.42" stroke="#333" stroke-width="0.5"/><line x1="494.7" y1="175.42" x2="496.3" y2="175.42" stroke="#333" stroke-width="0.5"/><text x="419" y="264.81" font-size="5.3" text-anchor="middle">MAC1</text><text x="442.2" y="264.81" font-size="5.3" text-anchor="middle">MAC2A</text><text x="465.7" y="264.81" font-size="5.3" text-anchor="middle">DEL</text><text x="487.9" y="264.81" font-size="5.3" text-anchor="middle">Karpas299</text><text x="455.5" y="165.52" font-size="5.9" text-anchor="middle" fill="#333">IL1RAP</text><rect x="363.8" y="273.3" width="5.8" height="5.8" fill="#465468"/><text x="373.5" y="278.18" font-size="5.5">&#8211;</text><rect x="384" y="273.3" width="6.6" height="5.6" fill="#34b034"/><text x="393.3" y="278.22" font-size="5.6">150</text><rect x="409.2" y="273.3" width="7" height="5.6" fill="#bac590"/><text x="419" y="278.22" font-size="5.6">300</text><line x1="360.4" y1="282.8" x2="429.3" y2="282.8" stroke="#333" stroke-width="0.6"/><text x="395.1" y="291.09" font-size="7.48" text-anchor="middle" fill="#3a3a3a" textLength="83" lengthAdjust="spacingAndGlyphs">Ruxolitinib (JAK inhibitor) (nM)</text><line x1="38.5" y1="314.7" x2="38.5" y2="414.8" stroke="#151515" stroke-width="1"/><line x1="36.2" y1="414.3" x2="38.8" y2="414.3" stroke="#1e1e1e" stroke-width="0.7"/><text x="33.6" y="416.21" font-size="5.3" text-anchor="end">0</text><line x1="36.2" y1="398.1" x2="38.8" y2="398.1" stroke="#1e1e1e" stroke-width="0.7"/><text x="33.6" y="400.01" font-size="5.3" text-anchor="end">20</text><line x1="36.2" y1="381.9" x2="38.8" y2="381.9" stroke="#1e1e1e" stroke-width="0.7"/><text x="33.6" y="383.81" font-size="5.3" text-anchor="end">40</text><line x1="36.2" y1="365.7" x2="38.8" y2="365.7" stroke="#1e1e1e" stroke-width="0.7"/><text x="33.6" y="367.61" font-size="5.3" text-anchor="end">60</text><line x1="36.2" y1="349.5" x2="38.8" y2="349.5" stroke="#1e1e1e" stroke-width="0.7"/><text x="33.6" y="351.41" font-size="5.3" text-anchor="end">80</text><line x1="36.2" y1="333.3" x2="38.8" y2="333.3" stroke="#1e1e1e" stroke-width="0.7"/><text x="33.6" y="335.21" font-size="5.3" text-anchor="end">100</text><line x1="36.2" y1="317.1" x2="38.8" y2="317.1" stroke="#1e1e1e" stroke-width="0.7"/><text x="33.6" y="319.01" font-size="5.3" text-anchor="end">120</text><line x1="38.4" y1="414.5" x2="101.5" y2="414.5" stroke="#151515" stroke-width="1"/><line x1="58.6" y1="414.3" x2="58.6" y2="416.7" stroke="#1e1e1e" stroke-width="0.7"/><line x1="78.8" y1="414.3" x2="78.8" y2="416.7" stroke="#1e1e1e" stroke-width="0.7"/><line x1="98.6" y1="414.3" x2="98.6" y2="416.7" stroke="#1e1e1e" stroke-width="0.7"/><rect x="40.6" y="333.3" width="4" height="81" fill="#6e3b12" stroke="#4e2a0c" stroke-width="0.3"/><rect x="44.6" y="344.64" width="4" height="69.66" fill="#c97a2a" stroke="#a8601c" stroke-width="0.3"/><rect x="48.6" y="365.7" width="4" height="48.6" fill="#c8112f" stroke="#a00c24" stroke-width="0.3"/><rect x="52.6" y="381.9" width="4" height="32.4" fill="#5b1f5c" stroke="#401444" stroke-width="0.3"/><line x1="42.6" y1="333.3" x2="42.6" y2="332.49" stroke="#333" stroke-width="0.5"/><line x1="41.9" y1="332.49" x2="43.3" y2="332.49" stroke="#333" stroke-width="0.5"/><line x1="46.6" y1="344.64" x2="46.6" y2="343.83" stroke="#333" stroke-width="0.5"/><line x1="45.9" y1="343.83" x2="47.3" y2="343.83" stroke="#333" stroke-width="0.5"/><line x1="50.6" y1="365.7" x2="50.6" y2="364.89" stroke="#333" stroke-width="0.5"/><line x1="49.9" y1="364.89" x2="51.3" y2="364.89" stroke="#333" stroke-width="0.5"/><line x1="54.6" y1="381.9" x2="54.6" y2="381.09" stroke="#333" stroke-width="0.5"/><line x1="53.9" y1="381.09" x2="55.3" y2="381.09" stroke="#333" stroke-width="0.5"/><rect x="60.7" y="341.4" width="4" height="72.9" fill="#6e3b12" stroke="#4e2a0c" stroke-width="0.3"/><rect x="64.7" y="359.22" width="4" height="55.08" fill="#c97a2a" stroke="#a8601c" stroke-width="0.3"/><rect x="68.7" y="373.8" width="4" height="40.5" fill="#c8112f" stroke="#a00c24" stroke-width="0.3"/><rect x="72.7" y="391.62" width="4" height="22.68" fill="#5b1f5c" stroke="#401444" stroke-width="0.3"/><line x1="62.7" y1="341.4" x2="62.7" y2="339.78" stroke="#333" stroke-width="0.5"/><line x1="62" y1="339.78" x2="63.4" y2="339.78" stroke="#333" stroke-width="0.5"/><line x1="66.7" y1="359.22" x2="66.7" y2="358.41" stroke="#333" stroke-width="0.5"/><line x1="66" y1="358.41" x2="67.4" y2="358.41" stroke="#333" stroke-width="0.5"/><line x1="70.7" y1="373.8" x2="70.7" y2="372.99" stroke="#333" stroke-width="0.5"/><line x1="70" y1="372.99" x2="71.4" y2="372.99" stroke="#333" stroke-width="0.5"/><line x1="74.7" y1="391.62" x2="74.7" y2="390.81" stroke="#333" stroke-width="0.5"/><line x1="74" y1="390.81" x2="75.4" y2="390.81" stroke="#333" stroke-width="0.5"/><rect x="80.8" y="356.79" width="4" height="57.51" fill="#6e3b12" stroke="#4e2a0c" stroke-width="0.3"/><rect x="84.8" y="377.04" width="4" height="37.26" fill="#c97a2a" stroke="#a8601c" stroke-width="0.3"/><rect x="88.8" y="388.38" width="4" height="25.92" fill="#c8112f" stroke="#a00c24" stroke-width="0.3"/><rect x="92.8" y="398.1" width="4" height="16.2" fill="#5b1f5c" stroke="#401444" stroke-width="0.3"/><line x1="82.8" y1="356.79" x2="82.8" y2="355.98" stroke="#333" stroke-width="0.5"/><line x1="82.1" y1="355.98" x2="83.5" y2="355.98" stroke="#333" stroke-width="0.5"/><line x1="86.8" y1="377.04" x2="86.8" y2="376.23" stroke="#333" stroke-width="0.5"/><line x1="86.1" y1="376.23" x2="87.5" y2="376.23" stroke="#333" stroke-width="0.5"/><line x1="90.8" y1="388.38" x2="90.8" y2="387.57" stroke="#333" stroke-width="0.5"/><line x1="90.1" y1="387.57" x2="91.5" y2="387.57" stroke="#333" stroke-width="0.5"/><line x1="94.8" y1="398.1" x2="94.8" y2="397.29" stroke="#333" stroke-width="0.5"/><line x1="94.1" y1="397.29" x2="95.5" y2="397.29" stroke="#333" stroke-width="0.5"/><text x="48.6" y="425.52" font-size="5.6" text-anchor="middle">0</text><text x="68.6" y="425.52" font-size="5.6" text-anchor="middle">25</text><text x="88.8" y="425.52" font-size="5.6" text-anchor="middle">50</text><text x="70.2" y="434.29" font-size="7.48" text-anchor="middle" fill="#3a3a3a" textLength="44" lengthAdjust="spacingAndGlyphs">Ruxolitinib (nM)</text><text x="70.2" y="321.05" font-size="6.8" text-anchor="middle" fill="#3a3a3a">MAC1</text><text x="18.8" y="366.31" font-size="7.26" text-anchor="middle" fill="#3a3a3a" textLength="69" lengthAdjust="spacingAndGlyphs" transform="rotate(-90 18.8 363.7)">Viable cells (% untreated)</text><line x1="130.5" y1="314.44" x2="130.5" y2="415.5" stroke="#151515" stroke-width="1"/><line x1="127.4" y1="415" x2="130" y2="415" stroke="#1e1e1e" stroke-width="0.7"/><text x="124.8" y="416.91" font-size="5.3" text-anchor="end">0</text><line x1="127.4" y1="398.64" x2="130" y2="398.64" stroke="#1e1e1e" stroke-width="0.7"/><text x="124.8" y="400.55" font-size="5.3" text-anchor="end">20</text><line x1="127.4" y1="382.28" x2="130" y2="382.28" stroke="#1e1e1e" stroke-width="0.7"/><text x="124.8" y="384.19" font-size="5.3" text-anchor="end">40</text><line x1="127.4" y1="365.92" x2="130" y2="365.92" stroke="#1e1e1e" stroke-width="0.7"/><text x="124.8" y="367.83" font-size="5.3" text-anchor="end">60</text><line x1="127.4" y1="349.56" x2="130" y2="349.56" stroke="#1e1e1e" stroke-width="0.7"/><text x="124.8" y="351.47" font-size="5.3" text-anchor="end">80</text><line x1="127.4" y1="333.2" x2="130" y2="333.2" stroke="#1e1e1e" stroke-width="0.7"/><text x="124.8" y="335.11" font-size="5.3" text-anchor="end">100</text><line x1="127.4" y1="316.84" x2="130" y2="316.84" stroke="#1e1e1e" stroke-width="0.7"/><text x="124.8" y="318.75" font-size="5.3" text-anchor="end">120</text><line x1="129.6" y1="415.5" x2="189.2" y2="415.5" stroke="#151515" stroke-width="1"/><line x1="148.5" y1="415" x2="148.5" y2="417.4" stroke="#1e1e1e" stroke-width="0.7"/><line x1="167.6" y1="415" x2="167.6" y2="417.4" stroke="#1e1e1e" stroke-width="0.7"/><line x1="186.6" y1="415" x2="186.6" y2="417.4" stroke="#1e1e1e" stroke-width="0.7"/><rect x="131.1" y="333.2" width="4" height="81.8" fill="#6e3b12" stroke="#4e2a0c" stroke-width="0.3"/><rect x="135.1" y="348.74" width="4" height="66.26" fill="#c97a2a" stroke="#a8601c" stroke-width="0.3"/><rect x="139.1" y="369.19" width="4" height="45.81" fill="#c8112f" stroke="#a00c24" stroke-width="0.3"/><rect x="143.1" y="386.37" width="4" height="28.63" fill="#5b1f5c" stroke="#401444" stroke-width="0.3"/><line x1="133.1" y1="333.2" x2="133.1" y2="332.38" stroke="#333" stroke-width="0.5"/><line x1="132.4" y1="332.38" x2="133.8" y2="332.38" stroke="#333" stroke-width="0.5"/><line x1="137.1" y1="348.74" x2="137.1" y2="347.92" stroke="#333" stroke-width="0.5"/><line x1="136.4" y1="347.92" x2="137.8" y2="347.92" stroke="#333" stroke-width="0.5"/><line x1="141.1" y1="369.19" x2="141.1" y2="368.37" stroke="#333" stroke-width="0.5"/><line x1="140.4" y1="368.37" x2="141.8" y2="368.37" stroke="#333" stroke-width="0.5"/><line x1="145.1" y1="386.37" x2="145.1" y2="385.55" stroke="#333" stroke-width="0.5"/><line x1="144.4" y1="385.55" x2="145.8" y2="385.55" stroke="#333" stroke-width="0.5"/><rect x="150.5" y="364.28" width="4" height="50.72" fill="#6e3b12" stroke="#4e2a0c" stroke-width="0.3"/><rect x="154.5" y="379.01" width="4" height="35.99" fill="#c97a2a" stroke="#a8601c" stroke-width="0.3"/><rect x="158.5" y="391.28" width="4" height="23.72" fill="#c8112f" stroke="#a00c24" stroke-width="0.3"/><rect x="162.5" y="401.09" width="4" height="13.91" fill="#5b1f5c" stroke="#401444" stroke-width="0.3"/><line x1="152.5" y1="364.28" x2="152.5" y2="361.83" stroke="#333" stroke-width="0.5"/><line x1="151.8" y1="361.83" x2="153.2" y2="361.83" stroke="#333" stroke-width="0.5"/><line x1="156.5" y1="379.01" x2="156.5" y2="377.37" stroke="#333" stroke-width="0.5"/><line x1="155.8" y1="377.37" x2="157.2" y2="377.37" stroke="#333" stroke-width="0.5"/><line x1="160.5" y1="391.28" x2="160.5" y2="389.64" stroke="#333" stroke-width="0.5"/><line x1="159.8" y1="389.64" x2="161.2" y2="389.64" stroke="#333" stroke-width="0.5"/><line x1="164.5" y1="401.09" x2="164.5" y2="400.28" stroke="#333" stroke-width="0.5"/><line x1="163.8" y1="400.28" x2="165.2" y2="400.28" stroke="#333" stroke-width="0.5"/><rect x="169.6" y="393.73" width="4" height="21.27" fill="#6e3b12" stroke="#4e2a0c" stroke-width="0.3"/><rect x="173.6" y="399.46" width="4" height="15.54" fill="#c97a2a" stroke="#a8601c" stroke-width="0.3"/><rect x="177.6" y="405.18" width="4" height="9.82" fill="#c8112f" stroke="#a00c24" stroke-width="0.3"/><rect x="181.6" y="410.09" width="4" height="4.91" fill="#5b1f5c" stroke="#401444" stroke-width="0.3"/><line x1="171.6" y1="393.73" x2="171.6" y2="392.91" stroke="#333" stroke-width="0.5"/><line x1="170.9" y1="392.91" x2="172.3" y2="392.91" stroke="#333" stroke-width="0.5"/><line x1="175.6" y1="399.46" x2="175.6" y2="398.64" stroke="#333" stroke-width="0.5"/><line x1="174.9" y1="398.64" x2="176.3" y2="398.64" stroke="#333" stroke-width="0.5"/><line x1="179.6" y1="405.18" x2="179.6" y2="404.37" stroke="#333" stroke-width="0.5"/><line x1="178.9" y1="404.37" x2="180.3" y2="404.37" stroke="#333" stroke-width="0.5"/><line x1="183.6" y1="410.09" x2="183.6" y2="409.27" stroke="#333" stroke-width="0.5"/><line x1="182.9" y1="409.27" x2="184.3" y2="409.27" stroke="#333" stroke-width="0.5"/><text x="138.3" y="425.52" font-size="5.6" text-anchor="middle">0</text><text x="158.3" y="425.52" font-size="5.6" text-anchor="middle">50</text><text x="178.3" y="425.52" font-size="5.6" text-anchor="middle">100</text><text x="159.5" y="434.29" font-size="7.48" text-anchor="middle" fill="#3a3a3a" textLength="44" lengthAdjust="spacingAndGlyphs">Ruxolitinib (nM)</text><text x="159.5" y="321.05" font-size="6.8" text-anchor="middle" fill="#3a3a3a">MAC2A</text><text x="109.6" y="366.31" font-size="7.26" text-anchor="middle" fill="#3a3a3a" textLength="69" lengthAdjust="spacingAndGlyphs" transform="rotate(-90 109.6 363.7)">Viable cells (% untreated)</text><text x="197" y="338.74" font-size="6.49" text-anchor="middle" textLength="26.5" lengthAdjust="spacingAndGlyphs">AS2444697</text><text x="197.4" y="344.72" font-size="5.9" text-anchor="middle">(&#956;M)</text><line x1="185.6" y1="347.1" x2="207.7" y2="347.1" stroke="#333" stroke-width="0.6"/><rect x="186.2" y="349.9" width="5.2" height="5.2" fill="#6e3b12"/><text x="194.3" y="354.52" font-size="5.6">0</text><rect x="186.2" y="357.5" width="5.2" height="5.2" fill="#c97a2a"/><text x="194.3" y="362.12" font-size="5.6">0.25</text><rect x="186.2" y="365.4" width="5.2" height="5.2" fill="#c8112f"/><text x="194.3" y="370.02" font-size="5.6">0.5</text><rect x="186.2" y="373" width="5.2" height="5.2" fill="#5b1f5c"/><text x="194.3" y="377.62" font-size="5.6">1</text><rect x="259.5" y="321.3" width="69.8" height="2.7" fill="url(#h1r0)"/><rect x="259.5" y="323.3" width="69.8" height="2.7" fill="url(#h1r1)"/><rect x="259.5" y="325.3" width="69.8" height="2.7" fill="url(#h1r2)"/><rect x="259.5" y="327.3" width="69.8" height="2.7" fill="url(#h1r3)"/><rect x="259.5" y="329.3" width="69.8" height="2.7" fill="url(#h1r4)"/><rect x="259.5" y="331.3" width="69.8" height="2.7" fill="url(#h1r5)"/><rect x="259.5" y="333.3" width="69.8" height="2.7" fill="url(#h1r6)"/><rect x="259.5" y="335.3" width="69.8" height="2.7" fill="url(#h1r7)"/><rect x="259.5" y="337.3" width="69.8" height="2.7" fill="url(#h1r8)"/><rect x="259.5" y="339.3" width="69.8" height="2.7" fill="url(#h1r9)"/><rect x="259.5" y="341.3" width="69.8" height="2.7" fill="url(#h1r10)"/><rect x="259.5" y="343.3" width="69.8" height="2.7" fill="url(#h1r11)"/><rect x="259.5" y="345.3" width="69.8" height="2.7" fill="url(#h1r12)"/><rect x="259.5" y="347.3" width="69.8" height="2.7" fill="url(#h1r13)"/><rect x="259.5" y="349.3" width="69.8" height="2.7" fill="url(#h1r14)"/><rect x="259.5" y="351.3" width="69.8" height="2.7" fill="url(#h1r15)"/><rect x="259.5" y="353.3" width="69.8" height="2.7" fill="url(#h1r16)"/><rect x="259.5" y="355.3" width="69.8" height="2.7" fill="url(#h1r17)"/><rect x="259.5" y="357.3" width="69.8" height="2.7" fill="url(#h1r18)"/><rect x="259.5" y="359.3" width="69.8" height="2.7" fill="url(#h1r19)"/><rect x="259.5" y="361.3" width="69.8" height="2.7" fill="url(#h1r20)"/><rect x="259.5" y="363.3" width="69.8" height="2.7" fill="url(#h1r21)"/><rect x="259.5" y="365.3" width="69.8" height="2.7" fill="url(#h1r22)"/><rect x="259.5" y="367.3" width="69.8" height="2.7" fill="url(#h1r23)"/><rect x="259.5" y="369.3" width="69.8" height="2.7" fill="url(#h1r24)"/><rect x="259.5" y="371.3" width="69.8" height="2.7" fill="url(#h1r25)"/><rect x="259.5" y="373.3" width="69.8" height="2.7" fill="url(#h1r26)"/><rect x="259.5" y="375.3" width="69.8" height="2.7" fill="url(#h1r27)"/><rect x="259.5" y="377.3" width="69.8" height="2.7" fill="url(#h1r28)"/><rect x="259.5" y="379.3" width="69.8" height="2.7" fill="url(#h1r29)"/><rect x="259.5" y="381.3" width="69.8" height="2.7" fill="url(#h1r30)"/><rect x="259.5" y="383.3" width="69.8" height="2.7" fill="url(#h1r31)"/><rect x="259.5" y="385.3" width="69.8" height="2.7" fill="url(#h1r32)"/><rect x="259.5" y="387.3" width="69.8" height="2.7" fill="url(#h1r33)"/><rect x="259.5" y="389.3" width="69.8" height="2.7" fill="url(#h1r34)"/><rect x="259.5" y="391.3" width="69.8" height="2.7" fill="url(#h1r35)"/><rect x="259.5" y="393.3" width="69.8" height="2.7" fill="url(#h1r36)"/><rect x="259.5" y="395.3" width="69.8" height="2.7" fill="url(#h1r37)"/><rect x="259.5" y="397.3" width="69.8" height="2.7" fill="url(#h1r38)"/><rect x="259.5" y="399.3" width="69.8" height="0.4" fill="url(#h1r39)"/><path d="M271.0 399.3 L271.0 398.3 L271.0 397.3 L271.0 396.3 L271.0 395.3 L271.0 394.3 L271.0 393.3 L271.0 392.3 L271.0 391.3 L271.0 390.3 L270.9 389.3 L270.9 388.3 L270.9 387.3 L270.8 386.3 L270.7 385.3 L270.7 384.3 L270.5 383.3 L270.5 382.8 L270.3 381.8 L270.1 380.8 L270.0 380.1 L269.8 379.3 L269.5 378.3 L269.4 377.8 L269.1 376.8 L268.9 376.3 L268.6 375.3 L268.4 374.8 L268.1 373.8 L267.9 373.3 L267.6 372.3 L267.5 371.8 L267.2 370.8 L267.0 370.0 L266.9 369.3 L266.7 368.3 L266.6 367.3 L266.6 366.3 L266.7 365.3 L266.9 364.3 L267.0 363.6 L267.2 362.8 L267.5 361.8 L267.6 361.3 L267.9 360.3 L268.1 359.8 L268.5 358.8 L268.7 358.3 L269.0 357.4 L269.2 356.8 L269.5 355.9 L269.7 355.3 L270.0 354.4 L270.2 353.8 L270.5 352.8 L270.6 352.3 L270.9 351.3 L271.0 350.7 L271.2 349.8 L271.4 348.8 L271.5 348.3 L271.7 347.3 L271.9 346.3 L272.0 345.8 L272.2 344.8 L272.3 343.8 L272.5 342.8 L272.5 342.3 L272.6 341.3 L272.7 340.3 L272.7 339.3 L272.7 338.3 L272.7 337.3 L272.7 336.3 L272.6 335.3 L272.5 334.3 L272.4 333.8 L272.3 332.8 L272.2 331.8 L272.1 330.8 L272.0 330.3 L271.9 329.3 L271.7 328.3 L271.6 327.3 L271.5 326.3 L271.5 325.8 L271.4 324.8 L271.3 323.8 L271.2 322.8 L271.2 321.8 L271.1 321.3M329.0 398.7 L328.0 398.7 L327.0 398.7 L326.0 398.7 L325.0 398.7 L324.0 398.6 L323.0 398.6 L322.0 398.6 L321.0 398.6 L320.0 398.5 L319.0 398.5 L318.0 398.5 L317.0 398.5 L316.0 398.4 L315.0 398.4 L314.0 398.4 L313.0 398.3 L312.0 398.3 L311.5 398.3 L310.5 398.2 L309.5 398.2 L308.5 398.2 L307.5 398.1 L306.5 398.1 L305.5 398.0 L304.5 398.0 L303.5 397.9 L302.5 397.8 L301.9 397.8 L301.0 397.7 L300.0 397.7 L299.0 397.6 L298.0 397.5 L297.0 397.4 L296.0 397.3 L295.5 397.2 L294.5 397.1 L293.5 397.0 L292.5 396.8 L292.0 396.8 L291.0 396.6 L290.0 396.4 L289.5 396.3 L288.5 396.1 L287.5 395.8 L287.0 395.6 L286.0 395.3 L285.5 395.1 L284.7 394.8 L284.0 394.4 L283.5 394.2 L282.9 393.8 L282.2 393.3 L281.6 392.8 L281.1 392.3 L280.7 391.8 L280.3 391.3 L279.9 390.8 L279.5 390.1 L279.1 389.3 L278.9 388.8 L278.5 387.9 L278.3 387.3 L278.0 386.5 L277.8 385.8 L277.5 384.9 L277.3 384.3 L277.0 383.3 L276.9 382.8 L276.6 381.8 L276.4 381.3 L276.1 380.3 L276.0 379.8 L275.6 378.8 L275.4 378.3 L275.1 377.3 L274.9 376.8 L274.5 375.8 L274.3 375.3 L274.0 374.5 L273.7 373.8 L273.5 373.3 L273.1 372.3 L273.0 371.8 L272.7 370.8 L272.5 370.2 L272.3 369.3 L272.1 368.3 L272.0 367.3 L272.0 366.8 L272.0 366.2 L272.0 365.3 L272.2 364.3 L272.4 363.3 L272.5 362.7 L272.7 361.8 L273.0 360.9 L273.2 360.3 L273.5 359.4 L273.7 358.8 L274.0 358.0 L274.2 357.3 L274.5 356.6 L274.8 355.8 L275.0 355.0 L275.2 354.3 L275.5 353.4 L275.7 352.8 L275.9 351.8 L276.0 351.3 L276.3 350.3 L276.5 349.3 L276.6 348.8 L276.8 347.8 L277.0 346.8 L277.1 346.3 L277.3 345.3 L277.4 344.3 L277.5 343.8 L277.6 342.8 L277.7 341.8 L277.8 340.8 L277.9 339.8 L277.9 338.8 L277.9 337.8 L277.9 336.8 L277.8 335.8 L277.7 334.8 L277.6 333.8 L277.5 333.0 L277.4 332.3 L277.3 331.3 L277.1 330.3 L277.0 329.3 L276.9 328.8 L276.8 327.8 L276.7 326.8 L276.6 325.8 L276.5 324.8 L276.5 324.3 L276.4 323.3 L276.3 322.3 L276.3 321.3M329.0 397.7 L328.0 397.6 L327.0 397.6 L326.0 397.5 L325.0 397.5 L324.0 397.4 L323.0 397.4 L322.0 397.3 L321.1 397.3 L320.5 397.3 L319.5 397.2 L318.5 397.1 L317.5 397.1 L316.5 397.0 L315.5 397.0 L314.5 396.9 L313.5 396.8 L313.0 396.8 L312.0 396.7 L311.0 396.6 L310.0 396.5 L309.0 396.4 L308.0 396.3 L307.5 396.2 L306.5 396.1 L305.5 396.0 L304.5 395.9 L304.0 395.8 L303.0 395.6 L302.0 395.5 L301.0 395.3 L300.5 395.2 L299.5 395.0 L298.5 394.8 L298.0 394.7 L297.0 394.4 L296.5 394.3 L295.5 394.0 L294.8 393.8 L294.0 393.5 L293.4 393.3 L292.5 392.9 L292.0 392.7 L291.2 392.3 L290.5 391.9 L290.0 391.6 L289.5 391.2 L288.9 390.8 L288.3 390.3 L287.7 389.8 L287.2 389.3 L286.8 388.8 L286.4 388.3 L286.0 387.8 L285.5 387.1 L285.0 386.3 L284.8 385.8 L284.5 385.3 L284.0 384.3 L283.8 383.8 L283.5 383.2 L283.1 382.3 L282.9 381.8 L282.5 380.9 L282.2 380.3 L282.0 379.8 L281.6 378.8 L281.3 378.3 L281.0 377.5 L280.7 376.8 L280.4 376.3 L280.0 375.3 L279.8 374.8 L279.5 374.2 L279.1 373.3 L278.9 372.8 L278.5 371.8 L278.3 371.3 L278.0 370.3 L277.8 369.8 L277.6 368.8 L277.5 368.1 L277.4 367.3 L277.4 366.3 L277.4 365.3 L277.5 364.3 L277.6 363.8 L277.8 362.8 L278.0 361.9 L278.2 361.3 L278.5 360.3 L278.6 359.8 L279.0 358.8 L279.1 358.3 L279.5 357.3 L279.6 356.8 L280.0 355.8 L280.1 355.3 L280.4 354.3 L280.6 353.8 L280.9 352.8 L281.0 352.2 L281.2 351.3 L281.5 350.3 L281.6 349.8 L281.8 348.8 L282.0 347.8 L282.1 347.3 L282.3 346.3 L282.4 345.3 L282.5 344.8 L282.7 343.8 L282.8 342.8 L282.9 341.8 L283.0 340.8 L283.0 340.3 L283.0 339.3 L283.0 338.3 L283.0 337.3 L283.0 336.7 L282.9 335.8 L282.9 334.8 L282.7 333.8 L282.6 332.8 L282.5 331.9 L282.4 331.3 L282.3 330.3 L282.1 329.3 L282.0 328.3 L282.0 327.8 L281.8 326.8 L281.7 325.8 L281.6 324.8 L281.6 323.8 L281.5 322.8 L281.5 322.3 L281.4 321.3M329.0 396.5 L328.0 396.4 L327.0 396.3 L326.5 396.3 L325.5 396.2 L324.5 396.1 L323.5 396.1 L322.5 396.0 L321.5 395.9 L320.5 395.8 L320.0 395.8 L319.0 395.6 L318.0 395.5 L317.0 395.4 L316.0 395.3 L315.5 395.3 L314.5 395.1 L313.5 395.0 L312.5 394.8 L312.0 394.8 L311.0 394.6 L310.0 394.4 L309.2 394.3 L308.5 394.2 L307.5 394.0 L306.7 393.8 L306.0 393.6 L305.0 393.4 L304.5 393.3 L303.5 393.0 L302.9 392.8 L302.0 392.5 L301.4 392.3 L300.5 392.0 L300.0 391.8 L299.0 391.4 L298.5 391.1 L297.9 390.8 L297.0 390.3 L296.5 390.0 L296.0 389.7 L295.4 389.3 L294.7 388.8 L294.1 388.3 L293.6 387.8 L293.1 387.3 L292.6 386.8 L292.2 386.3 L291.7 385.8 L291.4 385.3 L291.0 384.8 L290.5 384.1 L290.0 383.3 L289.7 382.8 L289.4 382.3 L289.0 381.6 L288.6 380.8 L288.3 380.3 L288.0 379.7 L287.5 378.8 L287.2 378.3 L287.0 377.8 L286.5 376.9 L286.2 376.3 L285.9 375.8 L285.5 375.0 L285.2 374.3 L284.9 373.8 L284.5 372.9 L284.2 372.3 L284.0 371.8 L283.6 370.8 L283.5 370.3 L283.2 369.3 L283.0 368.6 L282.8 367.8 L282.7 366.8 L282.7 365.8 L282.8 364.8 L282.9 363.8 L283.0 363.1 L283.2 362.3 L283.4 361.3 L283.6 360.8 L283.9 359.8 L284.0 359.3 L284.4 358.3 L284.5 357.8 L284.9 356.8 L285.0 356.3 L285.3 355.3 L285.5 354.8 L285.8 353.8 L286.0 353.0 L286.2 352.3 L286.4 351.3 L286.5 350.8 L286.8 349.8 L287.0 348.8 L287.1 348.3 L287.3 347.3 L287.4 346.3 L287.5 345.8 L287.7 344.8 L287.8 343.8 L288.0 342.8 L288.0 342.3 L288.1 341.3 L288.2 340.3 L288.2 339.3 L288.2 338.3 L288.2 337.3 L288.1 336.3 L288.0 335.3 L288.0 334.8 L287.9 333.8 L287.8 332.8 L287.6 331.8 L287.5 330.8 L287.4 330.3 L287.3 329.3 L287.2 328.3 L287.0 327.3 L287.0 326.8 L286.9 325.8 L286.8 324.8 L286.7 323.8 L286.6 322.8 L286.6 321.8 L286.6 321.3M329.0 395.1 L328.0 395.0 L327.0 394.9 L326.0 394.8 L325.5 394.8 L324.5 394.6 L323.5 394.5 L322.5 394.4 L321.9 394.3 L321.0 394.2 L320.0 394.0 L319.0 393.9 L318.5 393.8 L317.5 393.6 L316.5 393.4 L315.9 393.3 L315.0 393.1 L314.0 392.9 L313.5 392.8 L312.5 392.6 L311.5 392.3 L311.0 392.2 L310.0 391.9 L309.5 391.7 L308.5 391.4 L308.0 391.2 L307.0 390.9 L306.5 390.7 L305.6 390.3 L305.0 390.0 L304.5 389.8 L303.5 389.3 L303.0 389.0 L302.5 388.7 L301.9 388.3 L301.1 387.8 L300.5 387.3 L300.0 386.9 L299.5 386.5 L299.0 386.1 L298.5 385.6 L298.0 385.1 L297.5 384.5 L297.0 383.9 L296.5 383.3 L296.1 382.8 L295.8 382.3 L295.4 381.8 L295.0 381.2 L294.5 380.4 L294.1 379.8 L293.8 379.3 L293.5 378.8 L293.0 378.1 L292.5 377.3 L292.2 376.8 L291.9 376.3 L291.5 375.5 L291.1 374.8 L290.8 374.3 L290.5 373.7 L290.0 372.8 L289.8 372.3 L289.5 371.7 L289.1 370.8 L288.9 370.3 L288.6 369.3 L288.5 368.8 L288.2 367.8 L288.1 366.8 L288.1 365.8 L288.1 364.8 L288.2 363.8 L288.4 362.8 L288.5 362.1 L288.7 361.3 L289.0 360.3 L289.1 359.8 L289.5 358.8 L289.6 358.3 L289.9 357.3 L290.1 356.8 L290.4 355.8 L290.6 355.3 L290.8 354.3 L291.0 353.7 L291.2 352.8 L291.5 351.8 L291.6 351.3 L291.8 350.3 L292.0 349.5 L292.1 348.8 L292.3 347.8 L292.5 346.9 L292.6 346.3 L292.8 345.3 L292.9 344.3 L293.0 343.7 L293.1 342.8 L293.2 341.8 L293.3 340.8 L293.3 339.8 L293.4 338.8 L293.3 337.8 L293.3 336.8 L293.2 335.8 L293.2 334.8 L293.0 333.8 L293.0 333.3 L292.9 332.3 L292.7 331.3 L292.6 330.3 L292.5 329.8 L292.4 328.8 L292.2 327.8 L292.1 326.8 L292.0 325.8 L292.0 325.3 L291.9 324.3 L291.8 323.3 L291.8 322.3 L291.7 321.3M329.0 393.6 L328.0 393.4 L327.1 393.3 L326.5 393.2 L325.5 393.0 L324.5 392.9 L324.0 392.8 L323.0 392.6 L322.0 392.4 L321.5 392.3 L320.5 392.1 L319.5 391.8 L319.0 391.7 L318.0 391.4 L317.5 391.3 L316.5 391.0 L315.8 390.8 L315.0 390.5 L314.3 390.3 L313.5 390.0 L312.9 389.8 L312.0 389.4 L311.5 389.2 L310.6 388.8 L310.0 388.5 L309.5 388.2 L308.7 387.8 L308.0 387.4 L307.5 387.1 L307.0 386.7 L306.4 386.3 L305.7 385.8 L305.1 385.3 L304.5 384.8 L304.0 384.3 L303.5 383.8 L303.0 383.3 L302.5 382.8 L302.1 382.3 L301.7 381.8 L301.3 381.3 L300.9 380.8 L300.5 380.3 L300.0 379.6 L299.5 378.9 L299.0 378.3 L298.7 377.8 L298.4 377.3 L298.0 376.8 L297.5 376.0 L297.1 375.3 L296.7 374.8 L296.4 374.3 L296.0 373.6 L295.6 372.8 L295.3 372.3 L295.0 371.7 L294.6 370.8 L294.4 370.3 L294.0 369.3 L293.9 368.8 L293.6 367.8 L293.5 367.0 L293.4 366.3 L293.4 365.3 L293.4 364.3 L293.5 363.7 L293.6 362.8 L293.9 361.8 L294.0 361.2 L294.2 360.3 L294.5 359.4 L294.7 358.8 L295.0 357.8 L295.2 357.3 L295.5 356.3 L295.6 355.8 L295.9 354.8 L296.1 354.3 L296.3 353.3 L296.5 352.6 L296.7 351.8 L296.9 350.8 L297.0 350.3 L297.2 349.3 L297.4 348.3 L297.5 347.8 L297.7 346.8 L297.9 345.8 L298.0 344.9 L298.1 344.3 L298.2 343.3 L298.3 342.3 L298.4 341.3 L298.5 340.3 L298.5 339.4 L298.5 338.8 L298.5 337.9 L298.5 337.3 L298.4 336.3 L298.3 335.3 L298.2 334.3 L298.1 333.3 L298.0 332.3 L297.9 331.8 L297.8 330.8 L297.7 329.8 L297.5 328.8 L297.5 328.3 L297.3 327.3 L297.2 326.3 L297.1 325.3 L297.0 324.3 L297.0 323.8 L296.9 322.8 L296.9 321.8 L296.9 321.3M329.0 391.8 L328.0 391.6 L327.0 391.3 L326.5 391.2 L325.5 391.0 L324.8 390.8 L324.0 390.6 L323.0 390.3 L322.5 390.2 L321.5 389.9 L321.0 389.7 L320.0 389.4 L319.5 389.2 L318.5 388.8 L318.0 388.6 L317.3 388.3 L316.5 387.9 L316.0 387.7 L315.3 387.3 L314.5 386.9 L314.0 386.6 L313.5 386.3 L312.7 385.8 L312.0 385.3 L311.5 385.0 L311.0 384.6 L310.5 384.2 L310.0 383.8 L309.5 383.3 L308.9 382.8 L308.4 382.3 L307.9 381.8 L307.5 381.3 L307.0 380.8 L306.5 380.2 L306.0 379.6 L305.5 379.0 L305.0 378.4 L304.6 377.8 L304.2 377.3 L303.8 376.8 L303.5 376.3 L303.0 375.7 L302.5 374.9 L302.1 374.3 L301.8 373.8 L301.4 373.3 L301.0 372.6 L300.6 371.8 L300.3 371.3 L300.0 370.6 L299.7 369.8 L299.5 369.3 L299.2 368.3 L299.0 367.7 L298.8 366.8 L298.7 365.8 L298.7 364.8 L298.8 363.8 L298.9 362.8 L299.0 362.3 L299.2 361.3 L299.5 360.3 L299.6 359.8 L299.9 358.8 L300.1 358.3 L300.4 357.3 L300.5 356.8 L300.8 355.8 L301.0 355.2 L301.3 354.3 L301.5 353.4 L301.6 352.8 L301.9 351.8 L302.0 351.2 L302.2 350.3 L302.4 349.3 L302.5 348.8 L302.7 347.8 L302.9 346.8 L303.0 346.0 L303.1 345.3 L303.2 344.3 L303.4 343.3 L303.5 342.3 L303.5 341.8 L303.6 340.8 L303.6 339.8 L303.7 338.8 L303.6 337.8 L303.6 336.8 L303.5 335.8 L303.5 335.3 L303.4 334.3 L303.3 333.3 L303.1 332.3 L303.0 331.3 L302.9 330.8 L302.8 329.8 L302.7 328.8 L302.5 327.8 L302.5 327.3 L302.4 326.3 L302.3 325.3 L302.2 324.3 L302.1 323.3 L302.0 322.3 L302.0 321.4 L302.0 321.3M329.0 389.6 L328.0 389.3 L327.5 389.1 L326.5 388.8 L326.0 388.6 L325.1 388.3 L324.5 388.1 L323.8 387.8 L323.0 387.5 L322.5 387.2 L321.6 386.8 L321.0 386.5 L320.5 386.2 L319.7 385.8 L319.0 385.4 L318.5 385.1 L318.0 384.8 L317.3 384.3 L316.6 383.8 L316.0 383.3 L315.5 382.9 L315.0 382.5 L314.5 382.1 L314.0 381.6 L313.5 381.1 L313.0 380.6 L312.5 380.1 L312.0 379.6 L311.5 379.0 L311.0 378.5 L310.5 377.9 L310.0 377.3 L309.6 376.8 L309.2 376.3 L308.8 375.8 L308.4 375.3 L308.0 374.7 L307.5 374.0 L307.0 373.3 L306.7 372.8 L306.4 372.3 L306.0 371.6 L305.6 370.8 L305.3 370.3 L305.0 369.6 L304.7 368.8 L304.5 368.1 L304.3 367.3 L304.1 366.3 L304.1 365.3 L304.1 364.3 L304.2 363.3 L304.3 362.3 L304.5 361.4 L304.6 360.8 L304.9 359.8 L305.0 359.3 L305.3 358.3 L305.5 357.7 L305.8 356.8 L306.0 356.0 L306.2 355.3 L306.5 354.3 L306.6 353.8 L306.8 352.8 L307.0 352.1 L307.2 351.3 L307.4 350.3 L307.5 349.7 L307.7 348.8 L307.9 347.8 L308.0 347.0 L308.1 346.3 L308.3 345.3 L308.4 344.3 L308.5 343.6 L308.6 342.8 L308.7 341.8 L308.8 340.8 L308.8 339.8 L308.8 338.8 L308.8 337.8 L308.8 336.8 L308.7 335.8 L308.6 334.8 L308.5 333.9 L308.4 333.3 L308.3 332.3 L308.2 331.3 L308.0 330.3 L307.9 329.8 L307.8 328.8 L307.7 327.8 L307.6 326.8 L307.5 326.3 L307.4 325.3 L307.3 324.3 L307.2 323.3 L307.2 322.3 L307.1 321.3M329.0 386.9 L328.5 386.7 L327.7 386.3 L327.0 386.0 L326.5 385.7 L325.7 385.3 L325.0 384.9 L324.5 384.6 L324.0 384.3 L323.2 383.8 L322.5 383.3 L322.0 383.0 L321.5 382.6 L321.0 382.2 L320.5 381.8 L319.9 381.3 L319.3 380.8 L318.8 380.3 L318.2 379.8 L317.7 379.3 L317.2 378.8 L316.7 378.3 L316.3 377.8 L315.8 377.3 L315.4 376.8 L315.0 376.3 L314.5 375.8 L314.0 375.1 L313.5 374.5 L313.0 373.8 L312.6 373.3 L312.3 372.8 L311.9 372.3 L311.5 371.6 L311.0 370.8 L310.8 370.3 L310.5 369.7 L310.1 368.8 L310.0 368.3 L309.7 367.3 L309.5 366.3 L309.4 365.8 L309.4 364.8 L309.4 363.8 L309.5 363.0 L309.6 362.3 L309.8 361.3 L310.0 360.4 L310.2 359.8 L310.4 358.8 L310.6 358.3 L310.8 357.3 L311.0 356.8 L311.3 355.8 L311.5 354.9 L311.7 354.3 L311.9 353.3 L312.0 352.8 L312.3 351.8 L312.5 350.8 L312.6 350.3 L312.8 349.3 L312.9 348.3 L313.0 347.8 L313.2 346.8 L313.4 345.8 L313.5 344.9 L313.6 344.3 L313.7 343.3 L313.8 342.3 L313.9 341.3 L313.9 340.3 L314.0 339.3 L314.0 338.3 L313.9 337.3 L313.9 336.3 L313.8 335.3 L313.7 334.3 L313.6 333.3 L313.5 332.8 L313.4 331.8 L313.2 330.8 L313.1 329.8 L313.0 329.2 L312.9 328.3 L312.8 327.3 L312.6 326.3 L312.5 325.3 L312.5 324.8 L312.4 323.8 L312.4 322.8 L312.3 321.8 L312.3 321.3M329.0 383.2 L328.2 382.8 L327.5 382.3 L327.0 382.0 L326.5 381.6 L326.0 381.2 L325.5 380.8 L324.9 380.3 L324.3 379.8 L323.7 379.3 L323.2 378.8 L322.6 378.3 L322.1 377.8 L321.6 377.3 L321.2 376.8 L320.7 376.3 L320.3 375.8 L319.8 375.3 L319.4 374.8 L319.0 374.3 L318.5 373.7 L318.0 373.0 L317.5 372.3 L317.1 371.8 L316.8 371.3 L316.5 370.7 L316.0 369.8 L315.8 369.3 L315.5 368.6 L315.2 367.8 L315.0 367.0 L314.9 366.3 L314.7 365.3 L314.7 364.3 L314.8 363.3 L314.9 362.3 L315.0 361.6 L315.2 360.8 L315.4 359.8 L315.5 359.3 L315.8 358.3 L316.0 357.6 L316.2 356.8 L316.5 355.8 L316.6 355.3 L316.9 354.3 L317.0 353.8 L317.2 352.8 L317.4 351.8 L317.6 351.3 L317.8 350.3 L317.9 349.3 L318.0 348.8 L318.2 347.8 L318.4 346.8 L318.5 346.0 L318.6 345.3 L318.7 344.3 L318.9 343.3 L319.0 342.3 L319.0 341.8 L319.1 340.8 L319.1 339.8 L319.1 338.8 L319.1 337.8 L319.1 336.8 L319.0 335.9 L318.9 335.3 L318.8 334.3 L318.7 333.3 L318.6 332.3 L318.5 331.7 L318.4 330.8 L318.2 329.8 L318.1 328.8 L318.0 328.1 L317.9 327.3 L317.8 326.3 L317.7 325.3 L317.6 324.3 L317.5 323.3 L317.5 322.8 L317.4 321.8 L317.4 321.3M329.0 377.4 L328.0 377.4 L327.5 377.3 L327.0 376.8 L326.5 376.3 L326.0 375.8 L325.5 375.3 L325.0 374.7 L324.5 374.2 L324.0 373.6 L323.5 372.9 L323.0 372.3 L322.7 371.8 L322.3 371.3 L322.0 370.8 L321.5 369.9 L321.2 369.3 L321.0 368.8 L320.6 367.8 L320.4 367.3 L320.2 366.3 L320.1 365.3 L320.0 364.3 L320.1 363.3 L320.2 362.3 L320.3 361.3 L320.5 360.5 L320.7 359.8 L320.9 358.8 L321.0 358.3 L321.3 357.3 L321.5 356.6 L321.7 355.8 L322.0 354.8 L322.1 354.3 L322.3 353.3 L322.5 352.5 L322.6 351.8 L322.8 350.8 L323.0 350.0 L323.1 349.3 L323.3 348.3 L323.5 347.3 L323.5 346.8 L323.7 345.8 L323.8 344.8 L324.0 343.8 L324.0 343.3 L324.1 342.3 L324.2 341.3 L324.3 340.3 L324.3 339.3 L324.3 338.3 L324.2 337.3 L324.2 336.3 L324.1 335.3 L324.0 334.4 L323.9 333.8 L323.8 332.8 L323.7 331.8 L323.5 330.8 L323.4 330.3 L323.3 329.3 L323.2 328.3 L323.0 327.3 L323.0 326.8 L322.9 325.8 L322.8 324.8 L322.7 323.8 L322.6 322.8 L322.6 321.8 L322.6 321.3" fill="none" stroke="#ffffff" stroke-opacity="0.75" stroke-width="0.95" stroke-linejoin="round"/><rect x="375.4" y="321.4" width="70.8" height="2.7" fill="url(#h2r0)"/><rect x="375.4" y="323.4" width="70.8" height="2.7" fill="url(#h2r1)"/><rect x="375.4" y="325.4" width="70.8" height="2.7" fill="url(#h2r2)"/><rect x="375.4" y="327.4" width="70.8" height="2.7" fill="url(#h2r3)"/><rect x="375.4" y="329.4" width="70.8" height="2.7" fill="url(#h2r4)"/><rect x="375.4" y="331.4" width="70.8" height="2.7" fill="url(#h2r5)"/><rect x="375.4" y="333.4" width="70.8" height="2.7" fill="url(#h2r6)"/><rect x="375.4" y="335.4" width="70.8" height="2.7" fill="url(#h2r7)"/><rect x="375.4" y="337.4" width="70.8" height="2.7" fill="url(#h2r8)"/><rect x="375.4" y="339.4" width="70.8" height="2.7" fill="url(#h2r9)"/><rect x="375.4" y="341.4" width="70.8" height="2.7" fill="url(#h2r10)"/><rect x="375.4" y="343.4" width="70.8" height="2.7" fill="url(#h2r11)"/><rect x="375.4" y="345.4" width="70.8" height="2.7" fill="url(#h2r12)"/><rect x="375.4" y="347.4" width="70.8" height="2.7" fill="url(#h2r13)"/><rect x="375.4" y="349.4" width="70.8" height="2.7" fill="url(#h2r14)"/><rect x="375.4" y="351.4" width="70.8" height="2.7" fill="url(#h2r15)"/><rect x="375.4" y="353.4" width="70.8" height="2.7" fill="url(#h2r16)"/><rect x="375.4" y="355.4" width="70.8" height="2.7" fill="url(#h2r17)"/><rect x="375.4" y="357.4" width="70.8" height="2.7" fill="url(#h2r18)"/><rect x="375.4" y="359.4" width="70.8" height="2.7" fill="url(#h2r19)"/><rect x="375.4" y="361.4" width="70.8" height="2.7" fill="url(#h2r20)"/><rect x="375.4" y="363.4" width="70.8" height="2.7" fill="url(#h2r21)"/><rect x="375.4" y="365.4" width="70.8" height="2.7" fill="url(#h2r22)"/><rect x="375.4" y="367.4" width="70.8" height="2.7" fill="url(#h2r23)"/><rect x="375.4" y="369.4" width="70.8" height="2.7" fill="url(#h2r24)"/><rect x="375.4" y="371.4" width="70.8" height="2.7" fill="url(#h2r25)"/><rect x="375.4" y="373.4" width="70.8" height="2.7" fill="url(#h2r26)"/><rect x="375.4" y="375.4" width="70.8" height="2.7" fill="url(#h2r27)"/><rect x="375.4" y="377.4" width="70.8" height="2.7" fill="url(#h2r28)"/><rect x="375.4" y="379.4" width="70.8" height="2.7" fill="url(#h2r29)"/><rect x="375.4" y="381.4" width="70.8" height="2.7" fill="url(#h2r30)"/><rect x="375.4" y="383.4" width="70.8" height="2.7" fill="url(#h2r31)"/><rect x="375.4" y="385.4" width="70.8" height="2.7" fill="url(#h2r32)"/><rect x="375.4" y="387.4" width="70.8" height="2.7" fill="url(#h2r33)"/><rect x="375.4" y="389.4" width="70.8" height="2.7" fill="url(#h2r34)"/><rect x="375.4" y="391.4" width="70.8" height="2.7" fill="url(#h2r35)"/><rect x="375.4" y="393.4" width="70.8" height="2.7" fill="url(#h2r36)"/><rect x="375.4" y="395.4" width="70.8" height="2.7" fill="url(#h2r37)"/><rect x="375.4" y="397.4" width="70.8" height="2.7" fill="url(#h2r38)"/><rect x="375.4" y="399.4" width="70.8" height="0.1" fill="url(#h2r39)"/><path d="M445.9 394.5 L444.9 394.6 L443.9 394.7 L442.9 394.7 L441.9 394.8 L441.1 394.9 L440.4 395.0 L439.4 395.0 L438.4 395.1 L437.4 395.2 L436.4 395.3 L435.4 395.3 L434.4 395.4 L433.9 395.4 L432.9 395.5 L431.9 395.5 L430.9 395.6 L429.9 395.7 L428.9 395.7 L427.9 395.8 L426.9 395.8 L425.9 395.9 L425.4 395.9 L424.4 395.9 L423.4 396.0 L422.4 396.0 L421.4 396.1 L420.4 396.1 L419.4 396.2 L418.4 396.2 L417.4 396.3 L416.4 396.3 L415.4 396.3 L414.4 396.3 L413.4 396.3 L412.4 396.3 L411.4 396.3 L410.4 396.3 L409.4 396.3 L408.4 396.3 L407.4 396.3 L406.4 396.3 L405.4 396.3 L404.4 396.3 L403.4 396.3 L402.4 396.3 L401.4 396.3 L400.4 396.3 L399.4 396.3 L398.4 396.3 L397.4 396.3 L396.4 396.3 L395.4 396.3 L394.4 396.3 L393.4 396.3 L392.4 396.3 L391.4 396.3 L390.4 396.3 L389.4 396.2 L388.4 396.2 L387.4 396.2 L386.4 396.2 L385.4 396.1 L384.4 396.1 L383.4 395.9 L382.9 395.9 L381.9 395.7 L381.1 395.4 L380.4 395.1 L379.9 394.8 L379.4 394.3 L378.9 393.7 L378.4 392.9 L378.2 392.4 L377.9 391.4 L377.8 390.9 L377.6 389.9 L377.5 388.9 L377.4 387.9 L377.4 387.4 L377.3 386.4 L377.3 385.4 L377.3 384.4 L377.2 383.4 L377.2 382.4 L377.2 381.4 L377.2 380.4 L377.2 379.4 L377.2 378.4 L377.2 377.4 L377.2 376.4 L377.2 375.4 L377.2 374.4 L377.2 373.4 L377.2 372.4 L377.2 371.4 L377.2 370.4 L377.2 369.4 L377.2 368.4 L377.2 367.4 L377.2 366.4 L377.2 365.4 L377.2 364.4 L377.2 363.4 L377.2 362.4 L377.2 361.4 L377.2 360.4 L377.2 359.4 L377.2 358.4 L377.2 357.4 L377.2 356.4 L377.2 355.4 L377.2 354.4 L377.2 353.4 L377.2 352.4 L377.2 351.4 L377.2 350.4 L377.2 349.4 L377.2 348.4 L377.2 347.4 L377.2 346.4 L377.2 345.4 L377.2 344.4 L377.2 343.4 L377.2 342.4 L377.2 341.4 L377.2 340.4 L377.2 339.4 L377.2 338.4 L377.2 337.4 L377.2 336.4 L377.2 335.4 L377.2 334.4 L377.2 333.4 L377.2 332.4 L377.2 331.4 L377.2 330.4 L377.2 329.4 L377.2 328.4 L377.2 327.4 L377.2 326.4 L377.2 325.4 L377.2 324.4 L377.2 323.4 L377.2 322.4 L377.2 321.4M445.9 388.2 L444.9 388.4 L444.4 388.5 L443.4 388.7 L442.4 388.9 L441.9 389.0 L440.9 389.2 L439.9 389.4 L439.4 389.4 L438.4 389.6 L437.4 389.8 L436.7 389.9 L435.9 390.0 L434.9 390.2 L433.9 390.3 L433.3 390.4 L432.4 390.5 L431.4 390.7 L430.4 390.8 L429.6 390.9 L428.9 391.0 L427.9 391.1 L426.9 391.2 L425.9 391.3 L425.4 391.4 L424.4 391.5 L423.4 391.6 L422.4 391.7 L421.4 391.8 L420.6 391.9 L419.9 392.0 L418.9 392.1 L417.9 392.2 L416.9 392.2 L415.9 392.2 L414.9 392.2 L413.9 392.2 L412.9 392.2 L411.9 392.2 L410.9 392.2 L409.9 392.2 L408.9 392.2 L407.9 392.2 L406.9 392.2 L405.9 392.2 L404.9 392.2 L403.9 392.2 L402.9 392.2 L401.9 392.2 L400.9 392.2 L399.9 392.2 L398.9 392.2 L397.9 392.2 L396.9 392.2 L395.9 392.2 L394.9 392.2 L393.9 392.2 L392.9 392.2 L391.9 392.2 L390.9 392.2 L389.9 392.2 L388.9 392.1 L387.9 392.1 L386.9 392.0 L386.3 391.9 L385.4 391.7 L384.4 391.5 L383.9 391.3 L383.1 390.9 L382.4 390.4 L382.0 389.9 L381.7 389.4 L381.4 388.9 L381.0 387.9 L380.9 387.4 L380.7 386.4 L380.5 385.4 L380.4 384.4 L380.4 383.9 L380.3 382.9 L380.3 381.9 L380.2 380.9 L380.2 379.9 L380.2 378.9 L380.2 377.9 L380.1 376.9 L380.1 375.9 L380.1 374.9 L380.1 373.9 L380.1 372.9 L380.1 371.9 L380.1 370.9 L380.1 369.9 L380.1 368.9 L380.1 367.9 L380.1 366.9 L380.1 365.9 L380.1 364.9 L380.1 363.9 L380.1 362.9 L380.1 361.9 L380.1 360.9 L380.1 359.9 L380.1 358.9 L380.1 357.9 L380.1 356.9 L380.1 355.9 L380.1 354.9 L380.1 353.9 L380.1 352.9 L380.1 351.9 L380.1 350.9 L380.1 349.9 L380.1 348.9 L380.1 347.9 L380.1 346.9 L380.1 345.9 L380.1 344.9 L380.1 343.9 L380.1 342.9 L380.1 341.9 L380.1 340.9 L380.1 339.9 L380.1 338.9 L380.1 337.9 L380.1 336.9 L380.1 335.9 L380.1 334.9 L380.1 333.9 L380.1 332.9 L380.1 331.9 L380.1 330.9 L380.1 329.9 L380.1 328.9 L380.1 327.9 L380.1 326.9 L380.1 325.9 L380.1 324.9 L380.1 323.9 L380.1 322.9 L380.1 321.9 L380.1 321.4M445.9 381.9 L445.4 382.1 L444.4 382.4 L443.9 382.5 L442.9 382.9 L442.4 383.0 L441.4 383.3 L440.9 383.4 L439.9 383.7 L439.3 383.9 L438.4 384.1 L437.4 384.4 L436.9 384.5 L435.9 384.7 L435.3 384.9 L434.4 385.1 L433.4 385.3 L432.9 385.4 L431.9 385.6 L430.9 385.9 L430.4 386.0 L429.4 386.2 L428.4 386.3 L427.9 386.4 L426.9 386.6 L425.9 386.8 L425.4 386.9 L424.4 387.1 L423.4 387.2 L422.4 387.4 L421.9 387.5 L420.9 387.6 L419.9 387.8 L419.2 387.9 L418.4 388.0 L417.4 388.2 L416.4 388.2 L415.4 388.2 L414.4 388.2 L413.4 388.2 L412.4 388.2 L411.4 388.2 L410.4 388.2 L409.4 388.2 L408.4 388.2 L407.4 388.2 L406.4 388.2 L405.4 388.2 L404.4 388.2 L403.4 388.2 L402.4 388.2 L401.4 388.2 L400.4 388.2 L399.4 388.2 L398.4 388.2 L397.4 388.2 L396.4 388.2 L395.4 388.2 L394.4 388.2 L393.4 388.1 L392.4 388.1 L391.4 388.1 L390.4 388.0 L389.5 387.9 L388.9 387.8 L387.9 387.6 L387.2 387.4 L386.4 387.1 L385.9 386.8 L385.4 386.4 L384.9 385.8 L384.4 385.0 L384.1 384.4 L383.9 383.7 L383.7 382.9 L383.5 381.9 L383.4 380.9 L383.4 380.4 L383.3 379.4 L383.2 378.4 L383.2 377.4 L383.1 376.4 L383.1 375.4 L383.1 374.4 L383.1 373.4 L383.1 372.4 L383.1 371.4 L383.1 370.4 L383.1 369.4 L383.1 368.4 L383.1 367.4 L383.1 366.4 L383.1 365.4 L383.1 364.4 L383.0 363.4 L383.0 362.4 L383.0 361.4 L383.0 360.4 L383.0 359.4 L383.0 358.4 L383.0 357.4 L383.0 356.4 L383.0 355.4 L383.0 354.4 L383.0 353.4 L383.0 352.4 L383.0 351.4 L383.0 350.4 L383.0 349.4 L383.0 348.4 L383.0 347.4 L383.0 346.4 L383.0 345.4 L383.0 344.4 L383.0 343.4 L383.0 342.4 L383.0 341.4 L383.0 340.4 L383.0 339.4 L383.0 338.4 L383.0 337.4 L383.0 336.4 L383.0 335.4 L383.0 334.4 L383.0 333.4 L383.0 332.4 L383.0 331.4 L383.0 330.4 L383.0 329.4 L383.0 328.4 L383.0 327.4 L383.0 326.4 L383.0 325.4 L383.0 324.4 L383.0 323.4 L383.0 322.4 L383.0 321.4M445.9 375.6 L445.3 375.9 L444.4 376.3 L443.9 376.5 L442.9 376.9 L442.4 377.1 L441.7 377.4 L440.9 377.7 L440.4 377.9 L439.4 378.3 L438.9 378.5 L437.9 378.8 L437.4 379.0 L436.4 379.3 L435.9 379.5 L434.9 379.8 L434.4 380.0 L433.4 380.3 L432.9 380.4 L431.9 380.7 L431.2 380.9 L430.4 381.1 L429.4 381.4 L428.9 381.5 L427.9 381.8 L427.4 381.9 L426.4 382.2 L425.4 382.4 L424.9 382.5 L423.9 382.7 L423.2 382.9 L422.4 383.1 L421.4 383.3 L420.9 383.4 L419.9 383.6 L418.9 383.8 L418.4 383.9 L417.4 384.1 L416.4 384.2 L415.4 384.2 L414.4 384.2 L413.4 384.2 L412.4 384.2 L411.4 384.2 L410.4 384.2 L409.4 384.2 L408.4 384.2 L407.4 384.2 L406.4 384.2 L405.4 384.2 L404.4 384.2 L403.4 384.2 L402.4 384.2 L401.4 384.2 L400.4 384.2 L399.4 384.2 L398.4 384.1 L397.4 384.1 L396.4 384.1 L395.4 384.1 L394.4 384.0 L393.4 384.0 L392.7 383.9 L391.9 383.8 L390.9 383.6 L390.2 383.4 L389.4 383.1 L388.9 382.8 L388.4 382.4 L387.9 381.9 L387.4 381.1 L387.1 380.4 L386.9 379.9 L386.7 378.9 L386.5 377.9 L386.4 377.4 L386.3 376.4 L386.2 375.4 L386.2 374.4 L386.1 373.4 L386.1 372.4 L386.1 371.4 L386.0 370.4 L386.0 369.4 L386.0 368.4 L386.0 367.4 L386.0 366.4 L386.0 365.4 L386.0 364.4 L386.0 363.4 L386.0 362.4 L386.0 361.4 L386.0 360.4 L386.0 359.4 L386.0 358.4 L386.0 357.4 L386.0 356.4 L386.0 355.4 L386.0 354.4 L386.0 353.4 L386.0 352.4 L386.0 351.4 L386.0 350.4 L386.0 349.4 L386.0 348.4 L386.0 347.4 L386.0 346.4 L386.0 345.4 L386.0 344.4 L386.0 343.4 L386.0 342.4 L386.0 341.4 L386.0 340.4 L386.0 339.4 L386.0 338.4 L386.0 337.4 L386.0 336.4 L386.0 335.4 L386.0 334.4 L386.0 333.4 L386.0 332.4 L386.0 331.4 L386.0 330.4 L386.0 329.4 L386.0 328.4 L386.0 327.4 L386.0 326.4 L386.0 325.4 L386.0 324.4 L386.0 323.4 L386.0 322.4 L386.0 321.4M445.9 369.3 L445.4 369.6 L444.9 369.9 L444.0 370.4 L443.4 370.7 L442.9 371.0 L442.1 371.4 L441.4 371.7 L440.9 372.0 L440.0 372.4 L439.4 372.7 L438.9 372.9 L437.9 373.4 L437.4 373.6 L436.7 373.9 L435.9 374.2 L435.4 374.4 L434.4 374.8 L433.9 375.0 L432.9 375.4 L432.4 375.6 L431.5 375.9 L430.9 376.1 L430.1 376.4 L429.4 376.6 L428.6 376.9 L427.9 377.1 L427.0 377.4 L426.4 377.6 L425.4 377.9 L424.9 378.0 L423.9 378.3 L423.4 378.5 L422.4 378.8 L421.9 378.9 L420.9 379.2 L420.0 379.4 L419.4 379.6 L418.4 379.8 L417.9 379.9 L416.9 380.1 L415.9 380.1 L414.9 380.1 L413.9 380.1 L412.9 380.1 L411.9 380.1 L410.9 380.1 L409.9 380.1 L408.9 380.1 L407.9 380.1 L406.9 380.1 L405.9 380.1 L404.9 380.1 L403.9 380.1 L402.9 380.1 L401.9 380.1 L400.9 380.1 L399.9 380.1 L398.9 380.1 L397.9 380.0 L396.9 380.0 L395.9 379.9 L395.4 379.8 L394.4 379.7 L393.4 379.5 L392.9 379.3 L392.1 378.9 L391.4 378.4 L390.9 377.9 L390.5 377.4 L390.3 376.9 L389.9 376.0 L389.7 375.4 L389.5 374.4 L389.4 373.8 L389.3 372.9 L389.2 371.9 L389.1 370.9 L389.1 369.9 L389.0 368.9 L389.0 367.9 L389.0 366.9 L389.0 365.9 L389.0 364.9 L389.0 363.9 L388.9 362.9 L388.9 361.9 L388.9 360.9 L388.9 359.9 L388.9 358.9 L388.9 357.9 L388.9 356.9 L388.9 355.9 L388.9 354.9 L388.9 353.9 L388.9 352.9 L388.9 351.9 L388.9 350.9 L388.9 349.9 L388.9 348.9 L388.9 347.9 L388.9 346.9 L388.9 345.9 L388.9 344.9 L388.9 343.9 L388.9 342.9 L388.9 341.9 L388.9 340.9 L388.9 339.9 L388.9 338.9 L388.9 337.9 L388.9 336.9 L388.9 335.9 L388.9 334.9 L388.9 333.9 L388.9 332.9 L388.9 331.9 L388.9 330.9 L388.9 329.9 L388.9 328.9 L388.9 327.9 L388.9 326.9 L388.9 325.9 L388.9 324.9 L388.9 323.9 L388.9 322.9 L388.9 321.9 L388.9 321.4M445.9 363.0 L445.4 363.4 L444.6 363.9 L443.9 364.4 L443.4 364.7 L442.9 365.0 L442.3 365.4 L441.5 365.9 L440.9 366.2 L440.4 366.5 L439.8 366.9 L438.9 367.4 L438.4 367.7 L437.9 367.9 L437.0 368.4 L436.4 368.7 L435.9 368.9 L435.0 369.4 L434.4 369.7 L433.9 369.9 L432.9 370.4 L432.4 370.6 L431.7 370.9 L430.9 371.2 L430.4 371.4 L429.4 371.9 L428.9 372.1 L428.0 372.4 L427.4 372.6 L426.7 372.9 L425.9 373.2 L425.4 373.4 L424.4 373.7 L423.9 373.9 L422.9 374.3 L422.4 374.4 L421.4 374.8 L420.9 374.9 L419.9 375.2 L419.4 375.4 L418.4 375.7 L417.7 375.9 L416.9 376.1 L415.9 376.1 L414.9 376.1 L413.9 376.1 L412.9 376.1 L411.9 376.1 L410.9 376.1 L409.9 376.1 L408.9 376.1 L407.9 376.1 L406.9 376.1 L405.9 376.1 L404.9 376.1 L403.9 376.1 L402.9 376.1 L401.9 376.0 L400.9 376.0 L399.9 375.9 L399.2 375.9 L398.4 375.8 L397.4 375.7 L396.4 375.4 L395.9 375.3 L395.1 374.9 L394.4 374.4 L393.9 373.9 L393.5 373.4 L393.2 372.9 L392.9 372.2 L392.7 371.4 L392.4 370.4 L392.4 369.9 L392.2 368.9 L392.1 367.9 L392.1 366.9 L392.0 365.9 L392.0 364.9 L392.0 363.9 L391.9 362.9 L391.9 361.9 L391.9 360.9 L391.9 360.2 L391.9 359.4 L391.9 358.4 L391.9 357.4 L391.9 356.4 L391.9 355.4 L391.9 354.4 L391.9 353.4 L391.9 352.4 L391.9 351.4 L391.9 350.4 L391.9 349.4 L391.9 348.4 L391.9 347.4 L391.9 346.4 L391.9 345.4 L391.9 344.4 L391.9 343.4 L391.9 342.4 L391.9 341.4 L391.9 340.4 L391.9 339.4 L391.9 338.4 L391.9 337.4 L391.9 336.4 L391.9 335.4 L391.9 334.4 L391.9 333.4 L391.9 332.4 L391.9 331.4 L391.9 330.4 L391.9 329.4 L391.9 328.4 L391.9 327.4 L391.9 326.4 L391.9 325.4 L391.9 324.4 L391.9 323.4 L391.9 322.4 L391.9 321.4M445.9 356.7 L445.4 357.2 L444.9 357.6 L444.4 357.9 L443.8 358.4 L443.2 358.9 L442.5 359.4 L441.9 359.8 L441.4 360.2 L440.9 360.5 L440.3 360.9 L439.6 361.4 L438.9 361.8 L438.4 362.2 L437.9 362.5 L437.2 362.9 L436.4 363.4 L435.9 363.7 L435.4 364.0 L434.6 364.4 L433.9 364.8 L433.4 365.1 L432.8 365.4 L431.9 365.9 L431.4 366.1 L430.8 366.4 L429.9 366.9 L429.4 367.1 L428.7 367.4 L427.9 367.8 L427.4 368.0 L426.5 368.4 L425.9 368.7 L425.4 368.9 L424.4 369.3 L423.9 369.5 L422.9 369.9 L422.4 370.1 L421.7 370.4 L420.9 370.7 L420.3 370.9 L419.4 371.2 L418.9 371.4 L417.9 371.8 L417.4 371.9 L416.4 372.1 L415.4 372.1 L414.4 372.1 L413.4 372.1 L412.4 372.1 L411.4 372.1 L410.4 372.1 L409.4 372.1 L408.4 372.1 L407.4 372.1 L406.4 372.0 L405.4 372.0 L404.4 372.0 L403.4 371.9 L402.6 371.9 L401.9 371.8 L400.9 371.7 L399.9 371.5 L399.3 371.4 L398.4 371.1 L397.9 370.8 L397.3 370.4 L396.8 369.9 L396.4 369.3 L395.9 368.4 L395.8 367.9 L395.5 366.9 L395.4 366.4 L395.2 365.4 L395.1 364.4 L395.0 363.4 L395.0 362.4 L394.9 361.4 L394.9 360.4 L394.9 359.9 L394.9 358.9 L394.9 357.9 L394.8 356.9 L394.8 355.9 L394.8 354.9 L394.8 353.9 L394.8 352.9 L394.8 351.9 L394.8 350.9 L394.8 349.9 L394.8 348.9 L394.8 347.9 L394.8 346.9 L394.8 345.9 L394.8 344.9 L394.8 343.9 L394.8 342.9 L394.8 341.9 L394.8 340.9 L394.8 339.9 L394.8 338.9 L394.8 337.9 L394.8 336.9 L394.9 335.9 L394.9 335.3 L394.9 334.4 L395.0 333.4 L395.1 332.4 L395.1 331.4 L395.2 330.4 L395.3 329.4 L395.4 328.4 L395.5 327.9 L395.6 326.9 L395.7 325.9 L395.9 324.9 L395.9 324.4 L396.2 323.4 L396.4 322.4 L396.6 321.9 L396.8 321.4M445.9 350.5 L445.4 350.9 L444.9 351.4 L444.3 351.9 L443.8 352.4 L443.2 352.9 L442.6 353.4 L442.0 353.9 L441.4 354.4 L440.9 354.8 L440.4 355.2 L439.9 355.6 L439.4 355.9 L438.8 356.4 L438.1 356.9 L437.4 357.4 L436.9 357.7 L436.4 358.1 L435.9 358.4 L435.2 358.9 L434.4 359.4 L433.9 359.7 L433.4 360.0 L432.8 360.4 L431.9 360.9 L431.4 361.2 L430.9 361.5 L430.2 361.9 L429.4 362.3 L428.9 362.6 L428.3 362.9 L427.4 363.4 L426.9 363.6 L426.4 363.9 L425.4 364.4 L424.9 364.6 L424.3 364.9 L423.4 365.3 L422.9 365.6 L422.2 365.9 L421.4 366.2 L420.9 366.4 L419.9 366.9 L419.4 367.1 L418.6 367.4 L417.9 367.7 L417.4 367.9 L416.4 368.0 L415.4 368.0 L414.4 368.0 L413.4 368.0 L412.4 368.0 L411.4 368.0 L410.4 368.0 L409.4 368.0 L408.4 368.0 L407.4 368.0 L406.4 367.9 L405.9 367.9 L404.9 367.8 L403.9 367.7 L402.9 367.5 L402.4 367.4 L401.4 367.1 L400.9 366.8 L400.3 366.4 L399.8 365.9 L399.4 365.4 L398.9 364.4 L398.7 363.9 L398.4 362.9 L398.3 362.4 L398.2 361.4 L398.1 360.4 L398.0 359.4 L397.9 358.4 L397.9 357.8 L397.9 356.9 L397.8 355.9 L397.8 354.9 L397.8 353.9 L397.8 352.9 L397.8 351.9 L397.8 350.9 L397.8 349.9 L397.8 348.9 L397.8 347.9 L397.8 346.9 L397.8 345.9 L397.8 344.9 L397.8 343.9 L397.8 342.9 L397.8 341.9 L397.8 340.9 L397.8 339.9 L397.8 338.9 L397.8 337.9 L397.8 336.9 L397.9 336.2 L398.1 335.4 L398.3 334.4 L398.4 333.9 L398.7 332.9 L398.9 332.1 L399.1 331.4 L399.4 330.7 L399.7 329.9 L400.0 329.4 L400.4 328.6 L400.9 327.9 L401.2 327.4 L401.6 326.9 L402.0 326.4 L402.5 325.9 L403.0 325.4 L403.5 324.9 L404.0 324.4 L404.5 323.9 L405.0 323.4 L405.5 322.9 L406.0 322.4 L406.4 321.9 L406.8 321.4M445.9 344.2 L445.4 344.7 L444.9 345.2 L444.4 345.7 L443.9 346.2 L443.4 346.7 L442.9 347.2 L442.4 347.7 L441.9 348.1 L441.4 348.6 L440.9 349.0 L440.4 349.5 L439.9 349.9 L439.3 350.4 L438.7 350.9 L438.1 351.4 L437.5 351.9 L436.9 352.4 L436.4 352.8 L435.9 353.1 L435.4 353.5 L434.9 353.9 L434.2 354.4 L433.5 354.9 L432.9 355.3 L432.4 355.6 L431.9 356.0 L431.2 356.4 L430.5 356.9 L429.9 357.3 L429.4 357.6 L428.8 357.9 L428.0 358.4 L427.4 358.8 L426.9 359.0 L426.3 359.4 L425.4 359.9 L424.9 360.2 L424.4 360.4 L423.5 360.9 L422.9 361.2 L422.4 361.5 L421.5 361.9 L420.9 362.2 L420.4 362.5 L419.5 362.9 L418.9 363.2 L418.4 363.4 L417.4 363.8 L416.9 364.0 L415.9 364.0 L414.9 364.0 L413.9 364.0 L412.9 364.0 L411.9 364.0 L410.9 363.9 L409.9 363.9 L409.4 363.9 L408.4 363.8 L407.4 363.7 L406.4 363.6 L405.5 363.4 L404.9 363.2 L404.1 362.9 L403.4 362.5 L402.9 362.0 L402.4 361.4 L402.1 360.9 L401.9 360.4 L401.5 359.4 L401.4 358.9 L401.2 357.9 L401.1 356.9 L401.0 355.9 L400.9 354.9 L400.9 354.4 L400.8 353.4 L400.8 352.4 L400.8 351.4 L400.8 350.4 L400.7 349.4 L400.7 348.4 L400.7 347.4 L400.7 346.4 L400.7 345.4 L400.7 344.4 L400.7 343.4 L400.7 342.4 L400.7 341.4 L400.7 340.4 L400.7 339.4 L400.7 338.4 L400.7 337.4 L400.9 336.4 L401.1 335.9 L401.4 335.1 L401.7 334.4 L401.9 333.9 L402.4 333.0 L402.7 332.4 L403.0 331.9 L403.4 331.2 L403.9 330.5 L404.3 329.9 L404.7 329.4 L405.0 328.9 L405.4 328.4 L405.9 327.7 L406.4 327.0 L406.8 326.4 L407.2 325.9 L407.5 325.4 L407.9 324.7 L408.4 323.9 L408.7 323.4 L409.0 322.9 L409.4 322.2 L409.9 321.4M445.9 337.9 L445.5 338.4 L445.0 338.9 L444.6 339.4 L444.1 339.9 L443.7 340.4 L443.2 340.9 L442.8 341.4 L442.3 341.9 L441.8 342.4 L441.3 342.9 L440.8 343.4 L440.3 343.9 L439.8 344.4 L439.3 344.9 L438.7 345.4 L438.2 345.9 L437.6 346.4 L437.0 346.9 L436.5 347.4 L435.9 347.9 L435.4 348.3 L434.9 348.7 L434.4 349.1 L433.9 349.5 L433.4 349.9 L432.7 350.4 L432.1 350.9 L431.4 351.4 L430.9 351.7 L430.4 352.1 L429.9 352.4 L429.2 352.9 L428.5 353.4 L427.9 353.8 L427.4 354.1 L426.9 354.4 L426.2 354.9 L425.4 355.4 L424.9 355.7 L424.4 356.0 L423.7 356.4 L422.9 356.9 L422.4 357.1 L421.9 357.4 L421.0 357.9 L420.4 358.2 L419.9 358.5 L419.1 358.9 L418.4 359.3 L417.9 359.5 L417.1 359.9 L416.4 360.0 L415.4 359.9 L414.4 359.9 L413.4 359.9 L412.9 359.9 L411.9 359.8 L410.9 359.8 L409.9 359.7 L408.9 359.5 L408.4 359.4 L407.4 359.0 L406.9 358.8 L406.3 358.4 L405.7 357.9 L405.3 357.4 L404.9 356.6 L404.6 355.9 L404.4 355.1 L404.2 354.4 L404.1 353.4 L404.0 352.4 L403.9 351.7 L403.8 350.9 L403.8 349.9 L403.8 348.9 L403.7 347.9 L403.7 346.9 L403.7 345.9 L403.7 344.9 L403.7 343.9 L403.7 342.9 L403.7 341.9 L403.6 340.9 L403.6 339.9 L403.6 338.9 L403.6 337.9 L403.7 336.9 L403.9 336.4 L404.4 335.5 L404.7 334.9 L405.0 334.4 L405.4 333.8 L405.9 333.0 L406.3 332.4 L406.6 331.9 L406.9 331.4 L407.4 330.6 L407.8 329.9 L408.1 329.4 L408.4 328.9 L408.9 328.1 L409.3 327.4 L409.6 326.9 L409.9 326.4 L410.4 325.5 L410.8 324.9 L411.0 324.4 L411.4 323.8 L411.9 323.0 L412.2 322.4 L412.5 321.9 L412.8 321.4M445.9 331.6 L445.4 332.3 L444.9 332.9 L444.5 333.4 L444.1 333.9 L443.7 334.4 L443.3 334.9 L442.8 335.4 L442.4 335.9 L441.9 336.5 L441.4 337.0 L440.9 337.6 L440.4 338.1 L439.9 338.7 L439.4 339.2 L438.9 339.7 L438.4 340.2 L437.9 340.7 L437.4 341.2 L436.9 341.7 L436.4 342.1 L435.9 342.6 L435.4 343.1 L434.9 343.5 L434.4 344.0 L433.9 344.4 L433.3 344.9 L432.7 345.4 L432.1 345.9 L431.5 346.4 L430.9 346.9 L430.4 347.3 L429.9 347.6 L429.4 348.0 L428.9 348.4 L428.2 348.9 L427.5 349.4 L426.9 349.8 L426.4 350.2 L425.9 350.5 L425.4 350.9 L424.6 351.4 L423.9 351.9 L423.4 352.2 L422.9 352.5 L422.3 352.9 L421.4 353.4 L420.9 353.7 L420.4 354.0 L419.7 354.4 L418.9 354.9 L418.4 355.1 L417.9 355.4 L416.9 355.9 L415.9 355.9 L414.9 355.8 L413.9 355.7 L412.9 355.6 L411.9 355.5 L411.4 355.4 L410.4 355.0 L409.9 354.8 L409.3 354.4 L408.7 353.9 L408.3 353.4 L407.9 352.7 L407.6 351.9 L407.4 351.3 L407.2 350.4 L407.0 349.4 L406.9 348.4 L406.9 347.9 L406.8 346.9 L406.7 345.9 L406.7 344.9 L406.7 343.9 L406.6 342.9 L406.6 341.9 L406.6 340.9 L406.6 339.9 L406.6 338.9 L406.6 337.9 L406.6 336.9 L406.9 336.4 L407.4 335.6 L407.8 334.9 L408.1 334.4 L408.4 333.9 L408.9 333.1 L409.3 332.4 L409.6 331.9 L409.9 331.4 L410.4 330.5 L410.8 329.9 L411.0 329.4 L411.4 328.8 L411.9 328.0 L412.2 327.4 L412.5 326.9 L412.9 326.3 L413.4 325.4 L413.7 324.9 L414.0 324.4 L414.4 323.7 L414.9 322.9 L415.2 322.4 L415.5 321.9 L415.8 321.4M445.9 325.3 L444.9 325.0 L444.4 324.7 L443.9 324.4 L443.3 323.9 L442.9 323.4 L442.4 322.8 L441.9 321.9 L441.7 321.4M420.4 342.5 L419.4 342.8 L418.4 342.7 L417.9 342.4 L417.4 341.8 L417.1 340.9 L417.4 339.9 L417.7 339.4 L418.4 338.9 L418.9 338.8 L419.9 338.9 L420.4 339.1 L420.9 339.7 L421.2 340.4 L421.2 341.4 L420.9 341.9 L420.4 342.5" fill="none" stroke="#ffffff" stroke-opacity="0.75" stroke-width="0.95" stroke-linejoin="round"/><line x1="254.4" y1="322.8" x2="254.4" y2="407.8" stroke="#4a4a4a" stroke-width="0.6" stroke-dasharray="0.9 1.6"/><line x1="289.5" y1="322.8" x2="289.5" y2="407.8" stroke="#4a4a4a" stroke-width="0.6" stroke-dasharray="0.9 1.6"/><line x1="324.5" y1="322.8" x2="324.5" y2="407.8" stroke="#4a4a4a" stroke-width="0.6" stroke-dasharray="0.9 1.6"/><line x1="249.5" y1="324.7" x2="332.5" y2="324.7" stroke="#4a4a4a" stroke-width="0.6" stroke-dasharray="0.9 1.6"/><line x1="249.5" y1="351.2" x2="332.5" y2="351.2" stroke="#4a4a4a" stroke-width="0.6" stroke-dasharray="0.9 1.6"/><line x1="249.5" y1="377.4" x2="332.5" y2="377.4" stroke="#4a4a4a" stroke-width="0.6" stroke-dasharray="0.9 1.6"/><line x1="249.5" y1="403.4" x2="332.5" y2="403.4" stroke="#4a4a4a" stroke-width="0.6" stroke-dasharray="0.9 1.6"/><text x="254.4" y="416.47" font-size="6.3" text-anchor="middle">0</text><text x="289.5" y="416.47" font-size="6.3" text-anchor="middle">25</text><text x="324.5" y="416.47" font-size="6.3" text-anchor="middle">50</text><line x1="247.6" y1="324.7" x2="250.8" y2="324.7" stroke="#444" stroke-width="0.6"/><text x="246.4" y="326.64" font-size="5.4" text-anchor="end">1</text><line x1="247.6" y1="351.2" x2="250.8" y2="351.2" stroke="#444" stroke-width="0.6"/><text x="246.4" y="353.14" font-size="5.4" text-anchor="end">0.5</text><line x1="247.6" y1="377.4" x2="250.8" y2="377.4" stroke="#444" stroke-width="0.6"/><text x="246.4" y="379.34" font-size="5.4" text-anchor="end">0.25</text><line x1="247.6" y1="403.4" x2="250.8" y2="403.4" stroke="#444" stroke-width="0.6"/><text x="246.4" y="405.34" font-size="5.4" text-anchor="end">0</text><text x="290.6" y="309.05" font-size="6.8" text-anchor="middle" fill="#3a3a3a">MAC1</text><text x="290.6" y="317.81" font-size="7.26" text-anchor="middle" fill="#3a3a3a" textLength="74.8" lengthAdjust="spacingAndGlyphs">HSA synergy score: 18.67</text><text x="290.6" y="425.99" font-size="7.48" text-anchor="middle" fill="#3a3a3a" textLength="43.5" lengthAdjust="spacingAndGlyphs">Ruxolitinib (nM)</text><text x="230.3" y="366.81" font-size="7.26" text-anchor="middle" fill="#3a3a3a" font-style="italic" textLength="49.5" lengthAdjust="spacingAndGlyphs" transform="rotate(-90 230.3 364.2)">AS2444697 (&#956;M)</text><line x1="370" y1="322.8" x2="370" y2="407.8" stroke="#4a4a4a" stroke-width="0.6" stroke-dasharray="0.9 1.6"/><line x1="406.6" y1="322.8" x2="406.6" y2="407.8" stroke="#4a4a4a" stroke-width="0.6" stroke-dasharray="0.9 1.6"/><line x1="441.4" y1="322.8" x2="441.4" y2="407.8" stroke="#4a4a4a" stroke-width="0.6" stroke-dasharray="0.9 1.6"/><line x1="365.2" y1="325" x2="448.5" y2="325" stroke="#4a4a4a" stroke-width="0.6" stroke-dasharray="0.9 1.6"/><line x1="365.2" y1="351.2" x2="448.5" y2="351.2" stroke="#4a4a4a" stroke-width="0.6" stroke-dasharray="0.9 1.6"/><line x1="365.2" y1="377.3" x2="448.5" y2="377.3" stroke="#4a4a4a" stroke-width="0.6" stroke-dasharray="0.9 1.6"/><line x1="365.2" y1="403.4" x2="448.5" y2="403.4" stroke="#4a4a4a" stroke-width="0.6" stroke-dasharray="0.9 1.6"/><text x="370" y="416.47" font-size="6.3" text-anchor="middle">0</text><text x="406.6" y="416.47" font-size="6.3" text-anchor="middle">50</text><text x="441.4" y="416.47" font-size="6.3" text-anchor="middle">100</text><line x1="363.2" y1="325" x2="366.4" y2="325" stroke="#444" stroke-width="0.6"/><text x="362" y="326.94" font-size="5.4" text-anchor="end">1</text><line x1="363.2" y1="351.2" x2="366.4" y2="351.2" stroke="#444" stroke-width="0.6"/><text x="362" y="353.14" font-size="5.4" text-anchor="end">0.5</text><line x1="363.2" y1="377.3" x2="366.4" y2="377.3" stroke="#444" stroke-width="0.6"/><text x="362" y="379.24" font-size="5.4" text-anchor="end">0.25</text><line x1="363.2" y1="403.4" x2="366.4" y2="403.4" stroke="#444" stroke-width="0.6"/><text x="362" y="405.34" font-size="5.4" text-anchor="end">0</text><text x="407.6" y="309.05" font-size="6.8" text-anchor="middle" fill="#3a3a3a">MAC2A</text><text x="407.6" y="317.81" font-size="7.26" text-anchor="middle" fill="#3a3a3a" textLength="74.8" lengthAdjust="spacingAndGlyphs">HSA synergy score: 16.65</text><text x="407.6" y="425.99" font-size="7.48" text-anchor="middle" fill="#3a3a3a" textLength="43.5" lengthAdjust="spacingAndGlyphs">Ruxolitinib (nM)</text><text x="345.2" y="366.81" font-size="7.26" text-anchor="middle" fill="#3a3a3a" font-style="italic" textLength="49.5" lengthAdjust="spacingAndGlyphs" transform="rotate(-90 345.2 364.2)">AS2444697 (&#956;M)</text><rect x="452.7" y="343.4" width="7.3" height="44.4" fill="url(#cbar)"/><text x="460.4" y="341.02" font-size="6.16" text-anchor="middle" textLength="18.8" lengthAdjust="spacingAndGlyphs">&#948;&#8211;score</text><text x="462" y="346.94" font-size="5.4">30</text><text x="462" y="354.14" font-size="5.4">20</text><text x="462" y="360.84" font-size="5.4">10</text><text x="462" y="367.54" font-size="5.4">0</text><text x="461" y="375.24" font-size="5.4">&#8722;10</text><text x="461" y="381.44" font-size="5.4">&#8722;20</text><text x="461" y="388.54" font-size="5.4">&#8722;30</text><line x1="38.5" y1="450.2" x2="38.5" y2="601.5" stroke="#151515" stroke-width="1"/><line x1="35.8" y1="601" x2="38.7" y2="601" stroke="#1e1e1e" stroke-width="0.7"/><text x="33.2" y="603.02" font-size="5.6" text-anchor="end">0</text><line x1="35.8" y1="586.26" x2="38.7" y2="586.26" stroke="#1e1e1e" stroke-width="0.7"/><text x="33.2" y="588.28" font-size="5.6" text-anchor="end">100</text><line x1="35.8" y1="571.52" x2="38.7" y2="571.52" stroke="#1e1e1e" stroke-width="0.7"/><text x="33.2" y="573.54" font-size="5.6" text-anchor="end">200</text><line x1="35.8" y1="556.78" x2="38.7" y2="556.78" stroke="#1e1e1e" stroke-width="0.7"/><text x="33.2" y="558.8" font-size="5.6" text-anchor="end">300</text><line x1="35.8" y1="542.04" x2="38.7" y2="542.04" stroke="#1e1e1e" stroke-width="0.7"/><text x="33.2" y="544.06" font-size="5.6" text-anchor="end">400</text><line x1="35.8" y1="527.3" x2="38.7" y2="527.3" stroke="#1e1e1e" stroke-width="0.7"/><text x="33.2" y="529.32" font-size="5.6" text-anchor="end">500</text><line x1="35.8" y1="512.56" x2="38.7" y2="512.56" stroke="#1e1e1e" stroke-width="0.7"/><text x="33.2" y="514.58" font-size="5.6" text-anchor="end">600</text><line x1="35.8" y1="497.82" x2="38.7" y2="497.82" stroke="#1e1e1e" stroke-width="0.7"/><text x="33.2" y="499.84" font-size="5.6" text-anchor="end">700</text><line x1="35.8" y1="483.08" x2="38.7" y2="483.08" stroke="#1e1e1e" stroke-width="0.7"/><text x="33.2" y="485.1" font-size="5.6" text-anchor="end">800</text><line x1="35.8" y1="468.34" x2="38.7" y2="468.34" stroke="#1e1e1e" stroke-width="0.7"/><text x="33.2" y="470.36" font-size="5.6" text-anchor="end">900</text><line x1="35.8" y1="453.6" x2="38.7" y2="453.6" stroke="#1e1e1e" stroke-width="0.7"/><text x="33.2" y="455.62" font-size="5.6" text-anchor="end">1000</text><line x1="38" y1="601.5" x2="183.7" y2="601.5" stroke="#151515" stroke-width="1"/><line x1="62.6" y1="600.5" x2="62.6" y2="603.4" stroke="#1e1e1e" stroke-width="0.7"/><line x1="86.2" y1="600.5" x2="86.2" y2="603.4" stroke="#1e1e1e" stroke-width="0.7"/><line x1="109.8" y1="600.5" x2="109.8" y2="603.4" stroke="#1e1e1e" stroke-width="0.7"/><line x1="133.4" y1="600.5" x2="133.4" y2="603.4" stroke="#1e1e1e" stroke-width="0.7"/><line x1="157" y1="600.5" x2="157" y2="603.4" stroke="#1e1e1e" stroke-width="0.7"/><line x1="180.6" y1="600.5" x2="180.6" y2="603.4" stroke="#1e1e1e" stroke-width="0.7"/><line x1="39" y1="601" x2="39" y2="603" stroke="#1e1e1e" stroke-width="0.7"/><text x="50.8" y="612.13" font-size="6.2" text-anchor="middle">0</text><text x="74.4" y="612.13" font-size="6.2" text-anchor="middle">2</text><text x="98" y="612.13" font-size="6.2" text-anchor="middle">4</text><text x="121.6" y="612.13" font-size="6.2" text-anchor="middle">6</text><text x="145.2" y="612.13" font-size="6.2" text-anchor="middle">8</text><text x="168.8" y="612.13" font-size="6.2" text-anchor="middle">10</text><text x="111.5" y="621.59" font-size="7.48" text-anchor="middle" fill="#3a3a3a" textLength="66" lengthAdjust="spacingAndGlyphs">Days after first treatment</text><text x="12.6" y="527.3" font-size="6.4" text-anchor="middle" fill="#3a3a3a" transform="rotate(-90 12.6 525)">Tumor volume (mm<tspan font-size="4" dy="-2.2">3</tspan><tspan dy="2.2">)</tspan></text><path d="M50.8 579.48 L74.4 570.05 L98 555.16 L121.6 535.26 L145.2 506.96 L168.8 470.55" fill="none" stroke="#c4143c" stroke-width="1.15"/><path d="M50.8 579.48 L74.4 573.29 L98 560.47 L121.6 547.64 L145.2 535.85 L168.8 511.38" fill="none" stroke="#3db54a" stroke-width="1.15"/><path d="M50.8 580.36 L74.4 577.27 L98 567.54 L121.6 555.75 L145.2 542.33 L168.8 519.49" fill="none" stroke="#1f4d94" stroke-width="1.15"/><path d="M50.8 579.48 L74.4 578.74 L98 574.62 L121.6 570.05 L145.2 563.27 L168.8 552.51" fill="none" stroke="#f7a035" stroke-width="1.15"/><circle cx="50.8" cy="579.48" r="2.5" fill="#c4143c"/><line x1="74.4" y1="571.23" x2="74.4" y2="568.87" stroke="#444" stroke-width="0.5"/><line x1="73.5" y1="568.87" x2="75.3" y2="568.87" stroke="#444" stroke-width="0.5"/><line x1="73.5" y1="571.23" x2="75.3" y2="571.23" stroke="#444" stroke-width="0.5"/><circle cx="74.4" cy="570.05" r="2.5" fill="#c4143c"/><line x1="98" y1="556.93" x2="98" y2="553.39" stroke="#444" stroke-width="0.5"/><line x1="97.1" y1="553.39" x2="98.9" y2="553.39" stroke="#444" stroke-width="0.5"/><line x1="97.1" y1="556.93" x2="98.9" y2="556.93" stroke="#444" stroke-width="0.5"/><circle cx="98" cy="555.16" r="2.5" fill="#c4143c"/><line x1="121.6" y1="537.47" x2="121.6" y2="533.05" stroke="#444" stroke-width="0.5"/><line x1="120.7" y1="533.05" x2="122.5" y2="533.05" stroke="#444" stroke-width="0.5"/><line x1="120.7" y1="537.47" x2="122.5" y2="537.47" stroke="#444" stroke-width="0.5"/><circle cx="121.6" cy="535.26" r="2.5" fill="#c4143c"/><line x1="145.2" y1="513.3" x2="145.2" y2="500.62" stroke="#444" stroke-width="0.5"/><line x1="144.3" y1="500.62" x2="146.1" y2="500.62" stroke="#444" stroke-width="0.5"/><line x1="144.3" y1="513.3" x2="146.1" y2="513.3" stroke="#444" stroke-width="0.5"/><circle cx="145.2" cy="506.96" r="2.5" fill="#c4143c"/><line x1="168.8" y1="480.13" x2="168.8" y2="460.97" stroke="#444" stroke-width="0.5"/><line x1="167.9" y1="460.97" x2="169.7" y2="460.97" stroke="#444" stroke-width="0.5"/><line x1="167.9" y1="480.13" x2="169.7" y2="480.13" stroke="#444" stroke-width="0.5"/><circle cx="168.8" cy="470.55" r="2.5" fill="#c4143c"/><path d="M50.8 576.98L53.3 579.48L50.8 581.98L48.3 579.48Z" fill="#3db54a"/><path d="M74.4 570.79L76.9 573.29L74.4 575.79L71.9 573.29Z" fill="#3db54a"/><line x1="98" y1="561.94" x2="98" y2="558.99" stroke="#444" stroke-width="0.5"/><line x1="97.1" y1="558.99" x2="98.9" y2="558.99" stroke="#444" stroke-width="0.5"/><line x1="97.1" y1="561.94" x2="98.9" y2="561.94" stroke="#444" stroke-width="0.5"/><path d="M98 557.97L100.5 560.47L98 562.97L95.5 560.47Z" fill="#3db54a"/><line x1="121.6" y1="552.06" x2="121.6" y2="543.22" stroke="#444" stroke-width="0.5"/><line x1="120.7" y1="543.22" x2="122.5" y2="543.22" stroke="#444" stroke-width="0.5"/><line x1="120.7" y1="552.06" x2="122.5" y2="552.06" stroke="#444" stroke-width="0.5"/><path d="M121.6 545.14L124.1 547.64L121.6 550.14L119.1 547.64Z" fill="#3db54a"/><line x1="145.2" y1="537.62" x2="145.2" y2="534.08" stroke="#444" stroke-width="0.5"/><line x1="144.3" y1="534.08" x2="146.1" y2="534.08" stroke="#444" stroke-width="0.5"/><line x1="144.3" y1="537.62" x2="146.1" y2="537.62" stroke="#444" stroke-width="0.5"/><path d="M145.2 533.35L147.7 535.85L145.2 538.35L142.7 535.85Z" fill="#3db54a"/><line x1="168.8" y1="515.51" x2="168.8" y2="507.25" stroke="#444" stroke-width="0.5"/><line x1="167.9" y1="507.25" x2="169.7" y2="507.25" stroke="#444" stroke-width="0.5"/><line x1="167.9" y1="515.51" x2="169.7" y2="515.51" stroke="#444" stroke-width="0.5"/><path d="M168.8 508.88L171.3 511.38L168.8 513.88L166.3 511.38Z" fill="#3db54a"/><path d="M50.8 577.72L53.2 582.16L48.4 582.16Z" fill="#1f4d94"/><path d="M74.4 574.63L76.8 579.07L72 579.07Z" fill="#1f4d94"/><line x1="98" y1="570.05" x2="98" y2="565.03" stroke="#444" stroke-width="0.5"/><line x1="97.1" y1="565.03" x2="98.9" y2="565.03" stroke="#444" stroke-width="0.5"/><line x1="97.1" y1="570.05" x2="98.9" y2="570.05" stroke="#444" stroke-width="0.5"/><path d="M98 564.9L100.4 569.34L95.6 569.34Z" fill="#1f4d94"/><line x1="121.6" y1="557.81" x2="121.6" y2="553.68" stroke="#444" stroke-width="0.5"/><line x1="120.7" y1="553.68" x2="122.5" y2="553.68" stroke="#444" stroke-width="0.5"/><line x1="120.7" y1="557.81" x2="122.5" y2="557.81" stroke="#444" stroke-width="0.5"/><path d="M121.6 553.11L124 557.55L119.2 557.55Z" fill="#1f4d94"/><line x1="145.2" y1="543.81" x2="145.2" y2="540.86" stroke="#444" stroke-width="0.5"/><line x1="144.3" y1="540.86" x2="146.1" y2="540.86" stroke="#444" stroke-width="0.5"/><line x1="144.3" y1="543.81" x2="146.1" y2="543.81" stroke="#444" stroke-width="0.5"/><path d="M145.2 539.69L147.6 544.13L142.8 544.13Z" fill="#1f4d94"/><line x1="168.8" y1="524.65" x2="168.8" y2="514.33" stroke="#444" stroke-width="0.5"/><line x1="167.9" y1="514.33" x2="169.7" y2="514.33" stroke="#444" stroke-width="0.5"/><line x1="167.9" y1="524.65" x2="169.7" y2="524.65" stroke="#444" stroke-width="0.5"/><path d="M168.8 516.85L171.2 521.29L166.4 521.29Z" fill="#1f4d94"/><circle cx="50.8" cy="579.48" r="2.5" fill="#f7a035"/><circle cx="74.4" cy="578.74" r="2.5" fill="#f7a035"/><circle cx="98" cy="574.62" r="2.5" fill="#f7a035"/><line x1="121.6" y1="571.23" x2="121.6" y2="568.87" stroke="#444" stroke-width="0.5"/><line x1="120.7" y1="568.87" x2="122.5" y2="568.87" stroke="#444" stroke-width="0.5"/><line x1="120.7" y1="571.23" x2="122.5" y2="571.23" stroke="#444" stroke-width="0.5"/><circle cx="121.6" cy="570.05" r="2.5" fill="#f7a035"/><line x1="145.2" y1="565.33" x2="145.2" y2="561.2" stroke="#444" stroke-width="0.5"/><line x1="144.3" y1="561.2" x2="146.1" y2="561.2" stroke="#444" stroke-width="0.5"/><line x1="144.3" y1="565.33" x2="146.1" y2="565.33" stroke="#444" stroke-width="0.5"/><circle cx="145.2" cy="563.27" r="2.5" fill="#f7a035"/><line x1="168.8" y1="554.72" x2="168.8" y2="550.29" stroke="#444" stroke-width="0.5"/><line x1="167.9" y1="550.29" x2="169.7" y2="550.29" stroke="#444" stroke-width="0.5"/><line x1="167.9" y1="554.72" x2="169.7" y2="554.72" stroke="#444" stroke-width="0.5"/><circle cx="168.8" cy="552.51" r="2.5" fill="#f7a035"/><path d="M120.3 564.8L120.3 566.8M121.17 565.3L119.43 566.3M121.17 566.3L119.43 565.3" fill="none" stroke="#2a2a2a" stroke-width="0.55"/><path d="M122.9 564.8L122.9 566.8M123.77 565.3L122.03 566.3M123.77 566.3L122.03 565.3" fill="none" stroke="#2a2a2a" stroke-width="0.55"/><path d="M143.9 557.6L143.9 559.6M144.77 558.1L143.03 559.1M144.77 559.1L143.03 558.1" fill="none" stroke="#2a2a2a" stroke-width="0.55"/><path d="M146.5 557.6L146.5 559.6M147.37 558.1L145.63 559.1M147.37 559.1L145.63 558.1" fill="none" stroke="#2a2a2a" stroke-width="0.55"/><path d="M167.5 546.4L167.5 548.4M168.37 546.9L166.63 547.9M168.37 547.9L166.63 546.9" fill="none" stroke="#2a2a2a" stroke-width="0.55"/><path d="M170.1 546.4L170.1 548.4M170.97 546.9L169.23 547.9M170.97 547.9L169.23 546.9" fill="none" stroke="#2a2a2a" stroke-width="0.55"/><line x1="45.4" y1="462.9" x2="61" y2="462.9" stroke="#c4143c" stroke-width="1.1"/><circle cx="52.9" cy="462.9" r="3.5" fill="#c4143c"/><line x1="45.4" y1="475.8" x2="61" y2="475.8" stroke="#3db54a" stroke-width="1.1"/><path d="M52.9 473.2L55.5 475.8L52.9 478.4L50.3 475.8Z" fill="#3db54a"/><line x1="45.4" y1="488.5" x2="61" y2="488.5" stroke="#1f4d94" stroke-width="1.1"/><path d="M52.9 485.42L55.7 490.6L50.1 490.6Z" fill="#1f4d94"/><line x1="45.4" y1="503.8" x2="61" y2="503.8" stroke="#f7a035" stroke-width="1.1"/><circle cx="52.9" cy="503.8" r="3.5" fill="#f7a035"/><text x="62.9" y="465.04" font-size="5.94" textLength="35" lengthAdjust="spacingAndGlyphs">Vehicle (n = 7)</text><text x="62.9" y="477.94" font-size="5.94" textLength="44.4" lengthAdjust="spacingAndGlyphs">AS2444697 (n = 7)</text><text x="62.9" y="490.64" font-size="5.94" textLength="43" lengthAdjust="spacingAndGlyphs">Ruxolitinib (n = 7)</text><text x="63.7" y="502.04" font-size="5.94" textLength="27.5" lengthAdjust="spacingAndGlyphs">AS2444697</text><text x="64.5" y="508.34" font-size="5.94" textLength="46" lengthAdjust="spacingAndGlyphs">+Ruxolitinib (n = 7)</text><line x1="242.5" y1="460.5" x2="242.5" y2="561.7" stroke="#151515" stroke-width="1"/><line x1="239.9" y1="561.2" x2="242.7" y2="561.2" stroke="#1e1e1e" stroke-width="0.7"/><text x="238.2" y="563.11" font-size="5.3" text-anchor="end">0</text><line x1="239.9" y1="528.35" x2="242.7" y2="528.35" stroke="#1e1e1e" stroke-width="0.7"/><text x="238.2" y="530.26" font-size="5.3" text-anchor="end">0.5</text><line x1="239.9" y1="495.5" x2="242.7" y2="495.5" stroke="#1e1e1e" stroke-width="0.7"/><text x="238.2" y="497.41" font-size="5.3" text-anchor="end">1.0</text><line x1="239.9" y1="462.65" x2="242.7" y2="462.65" stroke="#1e1e1e" stroke-width="0.7"/><text x="238.2" y="464.56" font-size="5.3" text-anchor="end">1.5</text><line x1="242" y1="561.5" x2="323.4" y2="561.5" stroke="#151515" stroke-width="1"/><line x1="255.8" y1="561.2" x2="255.8" y2="563.5" stroke="#1e1e1e" stroke-width="0.7"/><line x1="275.4" y1="561.2" x2="275.4" y2="563.5" stroke="#1e1e1e" stroke-width="0.7"/><line x1="295" y1="561.2" x2="295" y2="563.5" stroke="#1e1e1e" stroke-width="0.7"/><line x1="314.6" y1="561.2" x2="314.6" y2="563.5" stroke="#1e1e1e" stroke-width="0.7"/><text x="222.1" y="512.33" font-size="7.04" text-anchor="middle" fill="#3a3a3a" textLength="47.5" lengthAdjust="spacingAndGlyphs" transform="rotate(-90 222.1 509.8)">Tumor weight (g)</text><path d="M254.8 483.3L254.8 478.2L294.0 478.2L294.0 515.2" fill="none" stroke="#555" stroke-width="0.6"/><path d="M296.4 514.7L296.4 505.4L314.6 505.4L314.6 531.3" fill="none" stroke="#555" stroke-width="0.6"/><path d="M273 475.8L273 477.8M273.87 476.3L272.13 477.3M273.87 477.3L272.13 476.3" fill="none" stroke="#2a2a2a" stroke-width="0.55"/><path d="M275.6 475.8L275.6 477.8M276.47 476.3L274.73 477.3M276.47 477.3L274.73 476.3" fill="none" stroke="#2a2a2a" stroke-width="0.55"/><path d="M304.4 501.4L304.4 503.4M305.27 501.9L303.53 502.9M305.27 502.9L303.53 501.9" fill="none" stroke="#2a2a2a" stroke-width="0.55"/><path d="M307 501.4L307 503.4M307.87 501.9L306.13 502.9M307.87 502.9L306.13 501.9" fill="none" stroke="#2a2a2a" stroke-width="0.55"/><circle cx="254" cy="517.18" r="1.7" fill="#c8102e"/><circle cx="252.6" cy="511.93" r="1.7" fill="#c8102e"/><circle cx="256.6" cy="512.58" r="1.7" fill="#c8102e"/><circle cx="259.8" cy="512.25" r="1.7" fill="#c8102e"/><circle cx="253.2" cy="507.98" r="1.7" fill="#c8102e"/><circle cx="254" cy="500.76" r="1.7" fill="#c8102e"/><circle cx="258.8" cy="495.5" r="1.7" fill="#c8102e"/><line x1="251.5" y1="508.8" x2="262.6" y2="508.8" stroke="#c8102e" stroke-width="0.8"/><line x1="257" y1="508.8" x2="257" y2="505.8" stroke="#c8102e" stroke-width="0.6"/><line x1="255.8" y1="505.8" x2="258.2" y2="505.8" stroke="#c8102e" stroke-width="0.6"/><rect x="273.65" y="516.95" width="3.1" height="3.1" fill="#3bb04a"/><rect x="267.85" y="523.84" width="3.1" height="3.1" fill="#3bb04a"/><rect x="279.55" y="523.52" width="3.1" height="3.1" fill="#3bb04a"/><rect x="273.65" y="524.5" width="3.1" height="3.1" fill="#3bb04a"/><rect x="269.85" y="528.77" width="3.1" height="3.1" fill="#3bb04a"/><rect x="274.95" y="529.43" width="3.1" height="3.1" fill="#3bb04a"/><rect x="278.65" y="528.11" width="3.1" height="3.1" fill="#3bb04a"/><line x1="269.5" y1="526.2" x2="281.2" y2="526.2" stroke="#3bb04a" stroke-width="0.8"/><path d="M290.2 523.3L292.1 526.82L288.3 526.82Z" fill="#1b3f8c"/><path d="M299.7 522.32L301.6 525.83L297.8 525.83Z" fill="#1b3f8c"/><path d="M295.1 526.59L297 530.1L293.2 530.1Z" fill="#1b3f8c"/><path d="M292.4 530.86L294.3 534.37L290.5 534.37Z" fill="#1b3f8c"/><path d="M296.9 530.86L298.8 534.37L295 534.37Z" fill="#1b3f8c"/><path d="M294 528.89L295.9 532.4L292.1 532.4Z" fill="#1b3f8c"/><line x1="289" y1="529.6" x2="300.8" y2="529.6" stroke="#1b3f8c" stroke-width="0.8"/><path d="M314.6 538L316.5 534.48L312.7 534.48Z" fill="#f5a030"/><path d="M311.2 540.95L313.1 537.44L309.3 537.44Z" fill="#f5a030"/><path d="M317.9 540.95L319.8 537.44L316 537.44Z" fill="#f5a030"/><path d="M312.3 544.57L314.2 541.05L310.4 541.05Z" fill="#f5a030"/><path d="M316.8 544.57L318.7 541.05L314.9 541.05Z" fill="#f5a030"/><path d="M314.6 550.81L316.5 547.29L312.7 547.29Z" fill="#f5a030"/><path d="M314 542.92L315.9 539.41L312.1 539.41Z" fill="#f5a030"/><line x1="308.8" y1="540.8" x2="320.4" y2="540.8" stroke="#f5a030" stroke-width="0.8"/><circle cx="261.4" cy="571.4" r="2.2" fill="#c8102e"/><text x="266.4" y="573.5" font-size="5.83" textLength="17" lengthAdjust="spacingAndGlyphs">Vehicle</text><rect x="259.4" y="581.6" width="4" height="4" fill="#3bb04a"/><text x="266.4" y="585.7" font-size="5.83" textLength="27.7" lengthAdjust="spacingAndGlyphs">AS2444697</text><path d="M261.4 593.08L263.6 597.15L259.2 597.15Z" fill="#1b3f8c"/><text x="266.4" y="597.4" font-size="5.83" textLength="25.6" lengthAdjust="spacingAndGlyphs">Ruxolitinib</text><path d="M261.4 609.82L263.6 605.75L259.2 605.75Z" fill="#f5a030"/><text x="266.4" y="607.2" font-size="5.83" textLength="27.7" lengthAdjust="spacingAndGlyphs">AS2444697</text><text x="266.9" y="613.9" font-size="5.83" textLength="28.9" lengthAdjust="spacingAndGlyphs">+Ruxolitinib</text><rect x="345.6" y="468.8" width="135" height="104.4" fill="#fbfaf9"/><rect x="456" y="470.3" width="23.5" height="6.3" fill="#fcfbfa" stroke="#dcd8d0" stroke-width="0.5"/><line x1="457.5" y1="473.8" x2="457.5" y2="476.3" stroke="#c4c0b8" stroke-width="0.3"/><line x1="460.1" y1="473.8" x2="460.1" y2="476.3" stroke="#c4c0b8" stroke-width="0.3"/><line x1="462.7" y1="473.8" x2="462.7" y2="476.3" stroke="#c4c0b8" stroke-width="0.3"/><line x1="465.3" y1="473.8" x2="465.3" y2="476.3" stroke="#c4c0b8" stroke-width="0.3"/><line x1="467.9" y1="473.8" x2="467.9" y2="476.3" stroke="#c4c0b8" stroke-width="0.3"/><line x1="470.5" y1="473.8" x2="470.5" y2="476.3" stroke="#c4c0b8" stroke-width="0.3"/><line x1="473.1" y1="473.8" x2="473.1" y2="476.3" stroke="#c4c0b8" stroke-width="0.3"/><line x1="475.7" y1="473.8" x2="475.7" y2="476.3" stroke="#c4c0b8" stroke-width="0.3"/><line x1="478.3" y1="473.8" x2="478.3" y2="476.3" stroke="#c4c0b8" stroke-width="0.3"/><g filter="url(#tb)"><ellipse cx="356.8" cy="495" rx="5" ry="5.2" fill="url(#tum)" transform="rotate(-3 356.8 495)"/><ellipse cx="357.07" cy="496.99" rx="2.5" ry="2.01" fill="#ee9858" fill-opacity="0.36"/><ellipse cx="357.38" cy="496.37" rx="1.97" ry="1.61" fill="#e27040" fill-opacity="0.35"/><ellipse cx="358.56" cy="495.63" rx="2.69" ry="2.31" fill="#eea060" fill-opacity="0.64"/><ellipse cx="379.2" cy="495" rx="5.6" ry="4.8" fill="url(#tum)" transform="rotate(7 379.2 495)"/><ellipse cx="377.47" cy="492.9" rx="2.64" ry="2.51" fill="#e8803e" fill-opacity="0.31"/><ellipse cx="379.7" cy="496.2" rx="2.35" ry="2.01" fill="#ee9858" fill-opacity="0.48"/><ellipse cx="379.2" cy="495.7" rx="2.54" ry="2.08" fill="#e27040" fill-opacity="0.44"/><ellipse cx="399.4" cy="495" rx="5" ry="4.8" fill="url(#tum)" transform="rotate(26 399.4 495)"/><ellipse cx="397.52" cy="493.94" rx="2.8" ry="2.31" fill="#e27040" fill-opacity="0.31"/><ellipse cx="397.64" cy="493.31" rx="2.16" ry="2.03" fill="#e8803e" fill-opacity="0.64"/><ellipse cx="397.15" cy="493.75" rx="3.01" ry="2.66" fill="#eea060" fill-opacity="0.43"/><ellipse cx="417.4" cy="495" rx="4" ry="5.8" fill="url(#tum)" transform="rotate(-5 417.4 495)"/><ellipse cx="417.64" cy="493.43" rx="2.69" ry="1.97" fill="#e27040" fill-opacity="0.33"/><ellipse cx="419.07" cy="496.35" rx="1.93" ry="1.16" fill="#ee9858" fill-opacity="0.55"/><ellipse cx="417.27" cy="494.93" rx="2.7" ry="1.83" fill="#ee9858" fill-opacity="0.46"/><ellipse cx="432.4" cy="495" rx="5.2" ry="5" fill="url(#tum)" transform="rotate(14 432.4 495)"/><ellipse cx="430.67" cy="495.65" rx="2" ry="1.2" fill="#eea060" fill-opacity="0.65"/><ellipse cx="434.11" cy="497.14" rx="2.68" ry="2.03" fill="#e8803e" fill-opacity="0.37"/><ellipse cx="434.06" cy="495.64" rx="1.98" ry="1.39" fill="#ee9858" fill-opacity="0.37"/><ellipse cx="453.5" cy="495" rx="4.4" ry="5.2" fill="url(#tum)" transform="rotate(16 453.5 495)"/><ellipse cx="452.82" cy="494.05" rx="1.83" ry="1.56" fill="#e8803e" fill-opacity="0.37"/><ellipse cx="451.58" cy="494.39" rx="2.56" ry="2.03" fill="#ee9858" fill-opacity="0.64"/><ellipse cx="453.8" cy="496.72" rx="1.97" ry="1.36" fill="#ee9858" fill-opacity="0.41"/><ellipse cx="471.6" cy="495" rx="4.8" ry="4.8" fill="url(#tum)" transform="rotate(7 471.6 495)"/><ellipse cx="472.57" cy="493.52" rx="2.57" ry="1.94" fill="#ee9858" fill-opacity="0.54"/><ellipse cx="471.52" cy="493.18" rx="1.79" ry="1.76" fill="#e8803e" fill-opacity="0.31"/><ellipse cx="470.47" cy="495.88" rx="2.07" ry="1.39" fill="#eea060" fill-opacity="0.40"/><ellipse cx="352.9" cy="521.8" rx="4.4" ry="4.4" fill="url(#tum)" transform="rotate(13 352.9 521.8)"/><ellipse cx="351.19" cy="520.72" rx="2.27" ry="2.2" fill="#e8803e" fill-opacity="0.40"/><ellipse cx="351.73" cy="519.89" rx="1.92" ry="1.19" fill="#eea060" fill-opacity="0.39"/><ellipse cx="352.04" cy="521.92" rx="2.78" ry="2.66" fill="#e8803e" fill-opacity="0.43"/><ellipse cx="376" cy="521.8" rx="4.6" ry="4.4" fill="url(#tum)" transform="rotate(29 376 521.8)"/><ellipse cx="376.65" cy="522.56" rx="2.36" ry="2.28" fill="#ee9858" fill-opacity="0.51"/><ellipse cx="375.9" cy="521.24" rx="2.01" ry="1.72" fill="#e8803e" fill-opacity="0.31"/><ellipse cx="375.93" cy="522.71" rx="2.02" ry="1.65" fill="#e8803e" fill-opacity="0.33"/><ellipse cx="397.3" cy="521.8" rx="4.5" ry="4.2" fill="url(#tum)" transform="rotate(14 397.3 521.8)"/><ellipse cx="398.92" cy="522.7" rx="2.42" ry="2.12" fill="#e27040" fill-opacity="0.42"/><ellipse cx="398.92" cy="523.2" rx="2.07" ry="1.72" fill="#e8803e" fill-opacity="0.60"/><ellipse cx="397.81" cy="521.36" rx="2.28" ry="1.95" fill="#e8803e" fill-opacity="0.33"/><ellipse cx="418.4" cy="521.8" rx="4.3" ry="4.6" fill="url(#tum)" transform="rotate(30 418.4 521.8)"/><ellipse cx="419.87" cy="522.74" rx="2.09" ry="1.95" fill="#eea060" fill-opacity="0.45"/><ellipse cx="416.79" cy="522.84" rx="1.64" ry="1.13" fill="#e8803e" fill-opacity="0.47"/><ellipse cx="419.17" cy="521.79" rx="2.37" ry="1.43" fill="#eea060" fill-opacity="0.39"/><ellipse cx="433.6" cy="521.8" rx="4.6" ry="4.5" fill="url(#tum)" transform="rotate(-12 433.6 521.8)"/><ellipse cx="434.34" cy="520.6" rx="1.85" ry="1.44" fill="#e27040" fill-opacity="0.53"/><ellipse cx="435.22" cy="521.1" rx="2.49" ry="2.29" fill="#ee9858" fill-opacity="0.52"/><ellipse cx="434.65" cy="520.59" rx="1.91" ry="1.39" fill="#ee9858" fill-opacity="0.50"/><ellipse cx="452.6" cy="521.8" rx="4.3" ry="4.5" fill="url(#tum)" transform="rotate(-22 452.6 521.8)"/><ellipse cx="452.59" cy="523.17" rx="2.63" ry="1.87" fill="#e8803e" fill-opacity="0.63"/><ellipse cx="451.32" cy="521.6" rx="1.92" ry="1.45" fill="#ee9858" fill-opacity="0.59"/><ellipse cx="452.68" cy="522.5" rx="2.47" ry="2.3" fill="#eea060" fill-opacity="0.41"/><ellipse cx="468" cy="521.8" rx="4" ry="4.4" fill="url(#tum)" transform="rotate(-13 468 521.8)"/><ellipse cx="468.39" cy="522.51" rx="1.84" ry="1.69" fill="#e27040" fill-opacity="0.41"/><ellipse cx="466.27" cy="520.36" rx="2.05" ry="1.45" fill="#e8803e" fill-opacity="0.57"/><ellipse cx="469.01" cy="522.98" rx="2.67" ry="2.27" fill="#e8803e" fill-opacity="0.46"/><ellipse cx="354.2" cy="544.6" rx="3.9" ry="4.8" fill="url(#tum)" transform="rotate(9 354.2 544.6)"/><ellipse cx="355.28" cy="546.58" rx="2.4" ry="1.69" fill="#ee9858" fill-opacity="0.59"/><ellipse cx="354.95" cy="545.7" rx="2.22" ry="1.57" fill="#e8803e" fill-opacity="0.36"/><ellipse cx="353.66" cy="545.45" rx="2.2" ry="2.02" fill="#ee9858" fill-opacity="0.44"/><ellipse cx="373.7" cy="544.6" rx="4" ry="4.8" fill="url(#tum)" transform="rotate(24 373.7 544.6)"/><ellipse cx="372.21" cy="546.47" rx="2.47" ry="1.68" fill="#ee9858" fill-opacity="0.46"/><ellipse cx="375.09" cy="542.47" rx="2.26" ry="1.95" fill="#e27040" fill-opacity="0.46"/><ellipse cx="372.64" cy="545.56" rx="2.59" ry="2.49" fill="#e8803e" fill-opacity="0.37"/><ellipse cx="395" cy="544.6" rx="4.2" ry="4.2" fill="url(#tum)" transform="rotate(29 395 544.6)"/><ellipse cx="396.8" cy="544.74" rx="2.44" ry="2.17" fill="#e27040" fill-opacity="0.39"/><ellipse cx="393.17" cy="544.62" rx="1.56" ry="1.41" fill="#e27040" fill-opacity="0.49"/><ellipse cx="394.95" cy="542.82" rx="2.46" ry="1.51" fill="#e8803e" fill-opacity="0.45"/><ellipse cx="416.3" cy="544.6" rx="4.1" ry="4.1" fill="url(#tum)" transform="rotate(2 416.3 544.6)"/><ellipse cx="416.99" cy="546.14" rx="2.02" ry="1.61" fill="#eea060" fill-opacity="0.63"/><ellipse cx="417.96" cy="543.07" rx="1.73" ry="1.43" fill="#e27040" fill-opacity="0.59"/><ellipse cx="415.06" cy="544.65" rx="2.52" ry="1.89" fill="#e27040" fill-opacity="0.41"/><ellipse cx="433" cy="544.6" rx="4.3" ry="3.9" fill="url(#tum)" transform="rotate(21 433 544.6)"/><ellipse cx="434.55" cy="543.58" rx="2.45" ry="1.67" fill="#e27040" fill-opacity="0.50"/><ellipse cx="433.14" cy="544.61" rx="2.17" ry="1.34" fill="#e8803e" fill-opacity="0.49"/><ellipse cx="434.62" cy="544.75" rx="2.61" ry="2.29" fill="#e8803e" fill-opacity="0.47"/><ellipse cx="450.8" cy="544.6" rx="4.5" ry="3.9" fill="url(#tum)" transform="rotate(-26 450.8 544.6)"/><ellipse cx="450.96" cy="544.3" rx="2.64" ry="2.08" fill="#eea060" fill-opacity="0.39"/><ellipse cx="449.29" cy="544.37" rx="2.47" ry="1.59" fill="#eea060" fill-opacity="0.48"/><ellipse cx="450.47" cy="542.95" rx="1.82" ry="1.2" fill="#e8803e" fill-opacity="0.31"/><ellipse cx="467.5" cy="544.6" rx="4.2" ry="3.9" fill="url(#tum)" transform="rotate(-29 467.5 544.6)"/><ellipse cx="466.68" cy="545.38" rx="1.74" ry="1.55" fill="#eea060" fill-opacity="0.34"/><ellipse cx="466.07" cy="544.64" rx="1.74" ry="1.66" fill="#ee9858" fill-opacity="0.55"/><ellipse cx="465.7" cy="545.07" rx="2.39" ry="2.26" fill="#ee9858" fill-opacity="0.49"/><ellipse cx="356" cy="565.6" rx="4.1" ry="3.8" fill="url(#tum)" transform="rotate(2 356 565.6)"/><ellipse cx="354.96" cy="564.63" rx="2.02" ry="1.81" fill="#ee9858" fill-opacity="0.38"/><ellipse cx="357.15" cy="566.98" rx="1.77" ry="1.2" fill="#e27040" fill-opacity="0.61"/><ellipse cx="357.03" cy="564.56" rx="1.53" ry="0.97" fill="#ee9858" fill-opacity="0.35"/><ellipse cx="371.4" cy="565.6" rx="4" ry="3.8" fill="url(#tum)" transform="rotate(-7 371.4 565.6)"/><ellipse cx="371.17" cy="567.11" rx="2" ry="1.7" fill="#ee9858" fill-opacity="0.37"/><ellipse cx="372.48" cy="564.22" rx="2.03" ry="2" fill="#e27040" fill-opacity="0.62"/><ellipse cx="370.02" cy="565.62" rx="2.23" ry="1.77" fill="#ee9858" fill-opacity="0.58"/><ellipse cx="392.5" cy="565.6" rx="4.4" ry="3.3" fill="url(#tum)" transform="rotate(-29 392.5 565.6)"/><ellipse cx="393.54" cy="565.94" rx="2.36" ry="1.59" fill="#eea060" fill-opacity="0.35"/><ellipse cx="391.33" cy="566.61" rx="2.45" ry="1.6" fill="#e8803e" fill-opacity="0.50"/><ellipse cx="393.22" cy="564.35" rx="1.49" ry="1.2" fill="#eea060" fill-opacity="0.46"/><ellipse cx="415" cy="565.6" rx="3.8" ry="3.6" fill="url(#tum)" transform="rotate(-4 415 565.6)"/><ellipse cx="415.35" cy="564.02" rx="2.06" ry="1.61" fill="#ee9858" fill-opacity="0.36"/><ellipse cx="415.82" cy="565.29" rx="1.53" ry="1.41" fill="#ee9858" fill-opacity="0.33"/><ellipse cx="414.4" cy="564.25" rx="2.2" ry="1.49" fill="#eea060" fill-opacity="0.50"/><ellipse cx="431.6" cy="565.6" rx="4" ry="3.8" fill="url(#tum)" transform="rotate(5 431.6 565.6)"/><ellipse cx="431.03" cy="566.5" rx="1.71" ry="1.56" fill="#e8803e" fill-opacity="0.56"/><ellipse cx="432.73" cy="565.28" rx="2.38" ry="2.16" fill="#e27040" fill-opacity="0.57"/><ellipse cx="431.26" cy="566.36" rx="1.48" ry="0.95" fill="#e27040" fill-opacity="0.41"/><ellipse cx="451.2" cy="565.6" rx="3.6" ry="4" fill="url(#tum)" transform="rotate(23 451.2 565.6)"/><ellipse cx="452.79" cy="567.05" rx="1.42" ry="1.23" fill="#e27040" fill-opacity="0.63"/><ellipse cx="450.67" cy="566.18" rx="1.97" ry="1.97" fill="#e8803e" fill-opacity="0.44"/><ellipse cx="451.66" cy="566.32" rx="2.18" ry="1.4" fill="#e8803e" fill-opacity="0.34"/><ellipse cx="466.3" cy="565.6" rx="3.6" ry="3.8" fill="url(#tum)" transform="rotate(-16 466.3 565.6)"/><ellipse cx="466.12" cy="565.62" rx="2.12" ry="1.49" fill="#eea060" fill-opacity="0.30"/><ellipse cx="465.57" cy="565.06" rx="1.89" ry="1.57" fill="#eea060" fill-opacity="0.64"/><ellipse cx="467.9" cy="566.07" rx="2.17" ry="1.88" fill="#e8803e" fill-opacity="0.49"/></g><text x="483.4" y="497.44" font-size="5.94" textLength="17.5" lengthAdjust="spacingAndGlyphs">Vehicle</text><text x="483.4" y="523.64" font-size="5.94" textLength="27.8" lengthAdjust="spacingAndGlyphs">AS2444697</text><text x="483.4" y="547.54" font-size="5.94" textLength="25.8" lengthAdjust="spacingAndGlyphs">Ruxolitinib</text><text x="483.4" y="564.34" font-size="5.94" textLength="27.8" lengthAdjust="spacingAndGlyphs">AS2444697</text><text x="483.8" y="571.64" font-size="5.94" textLength="29" lengthAdjust="spacingAndGlyphs">+Ruxolitinib</text><rect x="0.5" y="0.5" width="519" height="629" fill="none" stroke="#4a4a4a" stroke-width="1"/></svg></body></html>
